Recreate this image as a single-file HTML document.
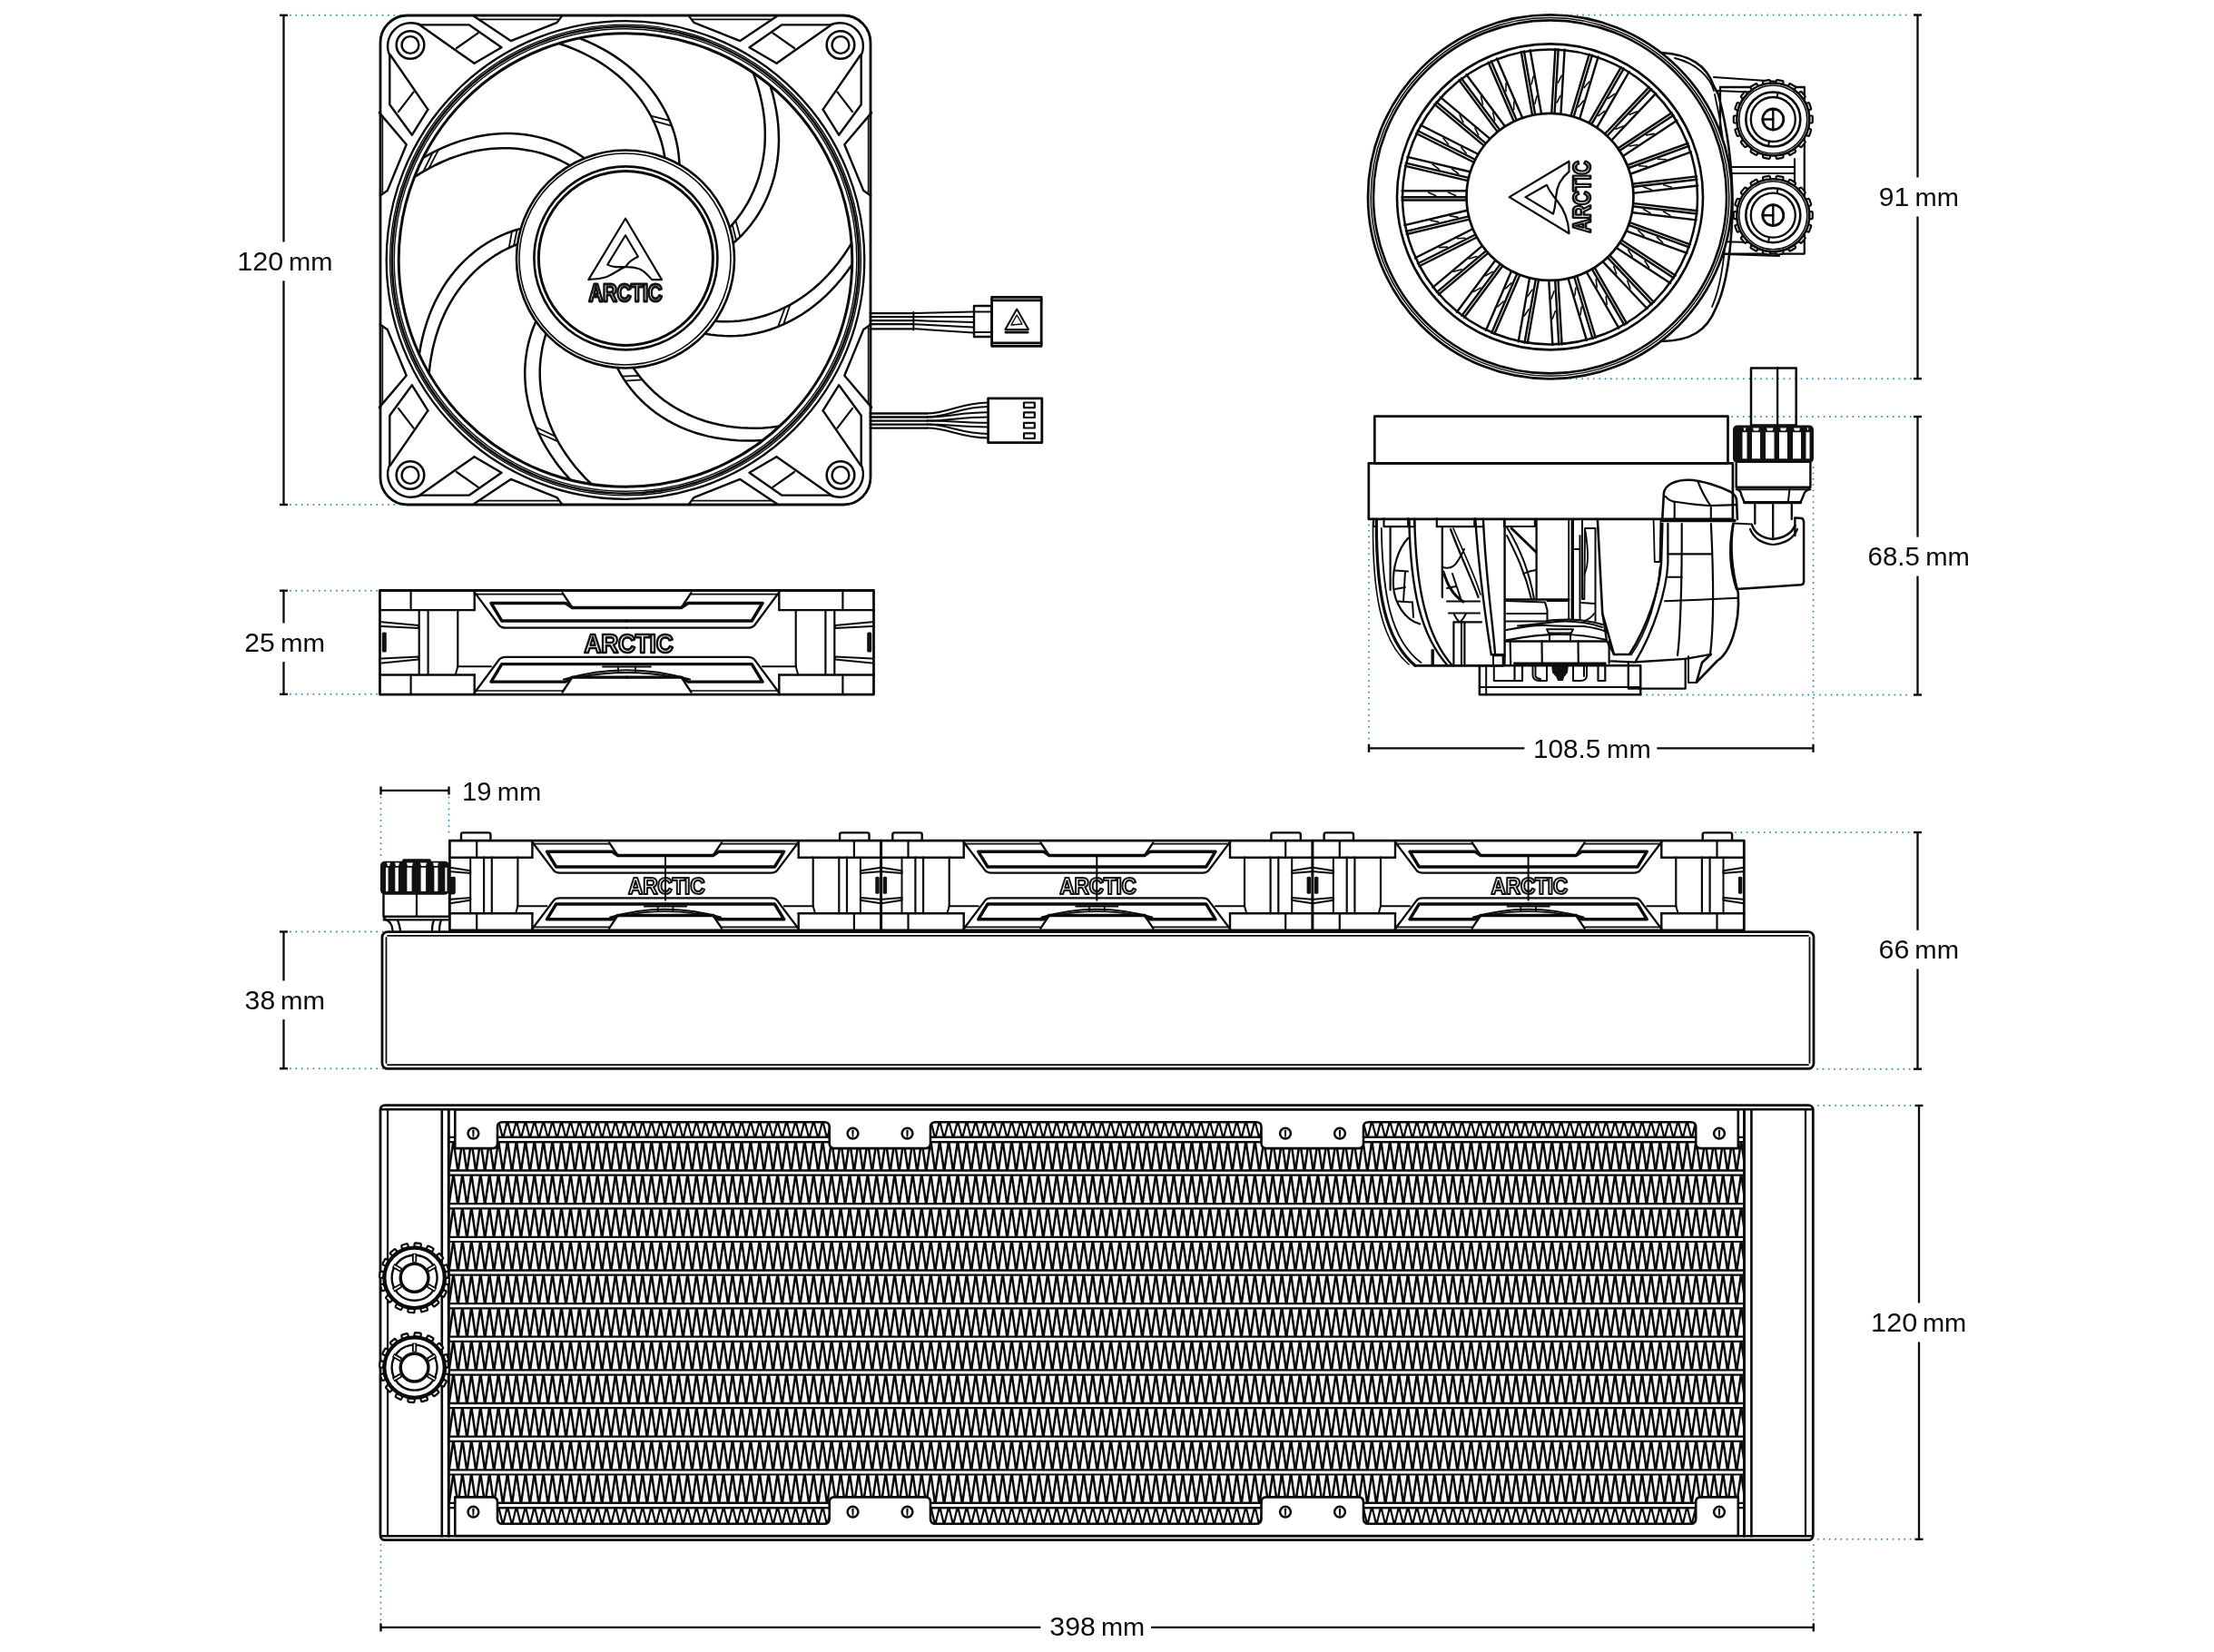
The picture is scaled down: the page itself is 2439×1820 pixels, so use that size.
<!DOCTYPE html>
<html><head><meta charset="utf-8"><style>
html,body{margin:0;padding:0;background:#fff;}
svg{display:block;will-change:transform;}
text{font-family:"Liberation Sans",sans-serif;fill:#0d0d0d;stroke:none;}
</style></head><body>
<svg width="2439" height="1820" viewBox="0 0 2439 1820">
<g fill="none" stroke="#0a0a0a" stroke-linecap="round" stroke-linejoin="round">
<g stroke-linecap="butt">
<line x1="308" y1="16.8" x2="317" y2="16.8" stroke-width="2.4"/>
<line x1="308" y1="556" x2="317" y2="556" stroke-width="2.4"/>
<line x1="312.5" y1="16.8" x2="312.5" y2="266.5" stroke-width="2.3"/>
<line x1="312.5" y1="309.3" x2="312.5" y2="556" stroke-width="2.3"/>
</g>
<line x1="320" y1="16.8" x2="441" y2="16.8" stroke="#2592a6" stroke-width="1.9" stroke-dasharray="0 6.35" stroke-linecap="round"/>
<line x1="320" y1="556" x2="441" y2="556" stroke="#2592a6" stroke-width="1.9" stroke-dasharray="0 6.35" stroke-linecap="round"/>
<g stroke-linecap="butt">
<line x1="308" y1="650.7" x2="317" y2="650.7" stroke-width="2.4"/>
<line x1="308" y1="764.8" x2="317" y2="764.8" stroke-width="2.4"/>
<line x1="312.5" y1="650.7" x2="312.5" y2="686.5" stroke-width="2.3"/>
<line x1="312.5" y1="729.1" x2="312.5" y2="764.8" stroke-width="2.3"/>
</g>
<line x1="320" y1="650.7" x2="416" y2="650.7" stroke="#2592a6" stroke-width="1.9" stroke-dasharray="0 6.35" stroke-linecap="round"/>
<line x1="320" y1="764.8" x2="416" y2="764.8" stroke="#2592a6" stroke-width="1.9" stroke-dasharray="0 6.35" stroke-linecap="round"/>
<g stroke-linecap="butt">
<line x1="308" y1="1026.5" x2="317" y2="1026.5" stroke-width="2.4"/>
<line x1="308" y1="1177.2" x2="317" y2="1177.2" stroke-width="2.4"/>
<line x1="312.5" y1="1026.5" x2="312.5" y2="1080.5" stroke-width="2.3"/>
<line x1="312.5" y1="1123.1" x2="312.5" y2="1177.2" stroke-width="2.3"/>
</g>
<line x1="320" y1="1026.5" x2="424" y2="1026.5" stroke="#2592a6" stroke-width="1.9" stroke-dasharray="0 6.35" stroke-linecap="round"/>
<line x1="320" y1="1177.2" x2="424" y2="1177.2" stroke="#2592a6" stroke-width="1.9" stroke-dasharray="0 6.35" stroke-linecap="round"/>
<g stroke-linecap="butt">
<line x1="419.5" y1="866.5" x2="419.5" y2="875.5" stroke-width="2.4"/>
<line x1="494.5" y1="866.5" x2="494.5" y2="875.5" stroke-width="2.4"/>
<line x1="419.5" y1="870.8" x2="494.5" y2="870.8" stroke-width="2.3"/>
</g>
<text x="509" y="881.6" font-size="30.0" textLength="32.5" lengthAdjust="spacingAndGlyphs">19</text>
<text x="547.7" y="881.6" font-size="27.8" textLength="48.6" lengthAdjust="spacingAndGlyphs">mm</text>
<line x1="419.5" y1="878.5" x2="419.5" y2="945" stroke="#2592a6" stroke-width="1.9" stroke-dasharray="0 6.35" stroke-linecap="round"/>
<line x1="494.5" y1="878.5" x2="494.5" y2="922" stroke="#2592a6" stroke-width="1.9" stroke-dasharray="0 6.35" stroke-linecap="round"/>
<g stroke-linecap="butt">
<line x1="2108" y1="16.5" x2="2117" y2="16.5" stroke-width="2.4"/>
<line x1="2108" y1="417.2" x2="2117" y2="417.2" stroke-width="2.4"/>
<line x1="2112.5" y1="16.5" x2="2112.5" y2="195.5" stroke-width="2.3"/>
<line x1="2112.5" y1="238.5" x2="2112.5" y2="417.2" stroke-width="2.3"/>
</g>
<line x1="1725" y1="16.5" x2="2106" y2="16.5" stroke="#2592a6" stroke-width="1.9" stroke-dasharray="0 6.35" stroke-linecap="round"/>
<line x1="1705" y1="417.2" x2="2106" y2="417.2" stroke="#2592a6" stroke-width="1.9" stroke-dasharray="0 6.35" stroke-linecap="round"/>
<g stroke-linecap="butt">
<line x1="2108" y1="459" x2="2117" y2="459" stroke-width="2.4"/>
<line x1="2108" y1="765.5" x2="2117" y2="765.5" stroke-width="2.4"/>
<line x1="2112.5" y1="459" x2="2112.5" y2="591.6" stroke-width="2.3"/>
<line x1="2112.5" y1="634.6" x2="2112.5" y2="765.5" stroke-width="2.3"/>
</g>
<line x1="1908" y1="459" x2="2106" y2="459" stroke="#2592a6" stroke-width="1.9" stroke-dasharray="0 6.35" stroke-linecap="round"/>
<line x1="1808" y1="765.5" x2="2106" y2="765.5" stroke="#2592a6" stroke-width="1.9" stroke-dasharray="0 6.35" stroke-linecap="round"/>
<g stroke-linecap="butt">
<line x1="1508" y1="819.8" x2="1508" y2="828.8" stroke-width="2.4"/>
<line x1="1997.5" y1="819.8" x2="1997.5" y2="828.8" stroke-width="2.4"/>
<line x1="1508" y1="824.3" x2="1679.4" y2="824.3" stroke-width="2.3"/>
<line x1="1825.3" y1="824.3" x2="1997.5" y2="824.3" stroke-width="2.3"/>
</g>
<line x1="1508" y1="515" x2="1508" y2="818" stroke="#2592a6" stroke-width="1.9" stroke-dasharray="0 6.35" stroke-linecap="round"/>
<line x1="1997.5" y1="515" x2="1997.5" y2="818" stroke="#2592a6" stroke-width="1.9" stroke-dasharray="0 6.35" stroke-linecap="round"/>
<g stroke-linecap="butt">
<line x1="2108" y1="917" x2="2117" y2="917" stroke-width="2.4"/>
<line x1="2108" y1="1177.7" x2="2117" y2="1177.7" stroke-width="2.4"/>
<line x1="2112.5" y1="917" x2="2112.5" y2="1024.8" stroke-width="2.3"/>
<line x1="2112.5" y1="1067.4" x2="2112.5" y2="1177.7" stroke-width="2.3"/>
</g>
<line x1="1912" y1="917" x2="2106" y2="917" stroke="#2592a6" stroke-width="1.9" stroke-dasharray="0 6.35" stroke-linecap="round"/>
<line x1="2002" y1="1177.7" x2="2106" y2="1177.7" stroke="#2592a6" stroke-width="1.9" stroke-dasharray="0 6.35" stroke-linecap="round"/>
<g stroke-linecap="butt">
<line x1="2109.5" y1="1218" x2="2118.5" y2="1218" stroke-width="2.4"/>
<line x1="2109.5" y1="1695.8" x2="2118.5" y2="1695.8" stroke-width="2.4"/>
<line x1="2114" y1="1218" x2="2114" y2="1435.5" stroke-width="2.3"/>
<line x1="2114" y1="1478.5" x2="2114" y2="1695.8" stroke-width="2.3"/>
</g>
<line x1="2003" y1="1218" x2="2108" y2="1218" stroke="#2592a6" stroke-width="1.9" stroke-dasharray="0 6.35" stroke-linecap="round"/>
<line x1="2003" y1="1695.8" x2="2108" y2="1695.8" stroke="#2592a6" stroke-width="1.9" stroke-dasharray="0 6.35" stroke-linecap="round"/>
<g stroke-linecap="butt">
<line x1="419.5" y1="1788.4" x2="419.5" y2="1797.4" stroke-width="2.4"/>
<line x1="1997.8" y1="1788.4" x2="1997.8" y2="1797.4" stroke-width="2.4"/>
<line x1="419.5" y1="1792.9" x2="1146.3" y2="1792.9" stroke-width="2.3"/>
<line x1="1268" y1="1792.9" x2="1997.8" y2="1792.9" stroke-width="2.3"/>
</g>
<line x1="419.5" y1="1702" x2="419.5" y2="1787" stroke="#2592a6" stroke-width="1.9" stroke-dasharray="0 6.35" stroke-linecap="round"/>
<line x1="1997.8" y1="1702" x2="1997.8" y2="1787" stroke="#2592a6" stroke-width="1.9" stroke-dasharray="0 6.35" stroke-linecap="round"/>
<text x="261.2" y="297.9" font-size="30.0" textLength="51.1" lengthAdjust="spacingAndGlyphs">120</text>
<text x="318" y="297.9" font-size="27.8" textLength="48.5" lengthAdjust="spacingAndGlyphs">mm</text>
<text x="2069.7" y="227.3" font-size="30.0" textLength="33.6" lengthAdjust="spacingAndGlyphs">91</text>
<text x="2109.6" y="227.3" font-size="27.8" textLength="48.4" lengthAdjust="spacingAndGlyphs">mm</text>
<text x="2057.6" y="623.4" font-size="30.0" textLength="57.3" lengthAdjust="spacingAndGlyphs">68.5</text>
<text x="2121.2" y="623.4" font-size="27.8" textLength="48.7" lengthAdjust="spacingAndGlyphs">mm</text>
<text x="1688.9" y="835.2" font-size="30.0" textLength="74.4" lengthAdjust="spacingAndGlyphs">108.5</text>
<text x="1770.1" y="835.2" font-size="27.8" textLength="48.6" lengthAdjust="spacingAndGlyphs">mm</text>
<text x="269.3" y="717.6" font-size="30.0" textLength="33.5" lengthAdjust="spacingAndGlyphs">25</text>
<text x="308.9" y="717.6" font-size="27.8" textLength="49.1" lengthAdjust="spacingAndGlyphs">mm</text>
<text x="269.6" y="1111.8" font-size="30.0" textLength="33.6" lengthAdjust="spacingAndGlyphs">38</text>
<text x="308.9" y="1111.8" font-size="27.8" textLength="49.1" lengthAdjust="spacingAndGlyphs">mm</text>
<text x="2069.6" y="1055.9" font-size="30.0" textLength="33.8" lengthAdjust="spacingAndGlyphs">66</text>
<text x="2109.3" y="1055.9" font-size="27.8" textLength="48.7" lengthAdjust="spacingAndGlyphs">mm</text>
<text x="2061.1" y="1467.3" font-size="30.0" textLength="51.2" lengthAdjust="spacingAndGlyphs">120</text>
<text x="2117.9" y="1467.3" font-size="27.8" textLength="48.4" lengthAdjust="spacingAndGlyphs">mm</text>
<text x="1156.3" y="1801.8" font-size="30.0" textLength="50.5" lengthAdjust="spacingAndGlyphs">398</text>
<text x="1213" y="1801.8" font-size="27.8" textLength="48.2" lengthAdjust="spacingAndGlyphs">mm</text>
<g id="fanfront">
<rect x="419" y="17" width="540" height="539" rx="30" stroke-width="2.8"/>
<circle cx="452" cy="49.5" r="15.3" stroke-width="2.6"/>
<circle cx="452" cy="49.5" r="9.4" stroke-width="2.4"/>
<polyline points="463,27.4 517,27.4 552.5,52.2 522.5,69.8" stroke-width="2.4"/>
<line x1="461" y1="26.6" x2="522.5" y2="69.8" stroke-width="2.4"/>
<polyline points="429.3,61 429.3,115.3 453.9,148.7 471.4,120.6" stroke-width="2.4"/>
<line x1="430" y1="60.5" x2="471.4" y2="120.6" stroke-width="2.4"/>
<path d="M429.3,61 A25.5,25.5 0 0 1 463,27.4" stroke-width="2.4"/>
<line x1="503" y1="53" x2="526.6" y2="36.3" stroke-width="2.2"/>
<line x1="438.9" y1="123.2" x2="455.6" y2="101.3" stroke-width="2.2"/>
<polyline points="522.3,17.9 562.7,45.1 613.6,24.9 618.9,17.9" stroke-width="2.4"/>
<line x1="527.6" y1="21.4" x2="615.5" y2="21.4" stroke-width="1.6"/>
<polyline points="417.9,124.1 447.7,159.2 426.7,210.1 418.8,215.4" stroke-width="2.4"/>
<line x1="421.4" y1="128" x2="421.4" y2="212" stroke-width="1.6"/>
<circle cx="926" cy="49.5" r="15.3" stroke-width="2.6"/>
<circle cx="926" cy="49.5" r="9.4" stroke-width="2.4"/>
<polyline points="915,27.4 861,27.4 825.5,52.2 855.5,69.8" stroke-width="2.4"/>
<line x1="917" y1="26.6" x2="855.5" y2="69.8" stroke-width="2.4"/>
<polyline points="948.7,61 948.7,115.3 924.1,148.7 906.6,120.6" stroke-width="2.4"/>
<line x1="948" y1="60.5" x2="906.6" y2="120.6" stroke-width="2.4"/>
<path d="M948.7,61 A25.5,25.5 0 0 0 915,27.4" stroke-width="2.4"/>
<line x1="875" y1="53" x2="851.4" y2="36.3" stroke-width="2.2"/>
<line x1="939.1" y1="123.2" x2="922.4" y2="101.3" stroke-width="2.2"/>
<polyline points="855.7,17.9 815.3,45.1 764.4,24.9 759.1,17.9" stroke-width="2.4"/>
<line x1="850.4" y1="21.4" x2="762.5" y2="21.4" stroke-width="1.6"/>
<polyline points="960.1,124.1 930.3,159.2 951.3,210.1 959.2,215.4" stroke-width="2.4"/>
<line x1="956.6" y1="128" x2="956.6" y2="212" stroke-width="1.6"/>
<circle cx="452" cy="523.5" r="15.3" stroke-width="2.6"/>
<circle cx="452" cy="523.5" r="9.4" stroke-width="2.4"/>
<polyline points="463,545.6 517,545.6 552.5,520.8 522.5,503.2" stroke-width="2.4"/>
<line x1="461" y1="546.4" x2="522.5" y2="503.2" stroke-width="2.4"/>
<polyline points="429.3,512 429.3,457.7 453.9,424.3 471.4,452.4" stroke-width="2.4"/>
<line x1="430" y1="512.5" x2="471.4" y2="452.4" stroke-width="2.4"/>
<path d="M429.3,512 A25.5,25.5 0 0 0 463,545.6" stroke-width="2.4"/>
<line x1="503" y1="520" x2="526.6" y2="536.7" stroke-width="2.2"/>
<line x1="438.9" y1="449.8" x2="455.6" y2="471.7" stroke-width="2.2"/>
<polyline points="522.3,555.1 562.7,527.9 613.6,548.1 618.9,555.1" stroke-width="2.4"/>
<line x1="527.6" y1="551.6" x2="615.5" y2="551.6" stroke-width="1.6"/>
<polyline points="417.9,448.9 447.7,413.8 426.7,362.9 418.8,357.6" stroke-width="2.4"/>
<line x1="421.4" y1="445" x2="421.4" y2="361" stroke-width="1.6"/>
<circle cx="926" cy="523.5" r="15.3" stroke-width="2.6"/>
<circle cx="926" cy="523.5" r="9.4" stroke-width="2.4"/>
<polyline points="915,545.6 861,545.6 825.5,520.8 855.5,503.2" stroke-width="2.4"/>
<line x1="917" y1="546.4" x2="855.5" y2="503.2" stroke-width="2.4"/>
<polyline points="948.7,512 948.7,457.7 924.1,424.3 906.6,452.4" stroke-width="2.4"/>
<line x1="948" y1="512.5" x2="906.6" y2="452.4" stroke-width="2.4"/>
<path d="M948.7,512 A25.5,25.5 0 0 1 915,545.6" stroke-width="2.4"/>
<line x1="875" y1="520" x2="851.4" y2="536.7" stroke-width="2.2"/>
<line x1="939.1" y1="449.8" x2="922.4" y2="471.7" stroke-width="2.2"/>
<polyline points="855.7,555.1 815.3,527.9 764.4,548.1 759.1,555.1" stroke-width="2.4"/>
<line x1="850.4" y1="551.6" x2="762.5" y2="551.6" stroke-width="1.6"/>
<polyline points="960.1,448.9 930.3,413.8 951.3,362.9 959.2,357.6" stroke-width="2.4"/>
<line x1="956.6" y1="445" x2="956.6" y2="361" stroke-width="1.6"/>
<circle cx="689" cy="286.5" r="263.3" stroke-width="2.3"/>
<circle cx="689" cy="286.5" r="259.4" stroke-width="1.4"/>
<circle cx="689" cy="286.5" r="257.2" stroke-width="2.6"/>
<circle cx="689" cy="286.5" r="254.8" stroke-width="1.4"/>
<circle cx="689" cy="286.5" r="249.8" stroke-width="3.0"/>
<polyline points="467.3,173.1 475.1,168.8 483,164.9 490.9,161.4 498.9,158.2 506.9,155.4 514.9,153.1 523,151.1 531,149.5 539,148.3 547,147.5 555,147.1 562.8,147.1 570.6,147.5 578.3,148.3 585.9,149.5 593.4,151.1 600.6,153 607.7,155.3 614.6,157.9 621.3,160.9 627.8,164.2 634,167.8 639.9,171.6 645.6,175.7" stroke-width="2.5"/>
<polyline points="457.6,194.4 464.8,189.9 472,185.8 479.3,182 486.7,178.5 494.1,175.3 501.6,172.6 509.1,170.1 516.6,168 524.2,166.3 531.8,165 539.4,164 546.9,163.4 554.4,163.2 561.9,163.3 569.3,163.8 576.6,164.7 583.8,165.9 590.8,167.4 597.8,169.3 604.5,171.5 611.1,174 617.5,176.9 623.7,180 629.7,183.3" stroke-width="2.5"/>
<line x1="466.2" y1="189.1" x2="476.7" y2="168" stroke-width="1.8"/>
<line x1="472.3" y1="185.6" x2="483.3" y2="164.7" stroke-width="1.8"/>
<polyline points="639.5,42.5 647.7,45.9 655.7,49.6 663.4,53.6 670.8,57.9 677.9,62.4 684.8,67.2 691.4,72.3 697.6,77.5 703.6,83.1 709.2,88.8 714.4,94.8 719.3,101 723.9,107.3 728,113.8 731.8,120.5 735.2,127.3 738.3,134.2 740.9,141.2 743.2,148.2 745,155.3 746.5,162.4 747.5,169.5 748.2,176.5 748.6,183.5" stroke-width="2.5"/>
<polyline points="616.7,48.2 624.7,51 632.5,54.1 640,57.4 647.3,61 654.4,64.8 661.2,68.9 667.8,73.3 674.2,77.9 680.2,82.7 686,87.8 691.5,93.1 696.6,98.7 701.5,104.4 706.1,110.3 710.3,116.4 714.2,122.6 717.7,129 720.9,135.5 723.7,142.1 726.2,148.8 728.4,155.5 730.2,162.3 731.6,169 732.7,175.8" stroke-width="2.5"/>
<line x1="717" y1="127.7" x2="737.7" y2="132.8" stroke-width="1.8"/>
<line x1="719.8" y1="133.2" x2="740" y2="138.6" stroke-width="1.8"/>
<polyline points="848.9,95.6 851.4,104.2 853.4,112.8 855.1,121.3 856.4,129.7 857.3,138.2 857.8,146.5 858,154.8 857.7,163 857.1,171 856.1,179 854.7,186.8 853,194.5 850.8,202 848.3,209.4 845.5,216.5 842.3,223.4 838.8,230.1 835,236.5 830.9,242.6 826.5,248.5 821.9,254 817,259.3 811.9,264.2 806.7,268.8" stroke-width="2.5"/>
<polyline points="830.2,81.4 833,89.4 835.5,97.4 837.6,105.4 839.3,113.3 840.7,121.2 841.8,129.2 842.5,137 842.8,144.8 842.8,152.6 842.5,160.3 841.7,167.9 840.6,175.4 839.2,182.7 837.4,190 835.3,197.1 832.8,204 830,210.8 826.9,217.3 823.6,223.6 819.9,229.7 816,235.6 811.8,241.2 807.4,246.6 802.8,251.6" stroke-width="2.5"/>
<line x1="810.4" y1="243" x2="815.4" y2="260.9" stroke-width="1.8"/>
<line x1="806.7" y1="247.4" x2="811.1" y2="265" stroke-width="1.8"/>
<polyline points="937.9,292.5 932.7,299.8 927.3,306.7 921.7,313.3 915.9,319.6 909.9,325.6 903.7,331.2 897.3,336.5 890.8,341.4 884.1,346 877.2,350.1 870.2,353.9 863.1,357.4 855.9,360.4 848.7,363 841.3,365.2 833.9,367 826.5,368.4 819.1,369.5 811.8,370.1 804.5,370.3 797.2,370.1 790.1,369.6 783.1,368.7 776.2,367.5" stroke-width="2.5"/>
<polyline points="937.4,269.1 932.9,276.2 928.2,283.1 923.3,289.7 918.1,296.1 912.8,302.1 907.3,307.9 901.6,313.3 895.7,318.5 889.6,323.3 883.4,327.8 877,331.9 870.4,335.8 863.8,339.2 857,342.4 850.1,345.1 843.2,347.5 836.2,349.5 829.1,351.2 822,352.5 815,353.5 807.9,354 801,354.3 794,354.2 787.2,353.7" stroke-width="2.5"/>
<line x1="870.4" y1="335.8" x2="863.1" y2="357.4" stroke-width="1.8"/>
<line x1="864.8" y1="338.7" x2="857.1" y2="359.9" stroke-width="1.8"/>
<polyline points="839.5,484.9 830.6,485.4 821.8,485.5 813.1,485.2 804.6,484.6 796.2,483.6 787.9,482.3 779.8,480.6 771.9,478.5 764.1,476.1 756.6,473.3 749.3,470.3 742.2,466.8 735.3,463.1 728.7,459 722.4,454.7 716.4,450 710.7,445.1 705.3,440 700.2,434.6 695.5,429 691.1,423.3 687,417.4 683.4,411.3 680,405.2" stroke-width="2.5"/>
<polyline points="857.5,469.8 849.1,470.8 840.8,471.4 832.5,471.7 824.4,471.6 816.3,471.2 808.4,470.5 800.6,469.4 792.9,468 785.3,466.3 777.9,464.2 770.7,461.8 763.6,459.1 756.7,456 750.1,452.7 743.6,449 737.4,445.1 731.5,440.9 725.8,436.4 720.3,431.7 715.2,426.7 710.4,421.6 705.8,416.3 701.6,410.8 697.7,405.2" stroke-width="2.5"/>
<line x1="707.6" y1="418.4" x2="688.6" y2="419.7" stroke-width="1.8"/>
<line x1="703.9" y1="413.9" x2="685.4" y2="414.7" stroke-width="1.8"/>
<polyline points="627.7,527.8 621.8,521.2 616.2,514.4 611,507.4 606.2,500.4 601.7,493.2 597.6,485.9 593.9,478.5 590.6,471 587.6,463.5 585.1,455.8 582.9,448.2 581.2,440.5 579.8,432.8 578.9,425.1 578.4,417.5 578.2,409.9 578.5,402.3 579.2,394.9 580.2,387.6 581.6,380.4 583.4,373.4 585.5,366.5 587.9,359.9 590.6,353.5" stroke-width="2.5"/>
<polyline points="650.7,532.5 644.7,526.6 639.1,520.4 633.7,514.2 628.7,507.8 624,501.2 619.6,494.6 615.5,487.8 611.8,480.9 608.5,473.9 605.5,466.8 602.9,459.6 600.6,452.4 598.7,445.1 597.2,437.8 596,430.5 595.2,423.2 594.8,415.9 594.7,408.7 595,401.5 595.7,394.4 596.7,387.4 598,380.6 599.7,373.8 601.6,367.3" stroke-width="2.5"/>
<line x1="614.8" y1="486.4" x2="593.2" y2="477" stroke-width="1.8"/>
<line x1="611.7" y1="480.6" x2="590.4" y2="470.7" stroke-width="1.8"/>
<polyline points="462.1,389 463.6,380.3 465.5,371.7 467.7,363.3 470.2,355.1 473,347.1 476.1,339.4 479.6,331.8 483.4,324.6 487.4,317.6 491.8,310.8 496.4,304.4 501.4,298.2 506.5,292.4 512,286.8 517.6,281.7 523.5,276.8 529.5,272.3 535.8,268.2 542.1,264.5 548.6,261.1 555.2,258.1 561.9,255.5 568.6,253.2 575.3,251.4" stroke-width="2.5"/>
<polyline points="472.8,409.9 473.7,401.6 475,393.3 476.5,385.2 478.4,377.3 480.6,369.5 483.1,361.9 485.8,354.6 488.9,347.4 492.3,340.4 496,333.6 499.9,327.1 504.2,320.8 508.7,314.8 513.4,309.1 518.4,303.6 523.6,298.4 529.1,293.5 534.7,289 540.5,284.7 546.4,280.8 552.5,277.2 558.7,274 565,271.1 571.4,268.5" stroke-width="2.5"/>
<line x1="560.7" y1="273" x2="564" y2="254.7" stroke-width="1.8"/>
<line x1="566" y1="270.7" x2="569.7" y2="252.9" stroke-width="1.8"/>
<circle cx="689.0" cy="285.5" r="120" stroke-width="2.6" fill="#fff"/>
<circle cx="688.5" cy="285.5" r="116.5" stroke-width="1.6"/>
<circle cx="689.4" cy="284.4" r="101" stroke-width="2.6"/>
<circle cx="689.4" cy="284.4" r="96" stroke-width="3.0"/>
<path d="M689,240.7 L729,308.1 L718.2,308.1 C712,301 708,297 703.6,296 C699,294.5 695,294.1 690.9,294.1 L678.1,294.1 C674,293.5 671,292.5 669.2,291.6 L689,259.2 L702.9,282.7 C697,285.5 692,289 689.6,293.5 C687,295 686,295.5 684.5,296 C678,300 673,303 668.6,304.9 C662,307 656,307.8 650.8,307.8 L648.3,308.1 Z" stroke-width="2.1"/>
<text x="0" y="0" transform="translate(648.5,332.3) scale(0.815,1)" font-size="27" font-weight="bold" style="fill:#fff;stroke:#111;stroke-width:2.9px;letter-spacing:-0.5px">ARCTIC</text>
<line x1="958.6" y1="345.1" x2="1006.4" y2="345.1" stroke-width="2.3"/>
<line x1="958.6" y1="349.1" x2="1006.4" y2="349.1" stroke-width="2.3"/>
<line x1="958.6" y1="353.1" x2="1006.4" y2="353.1" stroke-width="2.3"/>
<line x1="958.6" y1="357.2" x2="1006.4" y2="357.2" stroke-width="2.3"/>
<line x1="958.6" y1="362.3" x2="1006.4" y2="362.3" stroke-width="2.3"/>
<line x1="1008" y1="345.1" x2="1072" y2="343.4" stroke-width="2.0"/>
<line x1="1008" y1="349.1" x2="1072" y2="349" stroke-width="2.0"/>
<line x1="1008" y1="353.1" x2="1072" y2="355" stroke-width="2.0"/>
<line x1="1008" y1="357.2" x2="1072" y2="360.6" stroke-width="2.0"/>
<line x1="1008" y1="362.3" x2="1072" y2="366.4" stroke-width="2.0"/>
<line x1="1006.4" y1="344" x2="1006.4" y2="363.5" stroke-width="2.0"/>
<rect x="1073" y="337" width="19.5" height="34" stroke-width="2.4"/>
<line x1="1073" y1="343.5" x2="1092" y2="343.5" stroke-width="2.0"/>
<line x1="1073" y1="366" x2="1092" y2="366" stroke-width="2.0"/>
<rect x="1092.6" y="327.3" width="54.6" height="54" stroke-width="2.8"/>
<line x1="1092.6" y1="330.8" x2="1147.2" y2="330.8" stroke-width="2.8"/>
<line x1="1092.6" y1="377.9" x2="1147.2" y2="377.9" stroke-width="2.8"/>
<path d="M1120.2,340.5 L1133,363 L1107.4,363 Z" stroke-width="2.0"/>
<path d="M1120.2,347 L1126,357 L1114,358 Z" stroke-width="1.4"/>
<line x1="1108" y1="366" x2="1132" y2="366" stroke-width="3.0"/>
<line x1="958.6" y1="455.5" x2="1021.3" y2="455.5" stroke-width="2.3"/>
<line x1="958.6" y1="459.5" x2="1021.3" y2="459.5" stroke-width="2.3"/>
<line x1="958.6" y1="463.6" x2="1021.3" y2="463.6" stroke-width="2.3"/>
<line x1="958.6" y1="467.6" x2="1021.3" y2="467.6" stroke-width="2.3"/>
<line x1="958.6" y1="471.6" x2="1021.3" y2="471.6" stroke-width="2.3"/>
<path d="M1021.3,455.5 C1045,455.5 1058,443.4 1088.6,443.4" stroke-width="2.0"/>
<path d="M1021.3,459.5 C1045,459.5 1058,448.0 1088.6,448.0" stroke-width="2.0"/>
<path d="M1021.3,459.5 C1045,459.5 1058,454.3 1088.6,454.3" stroke-width="2.0"/>
<path d="M1021.3,463.6 C1045,463.6 1058,459.5 1088.6,459.5" stroke-width="2.0"/>
<path d="M1021.3,463.6 C1045,463.6 1058,465.8 1088.6,465.8" stroke-width="2.0"/>
<path d="M1021.3,467.6 C1045,467.6 1058,470.4 1088.6,470.4" stroke-width="2.0"/>
<path d="M1021.3,467.6 C1045,467.6 1058,477.9 1088.6,477.9" stroke-width="2.0"/>
<path d="M1021.3,471.6 C1045,471.6 1058,482.5 1088.6,482.5" stroke-width="2.0"/>
<rect x="1088.6" y="438.8" width="59.2" height="48.9" stroke-width="2.8"/>
<rect x="1128" y="443.5" width="11.8" height="5.6" stroke-width="2.2"/>
<rect x="1128" y="454.4" width="11.8" height="5.6" stroke-width="2.2"/>
<rect x="1128" y="465.9" width="11.8" height="5.6" stroke-width="2.2"/>
<rect x="1128" y="477.4" width="11.8" height="5.6" stroke-width="2.2"/>
</g>
<g>
<rect x="418.5" y="650.5" width="544" height="114.6" stroke-width="2.8" fill="#fff"/>
<line x1="418.5" y1="672.1" x2="522.7" y2="672.1" stroke-width="2.4"/>
<line x1="522.7" y1="650.5" x2="522.7" y2="672.1" stroke-width="2.4"/>
<line x1="452.6" y1="650.5" x2="452.6" y2="672.1" stroke-width="2.2"/>
<path d="M522.7,652.4 L549.5,688.5 Q552,691.7 557,691.7 L690.5,691.7" stroke-width="2.3"/>
<path d="M541,664.5 L623,664.5 L630.5,669.5 L690.5,669.5 M541,664.5 L552.8,684 L690.5,684" stroke-width="3.4"/>
<line x1="523.5" y1="654.6" x2="619.6" y2="654.6" stroke-width="1.6"/>
<line x1="418.5" y1="743.5" x2="522.7" y2="743.5" stroke-width="2.4"/>
<line x1="522.7" y1="765.1" x2="522.7" y2="743.5" stroke-width="2.4"/>
<line x1="452.6" y1="765.1" x2="452.6" y2="743.5" stroke-width="2.2"/>
<path d="M522.7,763.2 L549.5,727.1 Q552,723.9 557,723.9 L690.5,723.9" stroke-width="2.3"/>
<path d="M541,751.1 L623,751.1 L630.5,746.1 L690.5,746.1 M541,751.1 L552.8,731.6 L690.5,731.6" stroke-width="3.4"/>
<line x1="523.5" y1="761" x2="619.6" y2="761" stroke-width="1.6"/>
<path d="M619.6,653.1 L630.5,669.5 L690.5,669.5" stroke-width="2.3"/>
<path d="M619.6,762.5 L630.5,746.1 L690.5,746.1" stroke-width="2.3"/>
<line x1="461.7" y1="672.1" x2="461.7" y2="743.5" stroke-width="2.2"/>
<line x1="471.6" y1="672.1" x2="471.6" y2="743.5" stroke-width="2.2"/>
<line x1="504.3" y1="672.1" x2="504.3" y2="734.3" stroke-width="2.2"/>
<line x1="504.3" y1="734.3" x2="501.7" y2="743.5" stroke-width="2.0"/>
<line x1="504.3" y1="734.3" x2="541" y2="734.3" stroke-width="2.0"/>
<path d="M420.5,685.2 L461,689 L461,692 L420.5,690" stroke-width="2.0"/>
<path d="M420.5,730.4 L461,726.6 L461,723.6 L420.5,725.6" stroke-width="2.0"/>
<rect x="420.8" y="696.5" width="5" height="22" rx="1.5" fill="#111" stroke="none"/>
<line x1="962.5" y1="672.1" x2="858.3" y2="672.1" stroke-width="2.4"/>
<line x1="858.3" y1="650.5" x2="858.3" y2="672.1" stroke-width="2.4"/>
<line x1="928.4" y1="650.5" x2="928.4" y2="672.1" stroke-width="2.2"/>
<path d="M858.3,652.4 L831.5,688.5 Q829,691.7 824,691.7 L690.5,691.7" stroke-width="2.3"/>
<path d="M840,664.5 L758,664.5 L750.5,669.5 L690.5,669.5 M840,664.5 L828.2,684 L690.5,684" stroke-width="3.4"/>
<line x1="857.5" y1="654.6" x2="761.4" y2="654.6" stroke-width="1.6"/>
<line x1="962.5" y1="743.5" x2="858.3" y2="743.5" stroke-width="2.4"/>
<line x1="858.3" y1="765.1" x2="858.3" y2="743.5" stroke-width="2.4"/>
<line x1="928.4" y1="765.1" x2="928.4" y2="743.5" stroke-width="2.2"/>
<path d="M858.3,763.2 L831.5,727.1 Q829,723.9 824,723.9 L690.5,723.9" stroke-width="2.3"/>
<path d="M840,751.1 L758,751.1 L750.5,746.1 L690.5,746.1 M840,751.1 L828.2,731.6 L690.5,731.6" stroke-width="3.4"/>
<line x1="857.5" y1="761" x2="761.4" y2="761" stroke-width="1.6"/>
<path d="M761.4,653.1 L750.5,669.5 L690.5,669.5" stroke-width="2.3"/>
<path d="M761.4,762.5 L750.5,746.1 L690.5,746.1" stroke-width="2.3"/>
<line x1="919.3" y1="672.1" x2="919.3" y2="743.5" stroke-width="2.2"/>
<line x1="909.4" y1="672.1" x2="909.4" y2="743.5" stroke-width="2.2"/>
<line x1="876.7" y1="672.1" x2="876.7" y2="734.3" stroke-width="2.2"/>
<line x1="876.7" y1="734.3" x2="879.3" y2="743.5" stroke-width="2.0"/>
<line x1="876.7" y1="734.3" x2="840" y2="734.3" stroke-width="2.0"/>
<path d="M960.5,685.2 L920,689 L920,692 L960.5,690" stroke-width="2.0"/>
<path d="M960.5,730.4 L920,726.6 L920,723.6 L960.5,725.6" stroke-width="2.0"/>
<rect x="955.2" y="696.5" width="5" height="22" rx="1.5" fill="#111" stroke="none"/>
<path d="M621,748.5 Q690,728 760,748.5" stroke-width="2.2"/>
<path d="M638,746 Q690,736 743,746" stroke-width="1.8"/>
<line x1="681" y1="734.5" x2="681" y2="741" stroke-width="1.8"/>
<line x1="700" y1="734.5" x2="700" y2="741" stroke-width="1.8"/>
<line x1="664" y1="734.5" x2="717" y2="734.5" stroke-width="1.8"/>
<text x="0" y="0" transform="translate(643.5,719.3) scale(0.9,1)" font-size="29.3" font-weight="bold" style="fill:#fff;stroke:#111;stroke-width:2.6px;letter-spacing:-0.3px">ARCTIC</text>
</g>
<rect x="421" y="1026.6" width="1577" height="150.8" rx="6" stroke-width="2.8" fill="#fff"/>
<line x1="427" y1="1030.8" x2="1992" y2="1030.8" stroke-width="1.8"/>
<line x1="425.5" y1="1033" x2="425.5" y2="1171" stroke-width="1.8"/>
<line x1="1993.5" y1="1033" x2="1993.5" y2="1171" stroke-width="1.8"/>
<line x1="427" y1="1173.2" x2="1992" y2="1173.2" stroke-width="1.8"/>
<rect x="508" y="917.4" width="32.4" height="10" rx="2" stroke-width="2.4" fill="#fff"/>
<rect x="925.1" y="917.4" width="32.4" height="10" rx="2" stroke-width="2.4" fill="#fff"/>
<g>
<rect x="495.4" y="926.1" width="475.3" height="98.8" stroke-width="2.8" fill="#fff"/>
<line x1="495.4" y1="944.7" x2="586.4" y2="944.7" stroke-width="2.4"/>
<line x1="586.4" y1="926.1" x2="586.4" y2="944.7" stroke-width="2.4"/>
<line x1="525.2" y1="926.1" x2="525.2" y2="944.7" stroke-width="2.2"/>
<path d="M586.4,927.7 L609.9,958.9 Q612,961.6 616.4,961.6 L733,961.6" stroke-width="2.3"/>
<path d="M602.4,938.2 L674.1,938.2 L680.6,942.5 L733,942.5 M602.4,938.2 L612.7,955 L733,955" stroke-width="3.4"/>
<line x1="587.1" y1="929.6" x2="671.1" y2="929.6" stroke-width="1.6"/>
<line x1="495.4" y1="1006.3" x2="586.4" y2="1006.3" stroke-width="2.4"/>
<line x1="586.4" y1="1024.9" x2="586.4" y2="1006.3" stroke-width="2.4"/>
<line x1="525.2" y1="1024.9" x2="525.2" y2="1006.3" stroke-width="2.2"/>
<path d="M586.4,1023.3 L609.9,992.1 Q612,989.4 616.4,989.4 L733,989.4" stroke-width="2.3"/>
<path d="M602.4,1012.8 L674.1,1012.8 L680.6,1008.5 L733,1008.5 M602.4,1012.8 L612.7,996 L733,996" stroke-width="3.4"/>
<line x1="587.1" y1="1021.4" x2="671.1" y2="1021.4" stroke-width="1.6"/>
<path d="M671.1,928.3 L680.6,942.5 L733,942.5" stroke-width="2.3"/>
<path d="M671.1,1022.7 L680.6,1008.5 L733,1008.5" stroke-width="2.3"/>
<line x1="533.1" y1="944.7" x2="533.1" y2="1006.3" stroke-width="2.2"/>
<line x1="541.8" y1="944.7" x2="541.8" y2="1006.3" stroke-width="2.2"/>
<line x1="570.4" y1="944.7" x2="570.4" y2="998.3" stroke-width="2.2"/>
<line x1="570.4" y1="998.3" x2="568.1" y2="1006.3" stroke-width="2.0"/>
<line x1="570.4" y1="998.3" x2="602.4" y2="998.3" stroke-width="2.0"/>
<line x1="518.2" y1="944.7" x2="518.2" y2="1006.3" stroke-width="2.0"/>
<path d="M497.1,956 L518.2,959.3 L518.2,961.9 L497.1,960.2" stroke-width="2.0"/>
<path d="M497.1,995 L518.2,991.7 L518.2,989.1 L497.1,990.8" stroke-width="2.0"/>
<rect x="497.4" y="965.8" width="4.4" height="19" rx="1.5" fill="#111" stroke="none"/>
<line x1="970.7" y1="944.7" x2="879.7" y2="944.7" stroke-width="2.4"/>
<line x1="879.7" y1="926.1" x2="879.7" y2="944.7" stroke-width="2.4"/>
<line x1="940.9" y1="926.1" x2="940.9" y2="944.7" stroke-width="2.2"/>
<path d="M879.7,927.7 L856.2,958.9 Q854.1,961.6 849.7,961.6 L733.1,961.6" stroke-width="2.3"/>
<path d="M863.7,938.2 L792,938.2 L785.5,942.5 L733.1,942.5 M863.7,938.2 L853.4,955 L733.1,955" stroke-width="3.4"/>
<line x1="879" y1="929.6" x2="795" y2="929.6" stroke-width="1.6"/>
<line x1="970.7" y1="1006.3" x2="879.7" y2="1006.3" stroke-width="2.4"/>
<line x1="879.7" y1="1024.9" x2="879.7" y2="1006.3" stroke-width="2.4"/>
<line x1="940.9" y1="1024.9" x2="940.9" y2="1006.3" stroke-width="2.2"/>
<path d="M879.7,1023.3 L856.2,992.1 Q854.1,989.4 849.7,989.4 L733.1,989.4" stroke-width="2.3"/>
<path d="M863.7,1012.8 L792,1012.8 L785.5,1008.5 L733.1,1008.5 M863.7,1012.8 L853.4,996 L733.1,996" stroke-width="3.4"/>
<line x1="879" y1="1021.4" x2="795" y2="1021.4" stroke-width="1.6"/>
<path d="M795,928.3 L785.5,942.5 L733.1,942.5" stroke-width="2.3"/>
<path d="M795,1022.7 L785.5,1008.5 L733.1,1008.5" stroke-width="2.3"/>
<line x1="933" y1="944.7" x2="933" y2="1006.3" stroke-width="2.2"/>
<line x1="924.3" y1="944.7" x2="924.3" y2="1006.3" stroke-width="2.2"/>
<line x1="895.7" y1="944.7" x2="895.7" y2="998.3" stroke-width="2.2"/>
<line x1="895.7" y1="998.3" x2="898" y2="1006.3" stroke-width="2.0"/>
<line x1="895.7" y1="998.3" x2="863.7" y2="998.3" stroke-width="2.0"/>
<line x1="947.9" y1="944.7" x2="947.9" y2="1006.3" stroke-width="2.0"/>
<path d="M969,956 L947.9,959.3 L947.9,961.9 L969,960.2" stroke-width="2.0"/>
<path d="M969,995 L947.9,991.7 L947.9,989.1 L969,990.8" stroke-width="2.0"/>
<rect x="964.3" y="965.8" width="4.4" height="19" rx="1.5" fill="#111" stroke="none"/>
<path d="M672.3,1010.6 Q732.6,992.9 793.8,1010.6" stroke-width="2.2"/>
<path d="M687.2,1008.4 Q732.6,999.8 778.9,1008.4" stroke-width="1.8"/>
<line x1="724.7" y1="998.5" x2="724.7" y2="1004.1" stroke-width="1.8"/>
<line x1="741.4" y1="998.5" x2="741.4" y2="1004.1" stroke-width="1.8"/>
<line x1="709.9" y1="998.5" x2="756.2" y2="998.5" stroke-width="1.8"/>
<text x="0" y="0" transform="translate(692,985.4) scale(0.9,1)" font-size="25.3" font-weight="bold" style="fill:#fff;stroke:#111;stroke-width:2.2px;letter-spacing:-0.3px">ARCTIC</text>
<line x1="733" y1="944.3" x2="733" y2="991.7" stroke-width="2.0"/>
</g>
<rect x="983.3" y="917.4" width="32.4" height="10" rx="2" stroke-width="2.4" fill="#fff"/>
<rect x="1400.4" y="917.4" width="32.4" height="10" rx="2" stroke-width="2.4" fill="#fff"/>
<g>
<rect x="970.7" y="926.1" width="475.3" height="98.8" stroke-width="2.8" fill="#fff"/>
<line x1="970.7" y1="944.7" x2="1061.7" y2="944.7" stroke-width="2.4"/>
<line x1="1061.7" y1="926.1" x2="1061.7" y2="944.7" stroke-width="2.4"/>
<line x1="1000.5" y1="926.1" x2="1000.5" y2="944.7" stroke-width="2.2"/>
<path d="M1061.7,927.7 L1085.2,958.9 Q1087.3,961.6 1091.7,961.6 L1208.3,961.6" stroke-width="2.3"/>
<path d="M1077.7,938.2 L1149.4,938.2 L1155.9,942.5 L1208.3,942.5 M1077.7,938.2 L1088,955 L1208.3,955" stroke-width="3.4"/>
<line x1="1062.4" y1="929.6" x2="1146.4" y2="929.6" stroke-width="1.6"/>
<line x1="970.7" y1="1006.3" x2="1061.7" y2="1006.3" stroke-width="2.4"/>
<line x1="1061.7" y1="1024.9" x2="1061.7" y2="1006.3" stroke-width="2.4"/>
<line x1="1000.5" y1="1024.9" x2="1000.5" y2="1006.3" stroke-width="2.2"/>
<path d="M1061.7,1023.3 L1085.2,992.1 Q1087.3,989.4 1091.7,989.4 L1208.3,989.4" stroke-width="2.3"/>
<path d="M1077.7,1012.8 L1149.4,1012.8 L1155.9,1008.5 L1208.3,1008.5 M1077.7,1012.8 L1088,996 L1208.3,996" stroke-width="3.4"/>
<line x1="1062.4" y1="1021.4" x2="1146.4" y2="1021.4" stroke-width="1.6"/>
<path d="M1146.4,928.3 L1155.9,942.5 L1208.3,942.5" stroke-width="2.3"/>
<path d="M1146.4,1022.7 L1155.9,1008.5 L1208.3,1008.5" stroke-width="2.3"/>
<line x1="1008.4" y1="944.7" x2="1008.4" y2="1006.3" stroke-width="2.2"/>
<line x1="1017.1" y1="944.7" x2="1017.1" y2="1006.3" stroke-width="2.2"/>
<line x1="1045.7" y1="944.7" x2="1045.7" y2="998.3" stroke-width="2.2"/>
<line x1="1045.7" y1="998.3" x2="1043.4" y2="1006.3" stroke-width="2.0"/>
<line x1="1045.7" y1="998.3" x2="1077.7" y2="998.3" stroke-width="2.0"/>
<line x1="993.5" y1="944.7" x2="993.5" y2="1006.3" stroke-width="2.0"/>
<path d="M972.4,956 L993.5,959.3 L993.5,961.9 L972.4,960.2" stroke-width="2.0"/>
<path d="M972.4,995 L993.5,991.7 L993.5,989.1 L972.4,990.8" stroke-width="2.0"/>
<rect x="972.7" y="965.8" width="4.4" height="19" rx="1.5" fill="#111" stroke="none"/>
<line x1="1446" y1="944.7" x2="1355" y2="944.7" stroke-width="2.4"/>
<line x1="1355" y1="926.1" x2="1355" y2="944.7" stroke-width="2.4"/>
<line x1="1416.2" y1="926.1" x2="1416.2" y2="944.7" stroke-width="2.2"/>
<path d="M1355,927.7 L1331.5,958.9 Q1329.4,961.6 1325,961.6 L1208.4,961.6" stroke-width="2.3"/>
<path d="M1339,938.2 L1267.3,938.2 L1260.8,942.5 L1208.4,942.5 M1339,938.2 L1328.7,955 L1208.4,955" stroke-width="3.4"/>
<line x1="1354.3" y1="929.6" x2="1270.3" y2="929.6" stroke-width="1.6"/>
<line x1="1446" y1="1006.3" x2="1355" y2="1006.3" stroke-width="2.4"/>
<line x1="1355" y1="1024.9" x2="1355" y2="1006.3" stroke-width="2.4"/>
<line x1="1416.2" y1="1024.9" x2="1416.2" y2="1006.3" stroke-width="2.2"/>
<path d="M1355,1023.3 L1331.5,992.1 Q1329.4,989.4 1325,989.4 L1208.4,989.4" stroke-width="2.3"/>
<path d="M1339,1012.8 L1267.3,1012.8 L1260.8,1008.5 L1208.4,1008.5 M1339,1012.8 L1328.7,996 L1208.4,996" stroke-width="3.4"/>
<line x1="1354.3" y1="1021.4" x2="1270.3" y2="1021.4" stroke-width="1.6"/>
<path d="M1270.3,928.3 L1260.8,942.5 L1208.4,942.5" stroke-width="2.3"/>
<path d="M1270.3,1022.7 L1260.8,1008.5 L1208.4,1008.5" stroke-width="2.3"/>
<line x1="1408.3" y1="944.7" x2="1408.3" y2="1006.3" stroke-width="2.2"/>
<line x1="1399.6" y1="944.7" x2="1399.6" y2="1006.3" stroke-width="2.2"/>
<line x1="1371" y1="944.7" x2="1371" y2="998.3" stroke-width="2.2"/>
<line x1="1371" y1="998.3" x2="1373.3" y2="1006.3" stroke-width="2.0"/>
<line x1="1371" y1="998.3" x2="1339" y2="998.3" stroke-width="2.0"/>
<line x1="1423.2" y1="944.7" x2="1423.2" y2="1006.3" stroke-width="2.0"/>
<path d="M1444.3,956 L1423.2,959.3 L1423.2,961.9 L1444.3,960.2" stroke-width="2.0"/>
<path d="M1444.3,995 L1423.2,991.7 L1423.2,989.1 L1444.3,990.8" stroke-width="2.0"/>
<rect x="1439.6" y="965.8" width="4.4" height="19" rx="1.5" fill="#111" stroke="none"/>
<path d="M1147.6,1010.6 Q1207.9,992.9 1269.1,1010.6" stroke-width="2.2"/>
<path d="M1162.5,1008.4 Q1207.9,999.8 1254.2,1008.4" stroke-width="1.8"/>
<line x1="1200" y1="998.5" x2="1200" y2="1004.1" stroke-width="1.8"/>
<line x1="1216.7" y1="998.5" x2="1216.7" y2="1004.1" stroke-width="1.8"/>
<line x1="1185.2" y1="998.5" x2="1231.5" y2="998.5" stroke-width="1.8"/>
<text x="0" y="0" transform="translate(1167.3,985.4) scale(0.9,1)" font-size="25.3" font-weight="bold" style="fill:#fff;stroke:#111;stroke-width:2.2px;letter-spacing:-0.3px">ARCTIC</text>
<line x1="1208.3" y1="944.3" x2="1208.3" y2="991.7" stroke-width="2.0"/>
</g>
<rect x="1458.6" y="917.4" width="32.4" height="10" rx="2" stroke-width="2.4" fill="#fff"/>
<rect x="1875.7" y="917.4" width="32.4" height="10" rx="2" stroke-width="2.4" fill="#fff"/>
<g>
<rect x="1446" y="926.1" width="475.3" height="98.8" stroke-width="2.8" fill="#fff"/>
<line x1="1446" y1="944.7" x2="1537" y2="944.7" stroke-width="2.4"/>
<line x1="1537" y1="926.1" x2="1537" y2="944.7" stroke-width="2.4"/>
<line x1="1475.8" y1="926.1" x2="1475.8" y2="944.7" stroke-width="2.2"/>
<path d="M1537,927.7 L1560.5,958.9 Q1562.6,961.6 1567,961.6 L1683.6,961.6" stroke-width="2.3"/>
<path d="M1553,938.2 L1624.7,938.2 L1631.2,942.5 L1683.6,942.5 M1553,938.2 L1563.3,955 L1683.6,955" stroke-width="3.4"/>
<line x1="1537.7" y1="929.6" x2="1621.7" y2="929.6" stroke-width="1.6"/>
<line x1="1446" y1="1006.3" x2="1537" y2="1006.3" stroke-width="2.4"/>
<line x1="1537" y1="1024.9" x2="1537" y2="1006.3" stroke-width="2.4"/>
<line x1="1475.8" y1="1024.9" x2="1475.8" y2="1006.3" stroke-width="2.2"/>
<path d="M1537,1023.3 L1560.5,992.1 Q1562.6,989.4 1567,989.4 L1683.6,989.4" stroke-width="2.3"/>
<path d="M1553,1012.8 L1624.7,1012.8 L1631.2,1008.5 L1683.6,1008.5 M1553,1012.8 L1563.3,996 L1683.6,996" stroke-width="3.4"/>
<line x1="1537.7" y1="1021.4" x2="1621.7" y2="1021.4" stroke-width="1.6"/>
<path d="M1621.7,928.3 L1631.2,942.5 L1683.6,942.5" stroke-width="2.3"/>
<path d="M1621.7,1022.7 L1631.2,1008.5 L1683.6,1008.5" stroke-width="2.3"/>
<line x1="1483.7" y1="944.7" x2="1483.7" y2="1006.3" stroke-width="2.2"/>
<line x1="1492.4" y1="944.7" x2="1492.4" y2="1006.3" stroke-width="2.2"/>
<line x1="1521" y1="944.7" x2="1521" y2="998.3" stroke-width="2.2"/>
<line x1="1521" y1="998.3" x2="1518.7" y2="1006.3" stroke-width="2.0"/>
<line x1="1521" y1="998.3" x2="1553" y2="998.3" stroke-width="2.0"/>
<line x1="1468.8" y1="944.7" x2="1468.8" y2="1006.3" stroke-width="2.0"/>
<path d="M1447.7,956 L1468.8,959.3 L1468.8,961.9 L1447.7,960.2" stroke-width="2.0"/>
<path d="M1447.7,995 L1468.8,991.7 L1468.8,989.1 L1447.7,990.8" stroke-width="2.0"/>
<rect x="1448" y="965.8" width="4.4" height="19" rx="1.5" fill="#111" stroke="none"/>
<line x1="1921.3" y1="944.7" x2="1830.3" y2="944.7" stroke-width="2.4"/>
<line x1="1830.3" y1="926.1" x2="1830.3" y2="944.7" stroke-width="2.4"/>
<line x1="1891.5" y1="926.1" x2="1891.5" y2="944.7" stroke-width="2.2"/>
<path d="M1830.3,927.7 L1806.8,958.9 Q1804.7,961.6 1800.3,961.6 L1683.7,961.6" stroke-width="2.3"/>
<path d="M1814.3,938.2 L1742.6,938.2 L1736.1,942.5 L1683.7,942.5 M1814.3,938.2 L1804,955 L1683.7,955" stroke-width="3.4"/>
<line x1="1829.6" y1="929.6" x2="1745.6" y2="929.6" stroke-width="1.6"/>
<line x1="1921.3" y1="1006.3" x2="1830.3" y2="1006.3" stroke-width="2.4"/>
<line x1="1830.3" y1="1024.9" x2="1830.3" y2="1006.3" stroke-width="2.4"/>
<line x1="1891.5" y1="1024.9" x2="1891.5" y2="1006.3" stroke-width="2.2"/>
<path d="M1830.3,1023.3 L1806.8,992.1 Q1804.7,989.4 1800.3,989.4 L1683.7,989.4" stroke-width="2.3"/>
<path d="M1814.3,1012.8 L1742.6,1012.8 L1736.1,1008.5 L1683.7,1008.5 M1814.3,1012.8 L1804,996 L1683.7,996" stroke-width="3.4"/>
<line x1="1829.6" y1="1021.4" x2="1745.6" y2="1021.4" stroke-width="1.6"/>
<path d="M1745.6,928.3 L1736.1,942.5 L1683.7,942.5" stroke-width="2.3"/>
<path d="M1745.6,1022.7 L1736.1,1008.5 L1683.7,1008.5" stroke-width="2.3"/>
<line x1="1883.6" y1="944.7" x2="1883.6" y2="1006.3" stroke-width="2.2"/>
<line x1="1874.9" y1="944.7" x2="1874.9" y2="1006.3" stroke-width="2.2"/>
<line x1="1846.3" y1="944.7" x2="1846.3" y2="998.3" stroke-width="2.2"/>
<line x1="1846.3" y1="998.3" x2="1848.6" y2="1006.3" stroke-width="2.0"/>
<line x1="1846.3" y1="998.3" x2="1814.3" y2="998.3" stroke-width="2.0"/>
<line x1="1898.5" y1="944.7" x2="1898.5" y2="1006.3" stroke-width="2.0"/>
<path d="M1919.6,956 L1898.5,959.3 L1898.5,961.9 L1919.6,960.2" stroke-width="2.0"/>
<path d="M1919.6,995 L1898.5,991.7 L1898.5,989.1 L1919.6,990.8" stroke-width="2.0"/>
<rect x="1914.9" y="965.8" width="4.4" height="19" rx="1.5" fill="#111" stroke="none"/>
<path d="M1622.9,1010.6 Q1683.2,992.9 1744.4,1010.6" stroke-width="2.2"/>
<path d="M1637.8,1008.4 Q1683.2,999.8 1729.5,1008.4" stroke-width="1.8"/>
<line x1="1675.3" y1="998.5" x2="1675.3" y2="1004.1" stroke-width="1.8"/>
<line x1="1692" y1="998.5" x2="1692" y2="1004.1" stroke-width="1.8"/>
<line x1="1660.5" y1="998.5" x2="1706.8" y2="998.5" stroke-width="1.8"/>
<text x="0" y="0" transform="translate(1642.6,985.4) scale(0.9,1)" font-size="25.3" font-weight="bold" style="fill:#fff;stroke:#111;stroke-width:2.2px;letter-spacing:-0.3px">ARCTIC</text>
<line x1="1683.6" y1="944.3" x2="1683.6" y2="991.7" stroke-width="2.0"/>
</g>
<rect x="419" y="948.7" width="76" height="37" rx="5" fill="#111" stroke="none"/>
<rect x="443.2" y="946.3" width="31.6" height="6" rx="1.5" fill="#111" stroke="none"/>
<rect x="494" y="966" width="7" height="19.5" rx="1.5" fill="#111" stroke="none"/>
<rect x="425" y="955.8" width="2.6" height="26.1" fill="#fff" stroke="none"/>
<rect x="435.3" y="955.8" width="3.6" height="26.1" fill="#fff" stroke="none"/>
<rect x="448.4" y="955.8" width="5.2" height="26.1" fill="#fff" stroke="none"/>
<rect x="463.6" y="955.8" width="5.5" height="26.1" fill="#fff" stroke="none"/>
<rect x="478.4" y="955.8" width="4" height="26.1" fill="#fff" stroke="none"/>
<rect x="490.3" y="955.8" width="2.2" height="26.1" fill="#fff" stroke="none"/>
<path d="M426,950.5 L430,950.5 L429,954 L427,954 Z" fill="#fff" stroke="none"/>
<path d="M435,950.5 L440,950.5 L439,954 L436,954 Z" fill="#fff" stroke="none"/>
<path d="M448,950.5 L455,950.5 L454,954 L449,954 Z" fill="#fff" stroke="none"/>
<path d="M463,950.5 L470,950.5 L469,954 L464,954 Z" fill="#fff" stroke="none"/>
<path d="M477,950.5 L483,950.5 L482,954 L478,954 Z" fill="#fff" stroke="none"/>
<path d="M422.5,985.8 L422.5,1009.7 L495,1009.7 L495,985.8" stroke-width="2.4"/>
<line x1="459" y1="985.8" x2="459" y2="1009.7" stroke-width="2.2"/>
<line x1="422.5" y1="1013.3" x2="495" y2="1013.3" stroke-width="2.2"/>
<path d="M423,1011 Q424,1013 428,1015 Q432,1018 432.5,1025 M438,1014 Q440,1018 441,1025 M478,1014 Q476,1018 476,1025 M486,1014 Q484,1018 484,1025" stroke-width="2.3"/>
<g id="radfront">
<defs><clipPath id="finclip"><rect x="494.3" y="1258.1" width="1427.2" height="31.4"/><rect x="494.3" y="1294.7" width="1427.2" height="31.4"/><rect x="494.3" y="1331.4" width="1427.2" height="31.4"/><rect x="494.3" y="1368" width="1427.2" height="31.4"/><rect x="494.3" y="1404.7" width="1427.2" height="31.4"/><rect x="494.3" y="1441.3" width="1427.2" height="31.4"/><rect x="494.3" y="1477.9" width="1427.2" height="31.4"/><rect x="494.3" y="1514.6" width="1427.2" height="31.4"/><rect x="494.3" y="1551.2" width="1427.2" height="31.4"/><rect x="494.3" y="1587.9" width="1427.2" height="31.4"/><rect x="494.3" y="1624.5" width="1427.2" height="31.4"/></clipPath></defs>
<path d="M484.6,1291.1 L489.6,1256.5 L494.5,1291.1 L499.5,1256.5 L504.5,1291.1 L509.4,1256.5 L514.4,1291.1 L519.3,1256.5 L524.3,1291.1 L529.3,1256.5 L534.2,1291.1 L539.2,1256.5 L544.1,1291.1 L549.1,1256.5 L554.1,1291.1 L559,1256.5 L564,1291.1 L568.9,1256.5 L573.9,1291.1 L578.9,1256.5 L583.8,1291.1 L588.8,1256.5 L593.7,1291.1 L598.7,1256.5 L603.7,1291.1 L608.6,1256.5 L613.6,1291.1 L618.5,1256.5 L623.5,1291.1 L628.5,1256.5 L633.4,1291.1 L638.4,1256.5 L643.3,1291.1 L648.3,1256.5 L653.3,1291.1 L658.2,1256.5 L663.2,1291.1 L668.1,1256.5 L673.1,1291.1 L678.1,1256.5 L683,1291.1 L688,1256.5 L692.9,1291.1 L697.9,1256.5 L702.9,1291.1 L707.8,1256.5 L712.8,1291.1 L717.7,1256.5 L722.7,1291.1 L727.7,1256.5 L732.6,1291.1 L737.6,1256.5 L742.5,1291.1 L747.5,1256.5 L752.5,1291.1 L757.4,1256.5 L762.4,1291.1 L767.3,1256.5 L772.3,1291.1 L777.3,1256.5 L782.2,1291.1 L787.2,1256.5 L792.1,1291.1 L797.1,1256.5 L802.1,1291.1 L807,1256.5 L812,1291.1 L816.9,1256.5 L821.9,1291.1 L826.9,1256.5 L831.8,1291.1 L836.8,1256.5 L841.7,1291.1 L846.7,1256.5 L851.7,1291.1 L856.6,1256.5 L861.6,1291.1 L866.5,1256.5 L871.5,1291.1 L876.5,1256.5 L881.4,1291.1 L886.4,1256.5 L891.3,1291.1 L896.3,1256.5 L901.3,1291.1 L906.2,1256.5 L911.2,1291.1 L916.1,1256.5 L921.1,1291.1 L926.1,1256.5 L931,1291.1 L936,1256.5 L940.9,1291.1 L945.9,1256.5 L950.9,1291.1 L955.8,1256.5 L960.8,1291.1 L965.7,1256.5 L970.7,1291.1 L975.7,1256.5 L980.6,1291.1 L985.6,1256.5 L990.5,1291.1 L995.5,1256.5 L1000.5,1291.1 L1005.4,1256.5 L1010.4,1291.1 L1015.3,1256.5 L1020.3,1291.1 L1025.3,1256.5 L1030.2,1291.1 L1035.2,1256.5 L1040.1,1291.1 L1045.1,1256.5 L1050.1,1291.1 L1055,1256.5 L1060,1291.1 L1064.9,1256.5 L1069.9,1291.1 L1074.9,1256.5 L1079.8,1291.1 L1084.8,1256.5 L1089.7,1291.1 L1094.7,1256.5 L1099.7,1291.1 L1104.6,1256.5 L1109.6,1291.1 L1114.5,1256.5 L1119.5,1291.1 L1124.5,1256.5 L1129.4,1291.1 L1134.4,1256.5 L1139.3,1291.1 L1144.3,1256.5 L1149.3,1291.1 L1154.2,1256.5 L1159.2,1291.1 L1164.1,1256.5 L1169.1,1291.1 L1174.1,1256.5 L1179,1291.1 L1184,1256.5 L1188.9,1291.1 L1193.9,1256.5 L1198.9,1291.1 L1203.8,1256.5 L1208.8,1291.1 L1213.7,1256.5 L1218.7,1291.1 L1223.7,1256.5 L1228.6,1291.1 L1233.6,1256.5 L1238.5,1291.1 L1243.5,1256.5 L1248.5,1291.1 L1253.4,1256.5 L1258.4,1291.1 L1263.3,1256.5 L1268.3,1291.1 L1273.3,1256.5 L1278.2,1291.1 L1283.2,1256.5 L1288.1,1291.1 L1293.1,1256.5 L1298.1,1291.1 L1303,1256.5 L1308,1291.1 L1312.9,1256.5 L1317.9,1291.1 L1322.9,1256.5 L1327.8,1291.1 L1332.8,1256.5 L1337.7,1291.1 L1342.7,1256.5 L1347.7,1291.1 L1352.6,1256.5 L1357.6,1291.1 L1362.5,1256.5 L1367.5,1291.1 L1372.5,1256.5 L1377.4,1291.1 L1382.4,1256.5 L1387.3,1291.1 L1392.3,1256.5 L1397.3,1291.1 L1402.2,1256.5 L1407.2,1291.1 L1412.1,1256.5 L1417.1,1291.1 L1422.1,1256.5 L1427,1291.1 L1432,1256.5 L1436.9,1291.1 L1441.9,1256.5 L1446.9,1291.1 L1451.8,1256.5 L1456.8,1291.1 L1461.7,1256.5 L1466.7,1291.1 L1471.7,1256.5 L1476.6,1291.1 L1481.6,1256.5 L1486.5,1291.1 L1491.5,1256.5 L1496.5,1291.1 L1501.4,1256.5 L1506.4,1291.1 L1511.3,1256.5 L1516.3,1291.1 L1521.3,1256.5 L1526.2,1291.1 L1531.2,1256.5 L1536.1,1291.1 L1541.1,1256.5 L1546.1,1291.1 L1551,1256.5 L1556,1291.1 L1560.9,1256.5 L1565.9,1291.1 L1570.9,1256.5 L1575.8,1291.1 L1580.8,1256.5 L1585.7,1291.1 L1590.7,1256.5 L1595.7,1291.1 L1600.6,1256.5 L1605.6,1291.1 L1610.5,1256.5 L1615.5,1291.1 L1620.5,1256.5 L1625.4,1291.1 L1630.4,1256.5 L1635.3,1291.1 L1640.3,1256.5 L1645.3,1291.1 L1650.2,1256.5 L1655.2,1291.1 L1660.1,1256.5 L1665.1,1291.1 L1670.1,1256.5 L1675,1291.1 L1680,1256.5 L1684.9,1291.1 L1689.9,1256.5 L1694.9,1291.1 L1699.8,1256.5 L1704.8,1291.1 L1709.7,1256.5 L1714.7,1291.1 L1719.7,1256.5 L1724.6,1291.1 L1729.6,1256.5 L1734.5,1291.1 L1739.5,1256.5 L1744.5,1291.1 L1749.4,1256.5 L1754.4,1291.1 L1759.3,1256.5 L1764.3,1291.1 L1769.3,1256.5 L1774.2,1291.1 L1779.2,1256.5 L1784.1,1291.1 L1789.1,1256.5 L1794.1,1291.1 L1799,1256.5 L1804,1291.1 L1808.9,1256.5 L1813.9,1291.1 L1818.9,1256.5 L1823.8,1291.1 L1828.8,1256.5 L1833.7,1291.1 L1838.7,1256.5 L1843.7,1291.1 L1848.6,1256.5 L1853.6,1291.1 L1858.5,1256.5 L1863.5,1291.1 L1868.5,1256.5 L1873.4,1291.1 L1878.4,1256.5 L1883.3,1291.1 L1888.3,1256.5 L1893.3,1291.1 L1898.2,1256.5 L1903.2,1291.1 L1908.1,1256.5 L1913.1,1291.1 L1918.1,1256.5 L1923,1291.1 M484.6,1327.8 L489.6,1293.1 L494.5,1327.8 L499.5,1293.1 L504.5,1327.8 L509.4,1293.1 L514.4,1327.8 L519.3,1293.1 L524.3,1327.8 L529.3,1293.1 L534.2,1327.8 L539.2,1293.1 L544.1,1327.8 L549.1,1293.1 L554.1,1327.8 L559,1293.1 L564,1327.8 L568.9,1293.1 L573.9,1327.8 L578.9,1293.1 L583.8,1327.8 L588.8,1293.1 L593.7,1327.8 L598.7,1293.1 L603.7,1327.8 L608.6,1293.1 L613.6,1327.8 L618.5,1293.1 L623.5,1327.8 L628.5,1293.1 L633.4,1327.8 L638.4,1293.1 L643.3,1327.8 L648.3,1293.1 L653.3,1327.8 L658.2,1293.1 L663.2,1327.8 L668.1,1293.1 L673.1,1327.8 L678.1,1293.1 L683,1327.8 L688,1293.1 L692.9,1327.8 L697.9,1293.1 L702.9,1327.8 L707.8,1293.1 L712.8,1327.8 L717.7,1293.1 L722.7,1327.8 L727.7,1293.1 L732.6,1327.8 L737.6,1293.1 L742.5,1327.8 L747.5,1293.1 L752.5,1327.8 L757.4,1293.1 L762.4,1327.8 L767.3,1293.1 L772.3,1327.8 L777.3,1293.1 L782.2,1327.8 L787.2,1293.1 L792.1,1327.8 L797.1,1293.1 L802.1,1327.8 L807,1293.1 L812,1327.8 L816.9,1293.1 L821.9,1327.8 L826.9,1293.1 L831.8,1327.8 L836.8,1293.1 L841.7,1327.8 L846.7,1293.1 L851.7,1327.8 L856.6,1293.1 L861.6,1327.8 L866.5,1293.1 L871.5,1327.8 L876.5,1293.1 L881.4,1327.8 L886.4,1293.1 L891.3,1327.8 L896.3,1293.1 L901.3,1327.8 L906.2,1293.1 L911.2,1327.8 L916.1,1293.1 L921.1,1327.8 L926.1,1293.1 L931,1327.8 L936,1293.1 L940.9,1327.8 L945.9,1293.1 L950.9,1327.8 L955.8,1293.1 L960.8,1327.8 L965.7,1293.1 L970.7,1327.8 L975.7,1293.1 L980.6,1327.8 L985.6,1293.1 L990.5,1327.8 L995.5,1293.1 L1000.5,1327.8 L1005.4,1293.1 L1010.4,1327.8 L1015.3,1293.1 L1020.3,1327.8 L1025.3,1293.1 L1030.2,1327.8 L1035.2,1293.1 L1040.1,1327.8 L1045.1,1293.1 L1050.1,1327.8 L1055,1293.1 L1060,1327.8 L1064.9,1293.1 L1069.9,1327.8 L1074.9,1293.1 L1079.8,1327.8 L1084.8,1293.1 L1089.7,1327.8 L1094.7,1293.1 L1099.7,1327.8 L1104.6,1293.1 L1109.6,1327.8 L1114.5,1293.1 L1119.5,1327.8 L1124.5,1293.1 L1129.4,1327.8 L1134.4,1293.1 L1139.3,1327.8 L1144.3,1293.1 L1149.3,1327.8 L1154.2,1293.1 L1159.2,1327.8 L1164.1,1293.1 L1169.1,1327.8 L1174.1,1293.1 L1179,1327.8 L1184,1293.1 L1188.9,1327.8 L1193.9,1293.1 L1198.9,1327.8 L1203.8,1293.1 L1208.8,1327.8 L1213.7,1293.1 L1218.7,1327.8 L1223.7,1293.1 L1228.6,1327.8 L1233.6,1293.1 L1238.5,1327.8 L1243.5,1293.1 L1248.5,1327.8 L1253.4,1293.1 L1258.4,1327.8 L1263.3,1293.1 L1268.3,1327.8 L1273.3,1293.1 L1278.2,1327.8 L1283.2,1293.1 L1288.1,1327.8 L1293.1,1293.1 L1298.1,1327.8 L1303,1293.1 L1308,1327.8 L1312.9,1293.1 L1317.9,1327.8 L1322.9,1293.1 L1327.8,1327.8 L1332.8,1293.1 L1337.7,1327.8 L1342.7,1293.1 L1347.7,1327.8 L1352.6,1293.1 L1357.6,1327.8 L1362.5,1293.1 L1367.5,1327.8 L1372.5,1293.1 L1377.4,1327.8 L1382.4,1293.1 L1387.3,1327.8 L1392.3,1293.1 L1397.3,1327.8 L1402.2,1293.1 L1407.2,1327.8 L1412.1,1293.1 L1417.1,1327.8 L1422.1,1293.1 L1427,1327.8 L1432,1293.1 L1436.9,1327.8 L1441.9,1293.1 L1446.9,1327.8 L1451.8,1293.1 L1456.8,1327.8 L1461.7,1293.1 L1466.7,1327.8 L1471.7,1293.1 L1476.6,1327.8 L1481.6,1293.1 L1486.5,1327.8 L1491.5,1293.1 L1496.5,1327.8 L1501.4,1293.1 L1506.4,1327.8 L1511.3,1293.1 L1516.3,1327.8 L1521.3,1293.1 L1526.2,1327.8 L1531.2,1293.1 L1536.1,1327.8 L1541.1,1293.1 L1546.1,1327.8 L1551,1293.1 L1556,1327.8 L1560.9,1293.1 L1565.9,1327.8 L1570.9,1293.1 L1575.8,1327.8 L1580.8,1293.1 L1585.7,1327.8 L1590.7,1293.1 L1595.7,1327.8 L1600.6,1293.1 L1605.6,1327.8 L1610.5,1293.1 L1615.5,1327.8 L1620.5,1293.1 L1625.4,1327.8 L1630.4,1293.1 L1635.3,1327.8 L1640.3,1293.1 L1645.3,1327.8 L1650.2,1293.1 L1655.2,1327.8 L1660.1,1293.1 L1665.1,1327.8 L1670.1,1293.1 L1675,1327.8 L1680,1293.1 L1684.9,1327.8 L1689.9,1293.1 L1694.9,1327.8 L1699.8,1293.1 L1704.8,1327.8 L1709.7,1293.1 L1714.7,1327.8 L1719.7,1293.1 L1724.6,1327.8 L1729.6,1293.1 L1734.5,1327.8 L1739.5,1293.1 L1744.5,1327.8 L1749.4,1293.1 L1754.4,1327.8 L1759.3,1293.1 L1764.3,1327.8 L1769.3,1293.1 L1774.2,1327.8 L1779.2,1293.1 L1784.1,1327.8 L1789.1,1293.1 L1794.1,1327.8 L1799,1293.1 L1804,1327.8 L1808.9,1293.1 L1813.9,1327.8 L1818.9,1293.1 L1823.8,1327.8 L1828.8,1293.1 L1833.7,1327.8 L1838.7,1293.1 L1843.7,1327.8 L1848.6,1293.1 L1853.6,1327.8 L1858.5,1293.1 L1863.5,1327.8 L1868.5,1293.1 L1873.4,1327.8 L1878.4,1293.1 L1883.3,1327.8 L1888.3,1293.1 L1893.3,1327.8 L1898.2,1293.1 L1903.2,1327.8 L1908.1,1293.1 L1913.1,1327.8 L1918.1,1293.1 L1923,1327.8 M484.6,1364.4 L489.6,1329.8 L494.5,1364.4 L499.5,1329.8 L504.5,1364.4 L509.4,1329.8 L514.4,1364.4 L519.3,1329.8 L524.3,1364.4 L529.3,1329.8 L534.2,1364.4 L539.2,1329.8 L544.1,1364.4 L549.1,1329.8 L554.1,1364.4 L559,1329.8 L564,1364.4 L568.9,1329.8 L573.9,1364.4 L578.9,1329.8 L583.8,1364.4 L588.8,1329.8 L593.7,1364.4 L598.7,1329.8 L603.7,1364.4 L608.6,1329.8 L613.6,1364.4 L618.5,1329.8 L623.5,1364.4 L628.5,1329.8 L633.4,1364.4 L638.4,1329.8 L643.3,1364.4 L648.3,1329.8 L653.3,1364.4 L658.2,1329.8 L663.2,1364.4 L668.1,1329.8 L673.1,1364.4 L678.1,1329.8 L683,1364.4 L688,1329.8 L692.9,1364.4 L697.9,1329.8 L702.9,1364.4 L707.8,1329.8 L712.8,1364.4 L717.7,1329.8 L722.7,1364.4 L727.7,1329.8 L732.6,1364.4 L737.6,1329.8 L742.5,1364.4 L747.5,1329.8 L752.5,1364.4 L757.4,1329.8 L762.4,1364.4 L767.3,1329.8 L772.3,1364.4 L777.3,1329.8 L782.2,1364.4 L787.2,1329.8 L792.1,1364.4 L797.1,1329.8 L802.1,1364.4 L807,1329.8 L812,1364.4 L816.9,1329.8 L821.9,1364.4 L826.9,1329.8 L831.8,1364.4 L836.8,1329.8 L841.7,1364.4 L846.7,1329.8 L851.7,1364.4 L856.6,1329.8 L861.6,1364.4 L866.5,1329.8 L871.5,1364.4 L876.5,1329.8 L881.4,1364.4 L886.4,1329.8 L891.3,1364.4 L896.3,1329.8 L901.3,1364.4 L906.2,1329.8 L911.2,1364.4 L916.1,1329.8 L921.1,1364.4 L926.1,1329.8 L931,1364.4 L936,1329.8 L940.9,1364.4 L945.9,1329.8 L950.9,1364.4 L955.8,1329.8 L960.8,1364.4 L965.7,1329.8 L970.7,1364.4 L975.7,1329.8 L980.6,1364.4 L985.6,1329.8 L990.5,1364.4 L995.5,1329.8 L1000.5,1364.4 L1005.4,1329.8 L1010.4,1364.4 L1015.3,1329.8 L1020.3,1364.4 L1025.3,1329.8 L1030.2,1364.4 L1035.2,1329.8 L1040.1,1364.4 L1045.1,1329.8 L1050.1,1364.4 L1055,1329.8 L1060,1364.4 L1064.9,1329.8 L1069.9,1364.4 L1074.9,1329.8 L1079.8,1364.4 L1084.8,1329.8 L1089.7,1364.4 L1094.7,1329.8 L1099.7,1364.4 L1104.6,1329.8 L1109.6,1364.4 L1114.5,1329.8 L1119.5,1364.4 L1124.5,1329.8 L1129.4,1364.4 L1134.4,1329.8 L1139.3,1364.4 L1144.3,1329.8 L1149.3,1364.4 L1154.2,1329.8 L1159.2,1364.4 L1164.1,1329.8 L1169.1,1364.4 L1174.1,1329.8 L1179,1364.4 L1184,1329.8 L1188.9,1364.4 L1193.9,1329.8 L1198.9,1364.4 L1203.8,1329.8 L1208.8,1364.4 L1213.7,1329.8 L1218.7,1364.4 L1223.7,1329.8 L1228.6,1364.4 L1233.6,1329.8 L1238.5,1364.4 L1243.5,1329.8 L1248.5,1364.4 L1253.4,1329.8 L1258.4,1364.4 L1263.3,1329.8 L1268.3,1364.4 L1273.3,1329.8 L1278.2,1364.4 L1283.2,1329.8 L1288.1,1364.4 L1293.1,1329.8 L1298.1,1364.4 L1303,1329.8 L1308,1364.4 L1312.9,1329.8 L1317.9,1364.4 L1322.9,1329.8 L1327.8,1364.4 L1332.8,1329.8 L1337.7,1364.4 L1342.7,1329.8 L1347.7,1364.4 L1352.6,1329.8 L1357.6,1364.4 L1362.5,1329.8 L1367.5,1364.4 L1372.5,1329.8 L1377.4,1364.4 L1382.4,1329.8 L1387.3,1364.4 L1392.3,1329.8 L1397.3,1364.4 L1402.2,1329.8 L1407.2,1364.4 L1412.1,1329.8 L1417.1,1364.4 L1422.1,1329.8 L1427,1364.4 L1432,1329.8 L1436.9,1364.4 L1441.9,1329.8 L1446.9,1364.4 L1451.8,1329.8 L1456.8,1364.4 L1461.7,1329.8 L1466.7,1364.4 L1471.7,1329.8 L1476.6,1364.4 L1481.6,1329.8 L1486.5,1364.4 L1491.5,1329.8 L1496.5,1364.4 L1501.4,1329.8 L1506.4,1364.4 L1511.3,1329.8 L1516.3,1364.4 L1521.3,1329.8 L1526.2,1364.4 L1531.2,1329.8 L1536.1,1364.4 L1541.1,1329.8 L1546.1,1364.4 L1551,1329.8 L1556,1364.4 L1560.9,1329.8 L1565.9,1364.4 L1570.9,1329.8 L1575.8,1364.4 L1580.8,1329.8 L1585.7,1364.4 L1590.7,1329.8 L1595.7,1364.4 L1600.6,1329.8 L1605.6,1364.4 L1610.5,1329.8 L1615.5,1364.4 L1620.5,1329.8 L1625.4,1364.4 L1630.4,1329.8 L1635.3,1364.4 L1640.3,1329.8 L1645.3,1364.4 L1650.2,1329.8 L1655.2,1364.4 L1660.1,1329.8 L1665.1,1364.4 L1670.1,1329.8 L1675,1364.4 L1680,1329.8 L1684.9,1364.4 L1689.9,1329.8 L1694.9,1364.4 L1699.8,1329.8 L1704.8,1364.4 L1709.7,1329.8 L1714.7,1364.4 L1719.7,1329.8 L1724.6,1364.4 L1729.6,1329.8 L1734.5,1364.4 L1739.5,1329.8 L1744.5,1364.4 L1749.4,1329.8 L1754.4,1364.4 L1759.3,1329.8 L1764.3,1364.4 L1769.3,1329.8 L1774.2,1364.4 L1779.2,1329.8 L1784.1,1364.4 L1789.1,1329.8 L1794.1,1364.4 L1799,1329.8 L1804,1364.4 L1808.9,1329.8 L1813.9,1364.4 L1818.9,1329.8 L1823.8,1364.4 L1828.8,1329.8 L1833.7,1364.4 L1838.7,1329.8 L1843.7,1364.4 L1848.6,1329.8 L1853.6,1364.4 L1858.5,1329.8 L1863.5,1364.4 L1868.5,1329.8 L1873.4,1364.4 L1878.4,1329.8 L1883.3,1364.4 L1888.3,1329.8 L1893.3,1364.4 L1898.2,1329.8 L1903.2,1364.4 L1908.1,1329.8 L1913.1,1364.4 L1918.1,1329.8 L1923,1364.4 M484.6,1401.1 L489.6,1366.4 L494.5,1401.1 L499.5,1366.4 L504.5,1401.1 L509.4,1366.4 L514.4,1401.1 L519.3,1366.4 L524.3,1401.1 L529.3,1366.4 L534.2,1401.1 L539.2,1366.4 L544.1,1401.1 L549.1,1366.4 L554.1,1401.1 L559,1366.4 L564,1401.1 L568.9,1366.4 L573.9,1401.1 L578.9,1366.4 L583.8,1401.1 L588.8,1366.4 L593.7,1401.1 L598.7,1366.4 L603.7,1401.1 L608.6,1366.4 L613.6,1401.1 L618.5,1366.4 L623.5,1401.1 L628.5,1366.4 L633.4,1401.1 L638.4,1366.4 L643.3,1401.1 L648.3,1366.4 L653.3,1401.1 L658.2,1366.4 L663.2,1401.1 L668.1,1366.4 L673.1,1401.1 L678.1,1366.4 L683,1401.1 L688,1366.4 L692.9,1401.1 L697.9,1366.4 L702.9,1401.1 L707.8,1366.4 L712.8,1401.1 L717.7,1366.4 L722.7,1401.1 L727.7,1366.4 L732.6,1401.1 L737.6,1366.4 L742.5,1401.1 L747.5,1366.4 L752.5,1401.1 L757.4,1366.4 L762.4,1401.1 L767.3,1366.4 L772.3,1401.1 L777.3,1366.4 L782.2,1401.1 L787.2,1366.4 L792.1,1401.1 L797.1,1366.4 L802.1,1401.1 L807,1366.4 L812,1401.1 L816.9,1366.4 L821.9,1401.1 L826.9,1366.4 L831.8,1401.1 L836.8,1366.4 L841.7,1401.1 L846.7,1366.4 L851.7,1401.1 L856.6,1366.4 L861.6,1401.1 L866.5,1366.4 L871.5,1401.1 L876.5,1366.4 L881.4,1401.1 L886.4,1366.4 L891.3,1401.1 L896.3,1366.4 L901.3,1401.1 L906.2,1366.4 L911.2,1401.1 L916.1,1366.4 L921.1,1401.1 L926.1,1366.4 L931,1401.1 L936,1366.4 L940.9,1401.1 L945.9,1366.4 L950.9,1401.1 L955.8,1366.4 L960.8,1401.1 L965.7,1366.4 L970.7,1401.1 L975.7,1366.4 L980.6,1401.1 L985.6,1366.4 L990.5,1401.1 L995.5,1366.4 L1000.5,1401.1 L1005.4,1366.4 L1010.4,1401.1 L1015.3,1366.4 L1020.3,1401.1 L1025.3,1366.4 L1030.2,1401.1 L1035.2,1366.4 L1040.1,1401.1 L1045.1,1366.4 L1050.1,1401.1 L1055,1366.4 L1060,1401.1 L1064.9,1366.4 L1069.9,1401.1 L1074.9,1366.4 L1079.8,1401.1 L1084.8,1366.4 L1089.7,1401.1 L1094.7,1366.4 L1099.7,1401.1 L1104.6,1366.4 L1109.6,1401.1 L1114.5,1366.4 L1119.5,1401.1 L1124.5,1366.4 L1129.4,1401.1 L1134.4,1366.4 L1139.3,1401.1 L1144.3,1366.4 L1149.3,1401.1 L1154.2,1366.4 L1159.2,1401.1 L1164.1,1366.4 L1169.1,1401.1 L1174.1,1366.4 L1179,1401.1 L1184,1366.4 L1188.9,1401.1 L1193.9,1366.4 L1198.9,1401.1 L1203.8,1366.4 L1208.8,1401.1 L1213.7,1366.4 L1218.7,1401.1 L1223.7,1366.4 L1228.6,1401.1 L1233.6,1366.4 L1238.5,1401.1 L1243.5,1366.4 L1248.5,1401.1 L1253.4,1366.4 L1258.4,1401.1 L1263.3,1366.4 L1268.3,1401.1 L1273.3,1366.4 L1278.2,1401.1 L1283.2,1366.4 L1288.1,1401.1 L1293.1,1366.4 L1298.1,1401.1 L1303,1366.4 L1308,1401.1 L1312.9,1366.4 L1317.9,1401.1 L1322.9,1366.4 L1327.8,1401.1 L1332.8,1366.4 L1337.7,1401.1 L1342.7,1366.4 L1347.7,1401.1 L1352.6,1366.4 L1357.6,1401.1 L1362.5,1366.4 L1367.5,1401.1 L1372.5,1366.4 L1377.4,1401.1 L1382.4,1366.4 L1387.3,1401.1 L1392.3,1366.4 L1397.3,1401.1 L1402.2,1366.4 L1407.2,1401.1 L1412.1,1366.4 L1417.1,1401.1 L1422.1,1366.4 L1427,1401.1 L1432,1366.4 L1436.9,1401.1 L1441.9,1366.4 L1446.9,1401.1 L1451.8,1366.4 L1456.8,1401.1 L1461.7,1366.4 L1466.7,1401.1 L1471.7,1366.4 L1476.6,1401.1 L1481.6,1366.4 L1486.5,1401.1 L1491.5,1366.4 L1496.5,1401.1 L1501.4,1366.4 L1506.4,1401.1 L1511.3,1366.4 L1516.3,1401.1 L1521.3,1366.4 L1526.2,1401.1 L1531.2,1366.4 L1536.1,1401.1 L1541.1,1366.4 L1546.1,1401.1 L1551,1366.4 L1556,1401.1 L1560.9,1366.4 L1565.9,1401.1 L1570.9,1366.4 L1575.8,1401.1 L1580.8,1366.4 L1585.7,1401.1 L1590.7,1366.4 L1595.7,1401.1 L1600.6,1366.4 L1605.6,1401.1 L1610.5,1366.4 L1615.5,1401.1 L1620.5,1366.4 L1625.4,1401.1 L1630.4,1366.4 L1635.3,1401.1 L1640.3,1366.4 L1645.3,1401.1 L1650.2,1366.4 L1655.2,1401.1 L1660.1,1366.4 L1665.1,1401.1 L1670.1,1366.4 L1675,1401.1 L1680,1366.4 L1684.9,1401.1 L1689.9,1366.4 L1694.9,1401.1 L1699.8,1366.4 L1704.8,1401.1 L1709.7,1366.4 L1714.7,1401.1 L1719.7,1366.4 L1724.6,1401.1 L1729.6,1366.4 L1734.5,1401.1 L1739.5,1366.4 L1744.5,1401.1 L1749.4,1366.4 L1754.4,1401.1 L1759.3,1366.4 L1764.3,1401.1 L1769.3,1366.4 L1774.2,1401.1 L1779.2,1366.4 L1784.1,1401.1 L1789.1,1366.4 L1794.1,1401.1 L1799,1366.4 L1804,1401.1 L1808.9,1366.4 L1813.9,1401.1 L1818.9,1366.4 L1823.8,1401.1 L1828.8,1366.4 L1833.7,1401.1 L1838.7,1366.4 L1843.7,1401.1 L1848.6,1366.4 L1853.6,1401.1 L1858.5,1366.4 L1863.5,1401.1 L1868.5,1366.4 L1873.4,1401.1 L1878.4,1366.4 L1883.3,1401.1 L1888.3,1366.4 L1893.3,1401.1 L1898.2,1366.4 L1903.2,1401.1 L1908.1,1366.4 L1913.1,1401.1 L1918.1,1366.4 L1923,1401.1 M484.6,1437.7 L489.6,1403.1 L494.5,1437.7 L499.5,1403.1 L504.5,1437.7 L509.4,1403.1 L514.4,1437.7 L519.3,1403.1 L524.3,1437.7 L529.3,1403.1 L534.2,1437.7 L539.2,1403.1 L544.1,1437.7 L549.1,1403.1 L554.1,1437.7 L559,1403.1 L564,1437.7 L568.9,1403.1 L573.9,1437.7 L578.9,1403.1 L583.8,1437.7 L588.8,1403.1 L593.7,1437.7 L598.7,1403.1 L603.7,1437.7 L608.6,1403.1 L613.6,1437.7 L618.5,1403.1 L623.5,1437.7 L628.5,1403.1 L633.4,1437.7 L638.4,1403.1 L643.3,1437.7 L648.3,1403.1 L653.3,1437.7 L658.2,1403.1 L663.2,1437.7 L668.1,1403.1 L673.1,1437.7 L678.1,1403.1 L683,1437.7 L688,1403.1 L692.9,1437.7 L697.9,1403.1 L702.9,1437.7 L707.8,1403.1 L712.8,1437.7 L717.7,1403.1 L722.7,1437.7 L727.7,1403.1 L732.6,1437.7 L737.6,1403.1 L742.5,1437.7 L747.5,1403.1 L752.5,1437.7 L757.4,1403.1 L762.4,1437.7 L767.3,1403.1 L772.3,1437.7 L777.3,1403.1 L782.2,1437.7 L787.2,1403.1 L792.1,1437.7 L797.1,1403.1 L802.1,1437.7 L807,1403.1 L812,1437.7 L816.9,1403.1 L821.9,1437.7 L826.9,1403.1 L831.8,1437.7 L836.8,1403.1 L841.7,1437.7 L846.7,1403.1 L851.7,1437.7 L856.6,1403.1 L861.6,1437.7 L866.5,1403.1 L871.5,1437.7 L876.5,1403.1 L881.4,1437.7 L886.4,1403.1 L891.3,1437.7 L896.3,1403.1 L901.3,1437.7 L906.2,1403.1 L911.2,1437.7 L916.1,1403.1 L921.1,1437.7 L926.1,1403.1 L931,1437.7 L936,1403.1 L940.9,1437.7 L945.9,1403.1 L950.9,1437.7 L955.8,1403.1 L960.8,1437.7 L965.7,1403.1 L970.7,1437.7 L975.7,1403.1 L980.6,1437.7 L985.6,1403.1 L990.5,1437.7 L995.5,1403.1 L1000.5,1437.7 L1005.4,1403.1 L1010.4,1437.7 L1015.3,1403.1 L1020.3,1437.7 L1025.3,1403.1 L1030.2,1437.7 L1035.2,1403.1 L1040.1,1437.7 L1045.1,1403.1 L1050.1,1437.7 L1055,1403.1 L1060,1437.7 L1064.9,1403.1 L1069.9,1437.7 L1074.9,1403.1 L1079.8,1437.7 L1084.8,1403.1 L1089.7,1437.7 L1094.7,1403.1 L1099.7,1437.7 L1104.6,1403.1 L1109.6,1437.7 L1114.5,1403.1 L1119.5,1437.7 L1124.5,1403.1 L1129.4,1437.7 L1134.4,1403.1 L1139.3,1437.7 L1144.3,1403.1 L1149.3,1437.7 L1154.2,1403.1 L1159.2,1437.7 L1164.1,1403.1 L1169.1,1437.7 L1174.1,1403.1 L1179,1437.7 L1184,1403.1 L1188.9,1437.7 L1193.9,1403.1 L1198.9,1437.7 L1203.8,1403.1 L1208.8,1437.7 L1213.7,1403.1 L1218.7,1437.7 L1223.7,1403.1 L1228.6,1437.7 L1233.6,1403.1 L1238.5,1437.7 L1243.5,1403.1 L1248.5,1437.7 L1253.4,1403.1 L1258.4,1437.7 L1263.3,1403.1 L1268.3,1437.7 L1273.3,1403.1 L1278.2,1437.7 L1283.2,1403.1 L1288.1,1437.7 L1293.1,1403.1 L1298.1,1437.7 L1303,1403.1 L1308,1437.7 L1312.9,1403.1 L1317.9,1437.7 L1322.9,1403.1 L1327.8,1437.7 L1332.8,1403.1 L1337.7,1437.7 L1342.7,1403.1 L1347.7,1437.7 L1352.6,1403.1 L1357.6,1437.7 L1362.5,1403.1 L1367.5,1437.7 L1372.5,1403.1 L1377.4,1437.7 L1382.4,1403.1 L1387.3,1437.7 L1392.3,1403.1 L1397.3,1437.7 L1402.2,1403.1 L1407.2,1437.7 L1412.1,1403.1 L1417.1,1437.7 L1422.1,1403.1 L1427,1437.7 L1432,1403.1 L1436.9,1437.7 L1441.9,1403.1 L1446.9,1437.7 L1451.8,1403.1 L1456.8,1437.7 L1461.7,1403.1 L1466.7,1437.7 L1471.7,1403.1 L1476.6,1437.7 L1481.6,1403.1 L1486.5,1437.7 L1491.5,1403.1 L1496.5,1437.7 L1501.4,1403.1 L1506.4,1437.7 L1511.3,1403.1 L1516.3,1437.7 L1521.3,1403.1 L1526.2,1437.7 L1531.2,1403.1 L1536.1,1437.7 L1541.1,1403.1 L1546.1,1437.7 L1551,1403.1 L1556,1437.7 L1560.9,1403.1 L1565.9,1437.7 L1570.9,1403.1 L1575.8,1437.7 L1580.8,1403.1 L1585.7,1437.7 L1590.7,1403.1 L1595.7,1437.7 L1600.6,1403.1 L1605.6,1437.7 L1610.5,1403.1 L1615.5,1437.7 L1620.5,1403.1 L1625.4,1437.7 L1630.4,1403.1 L1635.3,1437.7 L1640.3,1403.1 L1645.3,1437.7 L1650.2,1403.1 L1655.2,1437.7 L1660.1,1403.1 L1665.1,1437.7 L1670.1,1403.1 L1675,1437.7 L1680,1403.1 L1684.9,1437.7 L1689.9,1403.1 L1694.9,1437.7 L1699.8,1403.1 L1704.8,1437.7 L1709.7,1403.1 L1714.7,1437.7 L1719.7,1403.1 L1724.6,1437.7 L1729.6,1403.1 L1734.5,1437.7 L1739.5,1403.1 L1744.5,1437.7 L1749.4,1403.1 L1754.4,1437.7 L1759.3,1403.1 L1764.3,1437.7 L1769.3,1403.1 L1774.2,1437.7 L1779.2,1403.1 L1784.1,1437.7 L1789.1,1403.1 L1794.1,1437.7 L1799,1403.1 L1804,1437.7 L1808.9,1403.1 L1813.9,1437.7 L1818.9,1403.1 L1823.8,1437.7 L1828.8,1403.1 L1833.7,1437.7 L1838.7,1403.1 L1843.7,1437.7 L1848.6,1403.1 L1853.6,1437.7 L1858.5,1403.1 L1863.5,1437.7 L1868.5,1403.1 L1873.4,1437.7 L1878.4,1403.1 L1883.3,1437.7 L1888.3,1403.1 L1893.3,1437.7 L1898.2,1403.1 L1903.2,1437.7 L1908.1,1403.1 L1913.1,1437.7 L1918.1,1403.1 L1923,1437.7 M484.6,1474.3 L489.6,1439.7 L494.5,1474.3 L499.5,1439.7 L504.5,1474.3 L509.4,1439.7 L514.4,1474.3 L519.3,1439.7 L524.3,1474.3 L529.3,1439.7 L534.2,1474.3 L539.2,1439.7 L544.1,1474.3 L549.1,1439.7 L554.1,1474.3 L559,1439.7 L564,1474.3 L568.9,1439.7 L573.9,1474.3 L578.9,1439.7 L583.8,1474.3 L588.8,1439.7 L593.7,1474.3 L598.7,1439.7 L603.7,1474.3 L608.6,1439.7 L613.6,1474.3 L618.5,1439.7 L623.5,1474.3 L628.5,1439.7 L633.4,1474.3 L638.4,1439.7 L643.3,1474.3 L648.3,1439.7 L653.3,1474.3 L658.2,1439.7 L663.2,1474.3 L668.1,1439.7 L673.1,1474.3 L678.1,1439.7 L683,1474.3 L688,1439.7 L692.9,1474.3 L697.9,1439.7 L702.9,1474.3 L707.8,1439.7 L712.8,1474.3 L717.7,1439.7 L722.7,1474.3 L727.7,1439.7 L732.6,1474.3 L737.6,1439.7 L742.5,1474.3 L747.5,1439.7 L752.5,1474.3 L757.4,1439.7 L762.4,1474.3 L767.3,1439.7 L772.3,1474.3 L777.3,1439.7 L782.2,1474.3 L787.2,1439.7 L792.1,1474.3 L797.1,1439.7 L802.1,1474.3 L807,1439.7 L812,1474.3 L816.9,1439.7 L821.9,1474.3 L826.9,1439.7 L831.8,1474.3 L836.8,1439.7 L841.7,1474.3 L846.7,1439.7 L851.7,1474.3 L856.6,1439.7 L861.6,1474.3 L866.5,1439.7 L871.5,1474.3 L876.5,1439.7 L881.4,1474.3 L886.4,1439.7 L891.3,1474.3 L896.3,1439.7 L901.3,1474.3 L906.2,1439.7 L911.2,1474.3 L916.1,1439.7 L921.1,1474.3 L926.1,1439.7 L931,1474.3 L936,1439.7 L940.9,1474.3 L945.9,1439.7 L950.9,1474.3 L955.8,1439.7 L960.8,1474.3 L965.7,1439.7 L970.7,1474.3 L975.7,1439.7 L980.6,1474.3 L985.6,1439.7 L990.5,1474.3 L995.5,1439.7 L1000.5,1474.3 L1005.4,1439.7 L1010.4,1474.3 L1015.3,1439.7 L1020.3,1474.3 L1025.3,1439.7 L1030.2,1474.3 L1035.2,1439.7 L1040.1,1474.3 L1045.1,1439.7 L1050.1,1474.3 L1055,1439.7 L1060,1474.3 L1064.9,1439.7 L1069.9,1474.3 L1074.9,1439.7 L1079.8,1474.3 L1084.8,1439.7 L1089.7,1474.3 L1094.7,1439.7 L1099.7,1474.3 L1104.6,1439.7 L1109.6,1474.3 L1114.5,1439.7 L1119.5,1474.3 L1124.5,1439.7 L1129.4,1474.3 L1134.4,1439.7 L1139.3,1474.3 L1144.3,1439.7 L1149.3,1474.3 L1154.2,1439.7 L1159.2,1474.3 L1164.1,1439.7 L1169.1,1474.3 L1174.1,1439.7 L1179,1474.3 L1184,1439.7 L1188.9,1474.3 L1193.9,1439.7 L1198.9,1474.3 L1203.8,1439.7 L1208.8,1474.3 L1213.7,1439.7 L1218.7,1474.3 L1223.7,1439.7 L1228.6,1474.3 L1233.6,1439.7 L1238.5,1474.3 L1243.5,1439.7 L1248.5,1474.3 L1253.4,1439.7 L1258.4,1474.3 L1263.3,1439.7 L1268.3,1474.3 L1273.3,1439.7 L1278.2,1474.3 L1283.2,1439.7 L1288.1,1474.3 L1293.1,1439.7 L1298.1,1474.3 L1303,1439.7 L1308,1474.3 L1312.9,1439.7 L1317.9,1474.3 L1322.9,1439.7 L1327.8,1474.3 L1332.8,1439.7 L1337.7,1474.3 L1342.7,1439.7 L1347.7,1474.3 L1352.6,1439.7 L1357.6,1474.3 L1362.5,1439.7 L1367.5,1474.3 L1372.5,1439.7 L1377.4,1474.3 L1382.4,1439.7 L1387.3,1474.3 L1392.3,1439.7 L1397.3,1474.3 L1402.2,1439.7 L1407.2,1474.3 L1412.1,1439.7 L1417.1,1474.3 L1422.1,1439.7 L1427,1474.3 L1432,1439.7 L1436.9,1474.3 L1441.9,1439.7 L1446.9,1474.3 L1451.8,1439.7 L1456.8,1474.3 L1461.7,1439.7 L1466.7,1474.3 L1471.7,1439.7 L1476.6,1474.3 L1481.6,1439.7 L1486.5,1474.3 L1491.5,1439.7 L1496.5,1474.3 L1501.4,1439.7 L1506.4,1474.3 L1511.3,1439.7 L1516.3,1474.3 L1521.3,1439.7 L1526.2,1474.3 L1531.2,1439.7 L1536.1,1474.3 L1541.1,1439.7 L1546.1,1474.3 L1551,1439.7 L1556,1474.3 L1560.9,1439.7 L1565.9,1474.3 L1570.9,1439.7 L1575.8,1474.3 L1580.8,1439.7 L1585.7,1474.3 L1590.7,1439.7 L1595.7,1474.3 L1600.6,1439.7 L1605.6,1474.3 L1610.5,1439.7 L1615.5,1474.3 L1620.5,1439.7 L1625.4,1474.3 L1630.4,1439.7 L1635.3,1474.3 L1640.3,1439.7 L1645.3,1474.3 L1650.2,1439.7 L1655.2,1474.3 L1660.1,1439.7 L1665.1,1474.3 L1670.1,1439.7 L1675,1474.3 L1680,1439.7 L1684.9,1474.3 L1689.9,1439.7 L1694.9,1474.3 L1699.8,1439.7 L1704.8,1474.3 L1709.7,1439.7 L1714.7,1474.3 L1719.7,1439.7 L1724.6,1474.3 L1729.6,1439.7 L1734.5,1474.3 L1739.5,1439.7 L1744.5,1474.3 L1749.4,1439.7 L1754.4,1474.3 L1759.3,1439.7 L1764.3,1474.3 L1769.3,1439.7 L1774.2,1474.3 L1779.2,1439.7 L1784.1,1474.3 L1789.1,1439.7 L1794.1,1474.3 L1799,1439.7 L1804,1474.3 L1808.9,1439.7 L1813.9,1474.3 L1818.9,1439.7 L1823.8,1474.3 L1828.8,1439.7 L1833.7,1474.3 L1838.7,1439.7 L1843.7,1474.3 L1848.6,1439.7 L1853.6,1474.3 L1858.5,1439.7 L1863.5,1474.3 L1868.5,1439.7 L1873.4,1474.3 L1878.4,1439.7 L1883.3,1474.3 L1888.3,1439.7 L1893.3,1474.3 L1898.2,1439.7 L1903.2,1474.3 L1908.1,1439.7 L1913.1,1474.3 L1918.1,1439.7 L1923,1474.3 M484.6,1511 L489.6,1476.3 L494.5,1511 L499.5,1476.3 L504.5,1511 L509.4,1476.3 L514.4,1511 L519.3,1476.3 L524.3,1511 L529.3,1476.3 L534.2,1511 L539.2,1476.3 L544.1,1511 L549.1,1476.3 L554.1,1511 L559,1476.3 L564,1511 L568.9,1476.3 L573.9,1511 L578.9,1476.3 L583.8,1511 L588.8,1476.3 L593.7,1511 L598.7,1476.3 L603.7,1511 L608.6,1476.3 L613.6,1511 L618.5,1476.3 L623.5,1511 L628.5,1476.3 L633.4,1511 L638.4,1476.3 L643.3,1511 L648.3,1476.3 L653.3,1511 L658.2,1476.3 L663.2,1511 L668.1,1476.3 L673.1,1511 L678.1,1476.3 L683,1511 L688,1476.3 L692.9,1511 L697.9,1476.3 L702.9,1511 L707.8,1476.3 L712.8,1511 L717.7,1476.3 L722.7,1511 L727.7,1476.3 L732.6,1511 L737.6,1476.3 L742.5,1511 L747.5,1476.3 L752.5,1511 L757.4,1476.3 L762.4,1511 L767.3,1476.3 L772.3,1511 L777.3,1476.3 L782.2,1511 L787.2,1476.3 L792.1,1511 L797.1,1476.3 L802.1,1511 L807,1476.3 L812,1511 L816.9,1476.3 L821.9,1511 L826.9,1476.3 L831.8,1511 L836.8,1476.3 L841.7,1511 L846.7,1476.3 L851.7,1511 L856.6,1476.3 L861.6,1511 L866.5,1476.3 L871.5,1511 L876.5,1476.3 L881.4,1511 L886.4,1476.3 L891.3,1511 L896.3,1476.3 L901.3,1511 L906.2,1476.3 L911.2,1511 L916.1,1476.3 L921.1,1511 L926.1,1476.3 L931,1511 L936,1476.3 L940.9,1511 L945.9,1476.3 L950.9,1511 L955.8,1476.3 L960.8,1511 L965.7,1476.3 L970.7,1511 L975.7,1476.3 L980.6,1511 L985.6,1476.3 L990.5,1511 L995.5,1476.3 L1000.5,1511 L1005.4,1476.3 L1010.4,1511 L1015.3,1476.3 L1020.3,1511 L1025.3,1476.3 L1030.2,1511 L1035.2,1476.3 L1040.1,1511 L1045.1,1476.3 L1050.1,1511 L1055,1476.3 L1060,1511 L1064.9,1476.3 L1069.9,1511 L1074.9,1476.3 L1079.8,1511 L1084.8,1476.3 L1089.7,1511 L1094.7,1476.3 L1099.7,1511 L1104.6,1476.3 L1109.6,1511 L1114.5,1476.3 L1119.5,1511 L1124.5,1476.3 L1129.4,1511 L1134.4,1476.3 L1139.3,1511 L1144.3,1476.3 L1149.3,1511 L1154.2,1476.3 L1159.2,1511 L1164.1,1476.3 L1169.1,1511 L1174.1,1476.3 L1179,1511 L1184,1476.3 L1188.9,1511 L1193.9,1476.3 L1198.9,1511 L1203.8,1476.3 L1208.8,1511 L1213.7,1476.3 L1218.7,1511 L1223.7,1476.3 L1228.6,1511 L1233.6,1476.3 L1238.5,1511 L1243.5,1476.3 L1248.5,1511 L1253.4,1476.3 L1258.4,1511 L1263.3,1476.3 L1268.3,1511 L1273.3,1476.3 L1278.2,1511 L1283.2,1476.3 L1288.1,1511 L1293.1,1476.3 L1298.1,1511 L1303,1476.3 L1308,1511 L1312.9,1476.3 L1317.9,1511 L1322.9,1476.3 L1327.8,1511 L1332.8,1476.3 L1337.7,1511 L1342.7,1476.3 L1347.7,1511 L1352.6,1476.3 L1357.6,1511 L1362.5,1476.3 L1367.5,1511 L1372.5,1476.3 L1377.4,1511 L1382.4,1476.3 L1387.3,1511 L1392.3,1476.3 L1397.3,1511 L1402.2,1476.3 L1407.2,1511 L1412.1,1476.3 L1417.1,1511 L1422.1,1476.3 L1427,1511 L1432,1476.3 L1436.9,1511 L1441.9,1476.3 L1446.9,1511 L1451.8,1476.3 L1456.8,1511 L1461.7,1476.3 L1466.7,1511 L1471.7,1476.3 L1476.6,1511 L1481.6,1476.3 L1486.5,1511 L1491.5,1476.3 L1496.5,1511 L1501.4,1476.3 L1506.4,1511 L1511.3,1476.3 L1516.3,1511 L1521.3,1476.3 L1526.2,1511 L1531.2,1476.3 L1536.1,1511 L1541.1,1476.3 L1546.1,1511 L1551,1476.3 L1556,1511 L1560.9,1476.3 L1565.9,1511 L1570.9,1476.3 L1575.8,1511 L1580.8,1476.3 L1585.7,1511 L1590.7,1476.3 L1595.7,1511 L1600.6,1476.3 L1605.6,1511 L1610.5,1476.3 L1615.5,1511 L1620.5,1476.3 L1625.4,1511 L1630.4,1476.3 L1635.3,1511 L1640.3,1476.3 L1645.3,1511 L1650.2,1476.3 L1655.2,1511 L1660.1,1476.3 L1665.1,1511 L1670.1,1476.3 L1675,1511 L1680,1476.3 L1684.9,1511 L1689.9,1476.3 L1694.9,1511 L1699.8,1476.3 L1704.8,1511 L1709.7,1476.3 L1714.7,1511 L1719.7,1476.3 L1724.6,1511 L1729.6,1476.3 L1734.5,1511 L1739.5,1476.3 L1744.5,1511 L1749.4,1476.3 L1754.4,1511 L1759.3,1476.3 L1764.3,1511 L1769.3,1476.3 L1774.2,1511 L1779.2,1476.3 L1784.1,1511 L1789.1,1476.3 L1794.1,1511 L1799,1476.3 L1804,1511 L1808.9,1476.3 L1813.9,1511 L1818.9,1476.3 L1823.8,1511 L1828.8,1476.3 L1833.7,1511 L1838.7,1476.3 L1843.7,1511 L1848.6,1476.3 L1853.6,1511 L1858.5,1476.3 L1863.5,1511 L1868.5,1476.3 L1873.4,1511 L1878.4,1476.3 L1883.3,1511 L1888.3,1476.3 L1893.3,1511 L1898.2,1476.3 L1903.2,1511 L1908.1,1476.3 L1913.1,1511 L1918.1,1476.3 L1923,1511 M484.6,1547.6 L489.6,1513 L494.5,1547.6 L499.5,1513 L504.5,1547.6 L509.4,1513 L514.4,1547.6 L519.3,1513 L524.3,1547.6 L529.3,1513 L534.2,1547.6 L539.2,1513 L544.1,1547.6 L549.1,1513 L554.1,1547.6 L559,1513 L564,1547.6 L568.9,1513 L573.9,1547.6 L578.9,1513 L583.8,1547.6 L588.8,1513 L593.7,1547.6 L598.7,1513 L603.7,1547.6 L608.6,1513 L613.6,1547.6 L618.5,1513 L623.5,1547.6 L628.5,1513 L633.4,1547.6 L638.4,1513 L643.3,1547.6 L648.3,1513 L653.3,1547.6 L658.2,1513 L663.2,1547.6 L668.1,1513 L673.1,1547.6 L678.1,1513 L683,1547.6 L688,1513 L692.9,1547.6 L697.9,1513 L702.9,1547.6 L707.8,1513 L712.8,1547.6 L717.7,1513 L722.7,1547.6 L727.7,1513 L732.6,1547.6 L737.6,1513 L742.5,1547.6 L747.5,1513 L752.5,1547.6 L757.4,1513 L762.4,1547.6 L767.3,1513 L772.3,1547.6 L777.3,1513 L782.2,1547.6 L787.2,1513 L792.1,1547.6 L797.1,1513 L802.1,1547.6 L807,1513 L812,1547.6 L816.9,1513 L821.9,1547.6 L826.9,1513 L831.8,1547.6 L836.8,1513 L841.7,1547.6 L846.7,1513 L851.7,1547.6 L856.6,1513 L861.6,1547.6 L866.5,1513 L871.5,1547.6 L876.5,1513 L881.4,1547.6 L886.4,1513 L891.3,1547.6 L896.3,1513 L901.3,1547.6 L906.2,1513 L911.2,1547.6 L916.1,1513 L921.1,1547.6 L926.1,1513 L931,1547.6 L936,1513 L940.9,1547.6 L945.9,1513 L950.9,1547.6 L955.8,1513 L960.8,1547.6 L965.7,1513 L970.7,1547.6 L975.7,1513 L980.6,1547.6 L985.6,1513 L990.5,1547.6 L995.5,1513 L1000.5,1547.6 L1005.4,1513 L1010.4,1547.6 L1015.3,1513 L1020.3,1547.6 L1025.3,1513 L1030.2,1547.6 L1035.2,1513 L1040.1,1547.6 L1045.1,1513 L1050.1,1547.6 L1055,1513 L1060,1547.6 L1064.9,1513 L1069.9,1547.6 L1074.9,1513 L1079.8,1547.6 L1084.8,1513 L1089.7,1547.6 L1094.7,1513 L1099.7,1547.6 L1104.6,1513 L1109.6,1547.6 L1114.5,1513 L1119.5,1547.6 L1124.5,1513 L1129.4,1547.6 L1134.4,1513 L1139.3,1547.6 L1144.3,1513 L1149.3,1547.6 L1154.2,1513 L1159.2,1547.6 L1164.1,1513 L1169.1,1547.6 L1174.1,1513 L1179,1547.6 L1184,1513 L1188.9,1547.6 L1193.9,1513 L1198.9,1547.6 L1203.8,1513 L1208.8,1547.6 L1213.7,1513 L1218.7,1547.6 L1223.7,1513 L1228.6,1547.6 L1233.6,1513 L1238.5,1547.6 L1243.5,1513 L1248.5,1547.6 L1253.4,1513 L1258.4,1547.6 L1263.3,1513 L1268.3,1547.6 L1273.3,1513 L1278.2,1547.6 L1283.2,1513 L1288.1,1547.6 L1293.1,1513 L1298.1,1547.6 L1303,1513 L1308,1547.6 L1312.9,1513 L1317.9,1547.6 L1322.9,1513 L1327.8,1547.6 L1332.8,1513 L1337.7,1547.6 L1342.7,1513 L1347.7,1547.6 L1352.6,1513 L1357.6,1547.6 L1362.5,1513 L1367.5,1547.6 L1372.5,1513 L1377.4,1547.6 L1382.4,1513 L1387.3,1547.6 L1392.3,1513 L1397.3,1547.6 L1402.2,1513 L1407.2,1547.6 L1412.1,1513 L1417.1,1547.6 L1422.1,1513 L1427,1547.6 L1432,1513 L1436.9,1547.6 L1441.9,1513 L1446.9,1547.6 L1451.8,1513 L1456.8,1547.6 L1461.7,1513 L1466.7,1547.6 L1471.7,1513 L1476.6,1547.6 L1481.6,1513 L1486.5,1547.6 L1491.5,1513 L1496.5,1547.6 L1501.4,1513 L1506.4,1547.6 L1511.3,1513 L1516.3,1547.6 L1521.3,1513 L1526.2,1547.6 L1531.2,1513 L1536.1,1547.6 L1541.1,1513 L1546.1,1547.6 L1551,1513 L1556,1547.6 L1560.9,1513 L1565.9,1547.6 L1570.9,1513 L1575.8,1547.6 L1580.8,1513 L1585.7,1547.6 L1590.7,1513 L1595.7,1547.6 L1600.6,1513 L1605.6,1547.6 L1610.5,1513 L1615.5,1547.6 L1620.5,1513 L1625.4,1547.6 L1630.4,1513 L1635.3,1547.6 L1640.3,1513 L1645.3,1547.6 L1650.2,1513 L1655.2,1547.6 L1660.1,1513 L1665.1,1547.6 L1670.1,1513 L1675,1547.6 L1680,1513 L1684.9,1547.6 L1689.9,1513 L1694.9,1547.6 L1699.8,1513 L1704.8,1547.6 L1709.7,1513 L1714.7,1547.6 L1719.7,1513 L1724.6,1547.6 L1729.6,1513 L1734.5,1547.6 L1739.5,1513 L1744.5,1547.6 L1749.4,1513 L1754.4,1547.6 L1759.3,1513 L1764.3,1547.6 L1769.3,1513 L1774.2,1547.6 L1779.2,1513 L1784.1,1547.6 L1789.1,1513 L1794.1,1547.6 L1799,1513 L1804,1547.6 L1808.9,1513 L1813.9,1547.6 L1818.9,1513 L1823.8,1547.6 L1828.8,1513 L1833.7,1547.6 L1838.7,1513 L1843.7,1547.6 L1848.6,1513 L1853.6,1547.6 L1858.5,1513 L1863.5,1547.6 L1868.5,1513 L1873.4,1547.6 L1878.4,1513 L1883.3,1547.6 L1888.3,1513 L1893.3,1547.6 L1898.2,1513 L1903.2,1547.6 L1908.1,1513 L1913.1,1547.6 L1918.1,1513 L1923,1547.6 M484.6,1584.3 L489.6,1549.6 L494.5,1584.3 L499.5,1549.6 L504.5,1584.3 L509.4,1549.6 L514.4,1584.3 L519.3,1549.6 L524.3,1584.3 L529.3,1549.6 L534.2,1584.3 L539.2,1549.6 L544.1,1584.3 L549.1,1549.6 L554.1,1584.3 L559,1549.6 L564,1584.3 L568.9,1549.6 L573.9,1584.3 L578.9,1549.6 L583.8,1584.3 L588.8,1549.6 L593.7,1584.3 L598.7,1549.6 L603.7,1584.3 L608.6,1549.6 L613.6,1584.3 L618.5,1549.6 L623.5,1584.3 L628.5,1549.6 L633.4,1584.3 L638.4,1549.6 L643.3,1584.3 L648.3,1549.6 L653.3,1584.3 L658.2,1549.6 L663.2,1584.3 L668.1,1549.6 L673.1,1584.3 L678.1,1549.6 L683,1584.3 L688,1549.6 L692.9,1584.3 L697.9,1549.6 L702.9,1584.3 L707.8,1549.6 L712.8,1584.3 L717.7,1549.6 L722.7,1584.3 L727.7,1549.6 L732.6,1584.3 L737.6,1549.6 L742.5,1584.3 L747.5,1549.6 L752.5,1584.3 L757.4,1549.6 L762.4,1584.3 L767.3,1549.6 L772.3,1584.3 L777.3,1549.6 L782.2,1584.3 L787.2,1549.6 L792.1,1584.3 L797.1,1549.6 L802.1,1584.3 L807,1549.6 L812,1584.3 L816.9,1549.6 L821.9,1584.3 L826.9,1549.6 L831.8,1584.3 L836.8,1549.6 L841.7,1584.3 L846.7,1549.6 L851.7,1584.3 L856.6,1549.6 L861.6,1584.3 L866.5,1549.6 L871.5,1584.3 L876.5,1549.6 L881.4,1584.3 L886.4,1549.6 L891.3,1584.3 L896.3,1549.6 L901.3,1584.3 L906.2,1549.6 L911.2,1584.3 L916.1,1549.6 L921.1,1584.3 L926.1,1549.6 L931,1584.3 L936,1549.6 L940.9,1584.3 L945.9,1549.6 L950.9,1584.3 L955.8,1549.6 L960.8,1584.3 L965.7,1549.6 L970.7,1584.3 L975.7,1549.6 L980.6,1584.3 L985.6,1549.6 L990.5,1584.3 L995.5,1549.6 L1000.5,1584.3 L1005.4,1549.6 L1010.4,1584.3 L1015.3,1549.6 L1020.3,1584.3 L1025.3,1549.6 L1030.2,1584.3 L1035.2,1549.6 L1040.1,1584.3 L1045.1,1549.6 L1050.1,1584.3 L1055,1549.6 L1060,1584.3 L1064.9,1549.6 L1069.9,1584.3 L1074.9,1549.6 L1079.8,1584.3 L1084.8,1549.6 L1089.7,1584.3 L1094.7,1549.6 L1099.7,1584.3 L1104.6,1549.6 L1109.6,1584.3 L1114.5,1549.6 L1119.5,1584.3 L1124.5,1549.6 L1129.4,1584.3 L1134.4,1549.6 L1139.3,1584.3 L1144.3,1549.6 L1149.3,1584.3 L1154.2,1549.6 L1159.2,1584.3 L1164.1,1549.6 L1169.1,1584.3 L1174.1,1549.6 L1179,1584.3 L1184,1549.6 L1188.9,1584.3 L1193.9,1549.6 L1198.9,1584.3 L1203.8,1549.6 L1208.8,1584.3 L1213.7,1549.6 L1218.7,1584.3 L1223.7,1549.6 L1228.6,1584.3 L1233.6,1549.6 L1238.5,1584.3 L1243.5,1549.6 L1248.5,1584.3 L1253.4,1549.6 L1258.4,1584.3 L1263.3,1549.6 L1268.3,1584.3 L1273.3,1549.6 L1278.2,1584.3 L1283.2,1549.6 L1288.1,1584.3 L1293.1,1549.6 L1298.1,1584.3 L1303,1549.6 L1308,1584.3 L1312.9,1549.6 L1317.9,1584.3 L1322.9,1549.6 L1327.8,1584.3 L1332.8,1549.6 L1337.7,1584.3 L1342.7,1549.6 L1347.7,1584.3 L1352.6,1549.6 L1357.6,1584.3 L1362.5,1549.6 L1367.5,1584.3 L1372.5,1549.6 L1377.4,1584.3 L1382.4,1549.6 L1387.3,1584.3 L1392.3,1549.6 L1397.3,1584.3 L1402.2,1549.6 L1407.2,1584.3 L1412.1,1549.6 L1417.1,1584.3 L1422.1,1549.6 L1427,1584.3 L1432,1549.6 L1436.9,1584.3 L1441.9,1549.6 L1446.9,1584.3 L1451.8,1549.6 L1456.8,1584.3 L1461.7,1549.6 L1466.7,1584.3 L1471.7,1549.6 L1476.6,1584.3 L1481.6,1549.6 L1486.5,1584.3 L1491.5,1549.6 L1496.5,1584.3 L1501.4,1549.6 L1506.4,1584.3 L1511.3,1549.6 L1516.3,1584.3 L1521.3,1549.6 L1526.2,1584.3 L1531.2,1549.6 L1536.1,1584.3 L1541.1,1549.6 L1546.1,1584.3 L1551,1549.6 L1556,1584.3 L1560.9,1549.6 L1565.9,1584.3 L1570.9,1549.6 L1575.8,1584.3 L1580.8,1549.6 L1585.7,1584.3 L1590.7,1549.6 L1595.7,1584.3 L1600.6,1549.6 L1605.6,1584.3 L1610.5,1549.6 L1615.5,1584.3 L1620.5,1549.6 L1625.4,1584.3 L1630.4,1549.6 L1635.3,1584.3 L1640.3,1549.6 L1645.3,1584.3 L1650.2,1549.6 L1655.2,1584.3 L1660.1,1549.6 L1665.1,1584.3 L1670.1,1549.6 L1675,1584.3 L1680,1549.6 L1684.9,1584.3 L1689.9,1549.6 L1694.9,1584.3 L1699.8,1549.6 L1704.8,1584.3 L1709.7,1549.6 L1714.7,1584.3 L1719.7,1549.6 L1724.6,1584.3 L1729.6,1549.6 L1734.5,1584.3 L1739.5,1549.6 L1744.5,1584.3 L1749.4,1549.6 L1754.4,1584.3 L1759.3,1549.6 L1764.3,1584.3 L1769.3,1549.6 L1774.2,1584.3 L1779.2,1549.6 L1784.1,1584.3 L1789.1,1549.6 L1794.1,1584.3 L1799,1549.6 L1804,1584.3 L1808.9,1549.6 L1813.9,1584.3 L1818.9,1549.6 L1823.8,1584.3 L1828.8,1549.6 L1833.7,1584.3 L1838.7,1549.6 L1843.7,1584.3 L1848.6,1549.6 L1853.6,1584.3 L1858.5,1549.6 L1863.5,1584.3 L1868.5,1549.6 L1873.4,1584.3 L1878.4,1549.6 L1883.3,1584.3 L1888.3,1549.6 L1893.3,1584.3 L1898.2,1549.6 L1903.2,1584.3 L1908.1,1549.6 L1913.1,1584.3 L1918.1,1549.6 L1923,1584.3 M484.6,1620.9 L489.6,1586.3 L494.5,1620.9 L499.5,1586.3 L504.5,1620.9 L509.4,1586.3 L514.4,1620.9 L519.3,1586.3 L524.3,1620.9 L529.3,1586.3 L534.2,1620.9 L539.2,1586.3 L544.1,1620.9 L549.1,1586.3 L554.1,1620.9 L559,1586.3 L564,1620.9 L568.9,1586.3 L573.9,1620.9 L578.9,1586.3 L583.8,1620.9 L588.8,1586.3 L593.7,1620.9 L598.7,1586.3 L603.7,1620.9 L608.6,1586.3 L613.6,1620.9 L618.5,1586.3 L623.5,1620.9 L628.5,1586.3 L633.4,1620.9 L638.4,1586.3 L643.3,1620.9 L648.3,1586.3 L653.3,1620.9 L658.2,1586.3 L663.2,1620.9 L668.1,1586.3 L673.1,1620.9 L678.1,1586.3 L683,1620.9 L688,1586.3 L692.9,1620.9 L697.9,1586.3 L702.9,1620.9 L707.8,1586.3 L712.8,1620.9 L717.7,1586.3 L722.7,1620.9 L727.7,1586.3 L732.6,1620.9 L737.6,1586.3 L742.5,1620.9 L747.5,1586.3 L752.5,1620.9 L757.4,1586.3 L762.4,1620.9 L767.3,1586.3 L772.3,1620.9 L777.3,1586.3 L782.2,1620.9 L787.2,1586.3 L792.1,1620.9 L797.1,1586.3 L802.1,1620.9 L807,1586.3 L812,1620.9 L816.9,1586.3 L821.9,1620.9 L826.9,1586.3 L831.8,1620.9 L836.8,1586.3 L841.7,1620.9 L846.7,1586.3 L851.7,1620.9 L856.6,1586.3 L861.6,1620.9 L866.5,1586.3 L871.5,1620.9 L876.5,1586.3 L881.4,1620.9 L886.4,1586.3 L891.3,1620.9 L896.3,1586.3 L901.3,1620.9 L906.2,1586.3 L911.2,1620.9 L916.1,1586.3 L921.1,1620.9 L926.1,1586.3 L931,1620.9 L936,1586.3 L940.9,1620.9 L945.9,1586.3 L950.9,1620.9 L955.8,1586.3 L960.8,1620.9 L965.7,1586.3 L970.7,1620.9 L975.7,1586.3 L980.6,1620.9 L985.6,1586.3 L990.5,1620.9 L995.5,1586.3 L1000.5,1620.9 L1005.4,1586.3 L1010.4,1620.9 L1015.3,1586.3 L1020.3,1620.9 L1025.3,1586.3 L1030.2,1620.9 L1035.2,1586.3 L1040.1,1620.9 L1045.1,1586.3 L1050.1,1620.9 L1055,1586.3 L1060,1620.9 L1064.9,1586.3 L1069.9,1620.9 L1074.9,1586.3 L1079.8,1620.9 L1084.8,1586.3 L1089.7,1620.9 L1094.7,1586.3 L1099.7,1620.9 L1104.6,1586.3 L1109.6,1620.9 L1114.5,1586.3 L1119.5,1620.9 L1124.5,1586.3 L1129.4,1620.9 L1134.4,1586.3 L1139.3,1620.9 L1144.3,1586.3 L1149.3,1620.9 L1154.2,1586.3 L1159.2,1620.9 L1164.1,1586.3 L1169.1,1620.9 L1174.1,1586.3 L1179,1620.9 L1184,1586.3 L1188.9,1620.9 L1193.9,1586.3 L1198.9,1620.9 L1203.8,1586.3 L1208.8,1620.9 L1213.7,1586.3 L1218.7,1620.9 L1223.7,1586.3 L1228.6,1620.9 L1233.6,1586.3 L1238.5,1620.9 L1243.5,1586.3 L1248.5,1620.9 L1253.4,1586.3 L1258.4,1620.9 L1263.3,1586.3 L1268.3,1620.9 L1273.3,1586.3 L1278.2,1620.9 L1283.2,1586.3 L1288.1,1620.9 L1293.1,1586.3 L1298.1,1620.9 L1303,1586.3 L1308,1620.9 L1312.9,1586.3 L1317.9,1620.9 L1322.9,1586.3 L1327.8,1620.9 L1332.8,1586.3 L1337.7,1620.9 L1342.7,1586.3 L1347.7,1620.9 L1352.6,1586.3 L1357.6,1620.9 L1362.5,1586.3 L1367.5,1620.9 L1372.5,1586.3 L1377.4,1620.9 L1382.4,1586.3 L1387.3,1620.9 L1392.3,1586.3 L1397.3,1620.9 L1402.2,1586.3 L1407.2,1620.9 L1412.1,1586.3 L1417.1,1620.9 L1422.1,1586.3 L1427,1620.9 L1432,1586.3 L1436.9,1620.9 L1441.9,1586.3 L1446.9,1620.9 L1451.8,1586.3 L1456.8,1620.9 L1461.7,1586.3 L1466.7,1620.9 L1471.7,1586.3 L1476.6,1620.9 L1481.6,1586.3 L1486.5,1620.9 L1491.5,1586.3 L1496.5,1620.9 L1501.4,1586.3 L1506.4,1620.9 L1511.3,1586.3 L1516.3,1620.9 L1521.3,1586.3 L1526.2,1620.9 L1531.2,1586.3 L1536.1,1620.9 L1541.1,1586.3 L1546.1,1620.9 L1551,1586.3 L1556,1620.9 L1560.9,1586.3 L1565.9,1620.9 L1570.9,1586.3 L1575.8,1620.9 L1580.8,1586.3 L1585.7,1620.9 L1590.7,1586.3 L1595.7,1620.9 L1600.6,1586.3 L1605.6,1620.9 L1610.5,1586.3 L1615.5,1620.9 L1620.5,1586.3 L1625.4,1620.9 L1630.4,1586.3 L1635.3,1620.9 L1640.3,1586.3 L1645.3,1620.9 L1650.2,1586.3 L1655.2,1620.9 L1660.1,1586.3 L1665.1,1620.9 L1670.1,1586.3 L1675,1620.9 L1680,1586.3 L1684.9,1620.9 L1689.9,1586.3 L1694.9,1620.9 L1699.8,1586.3 L1704.8,1620.9 L1709.7,1586.3 L1714.7,1620.9 L1719.7,1586.3 L1724.6,1620.9 L1729.6,1586.3 L1734.5,1620.9 L1739.5,1586.3 L1744.5,1620.9 L1749.4,1586.3 L1754.4,1620.9 L1759.3,1586.3 L1764.3,1620.9 L1769.3,1586.3 L1774.2,1620.9 L1779.2,1586.3 L1784.1,1620.9 L1789.1,1586.3 L1794.1,1620.9 L1799,1586.3 L1804,1620.9 L1808.9,1586.3 L1813.9,1620.9 L1818.9,1586.3 L1823.8,1620.9 L1828.8,1586.3 L1833.7,1620.9 L1838.7,1586.3 L1843.7,1620.9 L1848.6,1586.3 L1853.6,1620.9 L1858.5,1586.3 L1863.5,1620.9 L1868.5,1586.3 L1873.4,1620.9 L1878.4,1586.3 L1883.3,1620.9 L1888.3,1586.3 L1893.3,1620.9 L1898.2,1586.3 L1903.2,1620.9 L1908.1,1586.3 L1913.1,1620.9 L1918.1,1586.3 L1923,1620.9 M484.6,1657.5 L489.6,1622.9 L494.5,1657.5 L499.5,1622.9 L504.5,1657.5 L509.4,1622.9 L514.4,1657.5 L519.3,1622.9 L524.3,1657.5 L529.3,1622.9 L534.2,1657.5 L539.2,1622.9 L544.1,1657.5 L549.1,1622.9 L554.1,1657.5 L559,1622.9 L564,1657.5 L568.9,1622.9 L573.9,1657.5 L578.9,1622.9 L583.8,1657.5 L588.8,1622.9 L593.7,1657.5 L598.7,1622.9 L603.7,1657.5 L608.6,1622.9 L613.6,1657.5 L618.5,1622.9 L623.5,1657.5 L628.5,1622.9 L633.4,1657.5 L638.4,1622.9 L643.3,1657.5 L648.3,1622.9 L653.3,1657.5 L658.2,1622.9 L663.2,1657.5 L668.1,1622.9 L673.1,1657.5 L678.1,1622.9 L683,1657.5 L688,1622.9 L692.9,1657.5 L697.9,1622.9 L702.9,1657.5 L707.8,1622.9 L712.8,1657.5 L717.7,1622.9 L722.7,1657.5 L727.7,1622.9 L732.6,1657.5 L737.6,1622.9 L742.5,1657.5 L747.5,1622.9 L752.5,1657.5 L757.4,1622.9 L762.4,1657.5 L767.3,1622.9 L772.3,1657.5 L777.3,1622.9 L782.2,1657.5 L787.2,1622.9 L792.1,1657.5 L797.1,1622.9 L802.1,1657.5 L807,1622.9 L812,1657.5 L816.9,1622.9 L821.9,1657.5 L826.9,1622.9 L831.8,1657.5 L836.8,1622.9 L841.7,1657.5 L846.7,1622.9 L851.7,1657.5 L856.6,1622.9 L861.6,1657.5 L866.5,1622.9 L871.5,1657.5 L876.5,1622.9 L881.4,1657.5 L886.4,1622.9 L891.3,1657.5 L896.3,1622.9 L901.3,1657.5 L906.2,1622.9 L911.2,1657.5 L916.1,1622.9 L921.1,1657.5 L926.1,1622.9 L931,1657.5 L936,1622.9 L940.9,1657.5 L945.9,1622.9 L950.9,1657.5 L955.8,1622.9 L960.8,1657.5 L965.7,1622.9 L970.7,1657.5 L975.7,1622.9 L980.6,1657.5 L985.6,1622.9 L990.5,1657.5 L995.5,1622.9 L1000.5,1657.5 L1005.4,1622.9 L1010.4,1657.5 L1015.3,1622.9 L1020.3,1657.5 L1025.3,1622.9 L1030.2,1657.5 L1035.2,1622.9 L1040.1,1657.5 L1045.1,1622.9 L1050.1,1657.5 L1055,1622.9 L1060,1657.5 L1064.9,1622.9 L1069.9,1657.5 L1074.9,1622.9 L1079.8,1657.5 L1084.8,1622.9 L1089.7,1657.5 L1094.7,1622.9 L1099.7,1657.5 L1104.6,1622.9 L1109.6,1657.5 L1114.5,1622.9 L1119.5,1657.5 L1124.5,1622.9 L1129.4,1657.5 L1134.4,1622.9 L1139.3,1657.5 L1144.3,1622.9 L1149.3,1657.5 L1154.2,1622.9 L1159.2,1657.5 L1164.1,1622.9 L1169.1,1657.5 L1174.1,1622.9 L1179,1657.5 L1184,1622.9 L1188.9,1657.5 L1193.9,1622.9 L1198.9,1657.5 L1203.8,1622.9 L1208.8,1657.5 L1213.7,1622.9 L1218.7,1657.5 L1223.7,1622.9 L1228.6,1657.5 L1233.6,1622.9 L1238.5,1657.5 L1243.5,1622.9 L1248.5,1657.5 L1253.4,1622.9 L1258.4,1657.5 L1263.3,1622.9 L1268.3,1657.5 L1273.3,1622.9 L1278.2,1657.5 L1283.2,1622.9 L1288.1,1657.5 L1293.1,1622.9 L1298.1,1657.5 L1303,1622.9 L1308,1657.5 L1312.9,1622.9 L1317.9,1657.5 L1322.9,1622.9 L1327.8,1657.5 L1332.8,1622.9 L1337.7,1657.5 L1342.7,1622.9 L1347.7,1657.5 L1352.6,1622.9 L1357.6,1657.5 L1362.5,1622.9 L1367.5,1657.5 L1372.5,1622.9 L1377.4,1657.5 L1382.4,1622.9 L1387.3,1657.5 L1392.3,1622.9 L1397.3,1657.5 L1402.2,1622.9 L1407.2,1657.5 L1412.1,1622.9 L1417.1,1657.5 L1422.1,1622.9 L1427,1657.5 L1432,1622.9 L1436.9,1657.5 L1441.9,1622.9 L1446.9,1657.5 L1451.8,1622.9 L1456.8,1657.5 L1461.7,1622.9 L1466.7,1657.5 L1471.7,1622.9 L1476.6,1657.5 L1481.6,1622.9 L1486.5,1657.5 L1491.5,1622.9 L1496.5,1657.5 L1501.4,1622.9 L1506.4,1657.5 L1511.3,1622.9 L1516.3,1657.5 L1521.3,1622.9 L1526.2,1657.5 L1531.2,1622.9 L1536.1,1657.5 L1541.1,1622.9 L1546.1,1657.5 L1551,1622.9 L1556,1657.5 L1560.9,1622.9 L1565.9,1657.5 L1570.9,1622.9 L1575.8,1657.5 L1580.8,1622.9 L1585.7,1657.5 L1590.7,1622.9 L1595.7,1657.5 L1600.6,1622.9 L1605.6,1657.5 L1610.5,1622.9 L1615.5,1657.5 L1620.5,1622.9 L1625.4,1657.5 L1630.4,1622.9 L1635.3,1657.5 L1640.3,1622.9 L1645.3,1657.5 L1650.2,1622.9 L1655.2,1657.5 L1660.1,1622.9 L1665.1,1657.5 L1670.1,1622.9 L1675,1657.5 L1680,1622.9 L1684.9,1657.5 L1689.9,1622.9 L1694.9,1657.5 L1699.8,1622.9 L1704.8,1657.5 L1709.7,1622.9 L1714.7,1657.5 L1719.7,1622.9 L1724.6,1657.5 L1729.6,1622.9 L1734.5,1657.5 L1739.5,1622.9 L1744.5,1657.5 L1749.4,1622.9 L1754.4,1657.5 L1759.3,1622.9 L1764.3,1657.5 L1769.3,1622.9 L1774.2,1657.5 L1779.2,1622.9 L1784.1,1657.5 L1789.1,1622.9 L1794.1,1657.5 L1799,1622.9 L1804,1657.5 L1808.9,1622.9 L1813.9,1657.5 L1818.9,1622.9 L1823.8,1657.5 L1828.8,1622.9 L1833.7,1657.5 L1838.7,1622.9 L1843.7,1657.5 L1848.6,1622.9 L1853.6,1657.5 L1858.5,1622.9 L1863.5,1657.5 L1868.5,1622.9 L1873.4,1657.5 L1878.4,1622.9 L1883.3,1657.5 L1888.3,1622.9 L1893.3,1657.5 L1898.2,1622.9 L1903.2,1657.5 L1908.1,1622.9 L1913.1,1657.5 L1918.1,1622.9 L1923,1657.5" stroke-width="2.5" stroke-linejoin="bevel" clip-path="url(#finclip)"/>
<rect x="419" y="1217.6" width="1578.3" height="479" rx="5" stroke-width="2.8"/>
<line x1="427.1" y1="1222.2" x2="427.1" y2="1692.3" stroke-width="2.2"/>
<line x1="1989" y1="1222.2" x2="1989" y2="1692.3" stroke-width="2.2"/>
<line x1="421" y1="1222.2" x2="1995" y2="1222.2" stroke-width="2.6"/>
<line x1="421" y1="1692.3" x2="1995" y2="1692.3" stroke-width="2.6"/>
<line x1="486.8" y1="1222.2" x2="486.8" y2="1692.3" stroke-width="2.6"/>
<line x1="1929.4" y1="1222.2" x2="1929.4" y2="1692.3" stroke-width="2.6"/>
<line x1="494.3" y1="1222.2" x2="494.3" y2="1692.3" stroke-width="3.0"/>
<line x1="1921.5" y1="1222.2" x2="1921.5" y2="1692.3" stroke-width="3.0"/>
<line x1="494.3" y1="1252.9" x2="1921.5" y2="1252.9" stroke-width="2.3"/>
<line x1="494.3" y1="1258.1" x2="1921.5" y2="1258.1" stroke-width="2.2"/>
<line x1="494.3" y1="1289.5" x2="1921.5" y2="1289.5" stroke-width="2.3"/>
<line x1="494.3" y1="1294.7" x2="1921.5" y2="1294.7" stroke-width="2.2"/>
<line x1="494.3" y1="1326.2" x2="1921.5" y2="1326.2" stroke-width="2.3"/>
<line x1="494.3" y1="1331.4" x2="1921.5" y2="1331.4" stroke-width="2.2"/>
<line x1="494.3" y1="1362.8" x2="1921.5" y2="1362.8" stroke-width="2.3"/>
<line x1="494.3" y1="1368" x2="1921.5" y2="1368" stroke-width="2.2"/>
<line x1="494.3" y1="1399.5" x2="1921.5" y2="1399.5" stroke-width="2.3"/>
<line x1="494.3" y1="1404.7" x2="1921.5" y2="1404.7" stroke-width="2.2"/>
<line x1="494.3" y1="1436.1" x2="1921.5" y2="1436.1" stroke-width="2.3"/>
<line x1="494.3" y1="1441.3" x2="1921.5" y2="1441.3" stroke-width="2.2"/>
<line x1="494.3" y1="1472.7" x2="1921.5" y2="1472.7" stroke-width="2.3"/>
<line x1="494.3" y1="1477.9" x2="1921.5" y2="1477.9" stroke-width="2.2"/>
<line x1="494.3" y1="1509.4" x2="1921.5" y2="1509.4" stroke-width="2.3"/>
<line x1="494.3" y1="1514.6" x2="1921.5" y2="1514.6" stroke-width="2.2"/>
<line x1="494.3" y1="1546" x2="1921.5" y2="1546" stroke-width="2.3"/>
<line x1="494.3" y1="1551.2" x2="1921.5" y2="1551.2" stroke-width="2.2"/>
<line x1="494.3" y1="1582.7" x2="1921.5" y2="1582.7" stroke-width="2.3"/>
<line x1="494.3" y1="1587.9" x2="1921.5" y2="1587.9" stroke-width="2.2"/>
<line x1="494.3" y1="1619.3" x2="1921.5" y2="1619.3" stroke-width="2.3"/>
<line x1="494.3" y1="1624.5" x2="1921.5" y2="1624.5" stroke-width="2.2"/>
<line x1="494.3" y1="1655.9" x2="1921.5" y2="1655.9" stroke-width="2.3"/>
<line x1="494.3" y1="1661.1" x2="1921.5" y2="1661.1" stroke-width="2.2"/>
<path d="M501.3,1222.5 L501.3,1265.1 L542.5,1265.1 Q548,1265.1 548,1259.6 L548,1241.7 Q548,1236.2 553.5,1236.2 L908.2,1236.2 Q913.7,1236.2 913.7,1241.7 L913.7,1259.6 Q913.7,1265.1 919.2,1265.1 L1019.5,1265.1 Q1025,1265.1 1025,1259.6 L1025,1241.7 Q1025,1236.2 1030.5,1236.2 L1384,1236.2 Q1389.5,1236.2 1389.5,1241.7 L1389.5,1259.6 Q1389.5,1265.1 1395,1265.1 L1496.5,1265.1 Q1502,1265.1 1502,1259.6 L1502,1241.7 Q1502,1236.2 1507.5,1236.2 L1862.7,1236.2 Q1868.2,1236.2 1868.2,1241.7 L1868.2,1259.6 Q1868.2,1265.1 1873.7,1265.1 L1914.8,1265.1 L1914.8,1222.5 Z" stroke-width="2.6" fill="#fff"/>
<defs><clipPath id="ct"><rect x="548" y="1236.2" width="365.7" height="16.7" rx="4"/><rect x="1025" y="1236.2" width="364.5" height="16.7" rx="4"/><rect x="1502" y="1236.2" width="366.2" height="16.7" rx="4"/></clipPath></defs>
<path d="M539.2,1234.6 L544.1,1254.5 L549.1,1234.6 L554.1,1254.5 L559,1234.6 L564,1254.5 L568.9,1234.6 L573.9,1254.5 L578.9,1234.6 L583.8,1254.5 L588.8,1234.6 L593.7,1254.5 L598.7,1234.6 L603.7,1254.5 L608.6,1234.6 L613.6,1254.5 L618.5,1234.6 L623.5,1254.5 L628.5,1234.6 L633.4,1254.5 L638.4,1234.6 L643.3,1254.5 L648.3,1234.6 L653.3,1254.5 L658.2,1234.6 L663.2,1254.5 L668.1,1234.6 L673.1,1254.5 L678.1,1234.6 L683,1254.5 L688,1234.6 L692.9,1254.5 L697.9,1234.6 L702.9,1254.5 L707.8,1234.6 L712.8,1254.5 L717.7,1234.6 L722.7,1254.5 L727.7,1234.6 L732.6,1254.5 L737.6,1234.6 L742.5,1254.5 L747.5,1234.6 L752.5,1254.5 L757.4,1234.6 L762.4,1254.5 L767.3,1234.6 L772.3,1254.5 L777.3,1234.6 L782.2,1254.5 L787.2,1234.6 L792.1,1254.5 L797.1,1234.6 L802.1,1254.5 L807,1234.6 L812,1254.5 L816.9,1234.6 L821.9,1254.5 L826.9,1234.6 L831.8,1254.5 L836.8,1234.6 L841.7,1254.5 L846.7,1234.6 L851.7,1254.5 L856.6,1234.6 L861.6,1254.5 L866.5,1234.6 L871.5,1254.5 L876.5,1234.6 L881.4,1254.5 L886.4,1234.6 L891.3,1254.5 L896.3,1234.6 L901.3,1254.5 L906.2,1234.6 L911.2,1254.5 L916.1,1234.6 M1015.3,1234.6 L1020.3,1254.5 L1025.3,1234.6 L1030.2,1254.5 L1035.2,1234.6 L1040.1,1254.5 L1045.1,1234.6 L1050.1,1254.5 L1055,1234.6 L1060,1254.5 L1064.9,1234.6 L1069.9,1254.5 L1074.9,1234.6 L1079.8,1254.5 L1084.8,1234.6 L1089.7,1254.5 L1094.7,1234.6 L1099.7,1254.5 L1104.6,1234.6 L1109.6,1254.5 L1114.5,1234.6 L1119.5,1254.5 L1124.5,1234.6 L1129.4,1254.5 L1134.4,1234.6 L1139.3,1254.5 L1144.3,1234.6 L1149.3,1254.5 L1154.2,1234.6 L1159.2,1254.5 L1164.1,1234.6 L1169.1,1254.5 L1174.1,1234.6 L1179,1254.5 L1184,1234.6 L1188.9,1254.5 L1193.9,1234.6 L1198.9,1254.5 L1203.8,1234.6 L1208.8,1254.5 L1213.7,1234.6 L1218.7,1254.5 L1223.7,1234.6 L1228.6,1254.5 L1233.6,1234.6 L1238.5,1254.5 L1243.5,1234.6 L1248.5,1254.5 L1253.4,1234.6 L1258.4,1254.5 L1263.3,1234.6 L1268.3,1254.5 L1273.3,1234.6 L1278.2,1254.5 L1283.2,1234.6 L1288.1,1254.5 L1293.1,1234.6 L1298.1,1254.5 L1303,1234.6 L1308,1254.5 L1312.9,1234.6 L1317.9,1254.5 L1322.9,1234.6 L1327.8,1254.5 L1332.8,1234.6 L1337.7,1254.5 L1342.7,1234.6 L1347.7,1254.5 L1352.6,1234.6 L1357.6,1254.5 L1362.5,1234.6 L1367.5,1254.5 L1372.5,1234.6 L1377.4,1254.5 L1382.4,1234.6 L1387.3,1254.5 L1392.3,1234.6 M1496.5,1254.5 L1501.4,1234.6 L1506.4,1254.5 L1511.3,1234.6 L1516.3,1254.5 L1521.3,1234.6 L1526.2,1254.5 L1531.2,1234.6 L1536.1,1254.5 L1541.1,1234.6 L1546.1,1254.5 L1551,1234.6 L1556,1254.5 L1560.9,1234.6 L1565.9,1254.5 L1570.9,1234.6 L1575.8,1254.5 L1580.8,1234.6 L1585.7,1254.5 L1590.7,1234.6 L1595.7,1254.5 L1600.6,1234.6 L1605.6,1254.5 L1610.5,1234.6 L1615.5,1254.5 L1620.5,1234.6 L1625.4,1254.5 L1630.4,1234.6 L1635.3,1254.5 L1640.3,1234.6 L1645.3,1254.5 L1650.2,1234.6 L1655.2,1254.5 L1660.1,1234.6 L1665.1,1254.5 L1670.1,1234.6 L1675,1254.5 L1680,1234.6 L1684.9,1254.5 L1689.9,1234.6 L1694.9,1254.5 L1699.8,1234.6 L1704.8,1254.5 L1709.7,1234.6 L1714.7,1254.5 L1719.7,1234.6 L1724.6,1254.5 L1729.6,1234.6 L1734.5,1254.5 L1739.5,1234.6 L1744.5,1254.5 L1749.4,1234.6 L1754.4,1254.5 L1759.3,1234.6 L1764.3,1254.5 L1769.3,1234.6 L1774.2,1254.5 L1779.2,1234.6 L1784.1,1254.5 L1789.1,1234.6 L1794.1,1254.5 L1799,1234.6 L1804,1254.5 L1808.9,1234.6 L1813.9,1254.5 L1818.9,1234.6 L1823.8,1254.5 L1828.8,1234.6 L1833.7,1254.5 L1838.7,1234.6 L1843.7,1254.5 L1848.6,1234.6 L1853.6,1254.5 L1858.5,1234.6 L1863.5,1254.5 L1868.5,1234.6" stroke-width="2.2" stroke-linejoin="bevel" clip-path="url(#ct)"/>
<circle cx="521.4" cy="1248.7" r="5.9" stroke-width="2.5"/>
<path d="M520.2,1244.7 L522.6,1244.7 L522.2,1252.7 L520.6,1252.7 Z" fill="#0a0a0a" stroke="none"/>
<circle cx="939.5" cy="1248.7" r="5.9" stroke-width="2.5"/>
<path d="M938.3,1244.7 L940.7,1244.7 L940.3,1252.7 L938.7,1252.7 Z" fill="#0a0a0a" stroke="none"/>
<circle cx="999.5" cy="1248.7" r="5.9" stroke-width="2.5"/>
<path d="M998.3,1244.7 L1000.7,1244.7 L1000.3,1252.7 L998.7,1252.7 Z" fill="#0a0a0a" stroke="none"/>
<circle cx="1416" cy="1248.7" r="5.9" stroke-width="2.5"/>
<path d="M1414.8,1244.7 L1417.2,1244.7 L1416.8,1252.7 L1415.2,1252.7 Z" fill="#0a0a0a" stroke="none"/>
<circle cx="1476" cy="1248.7" r="5.9" stroke-width="2.5"/>
<path d="M1474.8,1244.7 L1477.2,1244.7 L1476.8,1252.7 L1475.2,1252.7 Z" fill="#0a0a0a" stroke="none"/>
<circle cx="1894" cy="1248.7" r="5.9" stroke-width="2.5"/>
<path d="M1892.8,1244.7 L1895.2,1244.7 L1894.8,1252.7 L1893.2,1252.7 Z" fill="#0a0a0a" stroke="none"/>
<path d="M501.3,1692 L501.3,1649.4 L542.5,1649.4 Q548,1649.4 548,1654.9 L548,1673.2 Q548,1678.7 553.5,1678.7 L908.2,1678.7 Q913.7,1678.7 913.7,1673.2 L913.7,1654.9 Q913.7,1649.4 919.2,1649.4 L1019.5,1649.4 Q1025,1649.4 1025,1654.9 L1025,1673.2 Q1025,1678.7 1030.5,1678.7 L1384,1678.7 Q1389.5,1678.7 1389.5,1673.2 L1389.5,1654.9 Q1389.5,1649.4 1395,1649.4 L1496.5,1649.4 Q1502,1649.4 1502,1654.9 L1502,1673.2 Q1502,1678.7 1507.5,1678.7 L1862.7,1678.7 Q1868.2,1678.7 1868.2,1673.2 L1868.2,1654.9 Q1868.2,1649.4 1873.7,1649.4 L1914.8,1649.4 L1914.8,1692 Z" stroke-width="2.6" fill="#fff"/>
<defs><clipPath id="cb"><rect x="548" y="1661.1" width="365.7" height="17.6" rx="4"/><rect x="1025" y="1661.1" width="364.5" height="17.6" rx="4"/><rect x="1502" y="1661.1" width="366.2" height="17.6" rx="4"/></clipPath></defs>
<path d="M539.2,1659.5 L544.1,1680.3 L549.1,1659.5 L554.1,1680.3 L559,1659.5 L564,1680.3 L568.9,1659.5 L573.9,1680.3 L578.9,1659.5 L583.8,1680.3 L588.8,1659.5 L593.7,1680.3 L598.7,1659.5 L603.7,1680.3 L608.6,1659.5 L613.6,1680.3 L618.5,1659.5 L623.5,1680.3 L628.5,1659.5 L633.4,1680.3 L638.4,1659.5 L643.3,1680.3 L648.3,1659.5 L653.3,1680.3 L658.2,1659.5 L663.2,1680.3 L668.1,1659.5 L673.1,1680.3 L678.1,1659.5 L683,1680.3 L688,1659.5 L692.9,1680.3 L697.9,1659.5 L702.9,1680.3 L707.8,1659.5 L712.8,1680.3 L717.7,1659.5 L722.7,1680.3 L727.7,1659.5 L732.6,1680.3 L737.6,1659.5 L742.5,1680.3 L747.5,1659.5 L752.5,1680.3 L757.4,1659.5 L762.4,1680.3 L767.3,1659.5 L772.3,1680.3 L777.3,1659.5 L782.2,1680.3 L787.2,1659.5 L792.1,1680.3 L797.1,1659.5 L802.1,1680.3 L807,1659.5 L812,1680.3 L816.9,1659.5 L821.9,1680.3 L826.9,1659.5 L831.8,1680.3 L836.8,1659.5 L841.7,1680.3 L846.7,1659.5 L851.7,1680.3 L856.6,1659.5 L861.6,1680.3 L866.5,1659.5 L871.5,1680.3 L876.5,1659.5 L881.4,1680.3 L886.4,1659.5 L891.3,1680.3 L896.3,1659.5 L901.3,1680.3 L906.2,1659.5 L911.2,1680.3 L916.1,1659.5 M1015.3,1659.5 L1020.3,1680.3 L1025.3,1659.5 L1030.2,1680.3 L1035.2,1659.5 L1040.1,1680.3 L1045.1,1659.5 L1050.1,1680.3 L1055,1659.5 L1060,1680.3 L1064.9,1659.5 L1069.9,1680.3 L1074.9,1659.5 L1079.8,1680.3 L1084.8,1659.5 L1089.7,1680.3 L1094.7,1659.5 L1099.7,1680.3 L1104.6,1659.5 L1109.6,1680.3 L1114.5,1659.5 L1119.5,1680.3 L1124.5,1659.5 L1129.4,1680.3 L1134.4,1659.5 L1139.3,1680.3 L1144.3,1659.5 L1149.3,1680.3 L1154.2,1659.5 L1159.2,1680.3 L1164.1,1659.5 L1169.1,1680.3 L1174.1,1659.5 L1179,1680.3 L1184,1659.5 L1188.9,1680.3 L1193.9,1659.5 L1198.9,1680.3 L1203.8,1659.5 L1208.8,1680.3 L1213.7,1659.5 L1218.7,1680.3 L1223.7,1659.5 L1228.6,1680.3 L1233.6,1659.5 L1238.5,1680.3 L1243.5,1659.5 L1248.5,1680.3 L1253.4,1659.5 L1258.4,1680.3 L1263.3,1659.5 L1268.3,1680.3 L1273.3,1659.5 L1278.2,1680.3 L1283.2,1659.5 L1288.1,1680.3 L1293.1,1659.5 L1298.1,1680.3 L1303,1659.5 L1308,1680.3 L1312.9,1659.5 L1317.9,1680.3 L1322.9,1659.5 L1327.8,1680.3 L1332.8,1659.5 L1337.7,1680.3 L1342.7,1659.5 L1347.7,1680.3 L1352.6,1659.5 L1357.6,1680.3 L1362.5,1659.5 L1367.5,1680.3 L1372.5,1659.5 L1377.4,1680.3 L1382.4,1659.5 L1387.3,1680.3 L1392.3,1659.5 M1496.5,1680.3 L1501.4,1659.5 L1506.4,1680.3 L1511.3,1659.5 L1516.3,1680.3 L1521.3,1659.5 L1526.2,1680.3 L1531.2,1659.5 L1536.1,1680.3 L1541.1,1659.5 L1546.1,1680.3 L1551,1659.5 L1556,1680.3 L1560.9,1659.5 L1565.9,1680.3 L1570.9,1659.5 L1575.8,1680.3 L1580.8,1659.5 L1585.7,1680.3 L1590.7,1659.5 L1595.7,1680.3 L1600.6,1659.5 L1605.6,1680.3 L1610.5,1659.5 L1615.5,1680.3 L1620.5,1659.5 L1625.4,1680.3 L1630.4,1659.5 L1635.3,1680.3 L1640.3,1659.5 L1645.3,1680.3 L1650.2,1659.5 L1655.2,1680.3 L1660.1,1659.5 L1665.1,1680.3 L1670.1,1659.5 L1675,1680.3 L1680,1659.5 L1684.9,1680.3 L1689.9,1659.5 L1694.9,1680.3 L1699.8,1659.5 L1704.8,1680.3 L1709.7,1659.5 L1714.7,1680.3 L1719.7,1659.5 L1724.6,1680.3 L1729.6,1659.5 L1734.5,1680.3 L1739.5,1659.5 L1744.5,1680.3 L1749.4,1659.5 L1754.4,1680.3 L1759.3,1659.5 L1764.3,1680.3 L1769.3,1659.5 L1774.2,1680.3 L1779.2,1659.5 L1784.1,1680.3 L1789.1,1659.5 L1794.1,1680.3 L1799,1659.5 L1804,1680.3 L1808.9,1659.5 L1813.9,1680.3 L1818.9,1659.5 L1823.8,1680.3 L1828.8,1659.5 L1833.7,1680.3 L1838.7,1659.5 L1843.7,1680.3 L1848.6,1659.5 L1853.6,1680.3 L1858.5,1659.5 L1863.5,1680.3 L1868.5,1659.5" stroke-width="2.2" stroke-linejoin="bevel" clip-path="url(#cb)"/>
<circle cx="521.4" cy="1665.7" r="5.9" stroke-width="2.5"/>
<path d="M520.2,1661.7 L522.6,1661.7 L522.2,1669.7 L520.6,1669.7 Z" fill="#0a0a0a" stroke="none"/>
<circle cx="939.5" cy="1665.7" r="5.9" stroke-width="2.5"/>
<path d="M938.3,1661.7 L940.7,1661.7 L940.3,1669.7 L938.7,1669.7 Z" fill="#0a0a0a" stroke="none"/>
<circle cx="999.5" cy="1665.7" r="5.9" stroke-width="2.5"/>
<path d="M998.3,1661.7 L1000.7,1661.7 L1000.3,1669.7 L998.7,1669.7 Z" fill="#0a0a0a" stroke="none"/>
<circle cx="1416" cy="1665.7" r="5.9" stroke-width="2.5"/>
<path d="M1414.8,1661.7 L1417.2,1661.7 L1416.8,1669.7 L1415.2,1669.7 Z" fill="#0a0a0a" stroke="none"/>
<circle cx="1476" cy="1665.7" r="5.9" stroke-width="2.5"/>
<path d="M1474.8,1661.7 L1477.2,1661.7 L1476.8,1669.7 L1475.2,1669.7 Z" fill="#0a0a0a" stroke="none"/>
<circle cx="1894" cy="1665.7" r="5.9" stroke-width="2.5"/>
<path d="M1892.8,1661.7 L1895.2,1661.7 L1894.8,1669.7 L1893.2,1669.7 Z" fill="#0a0a0a" stroke="none"/>
<line x1="548" y1="1252.9" x2="913.7" y2="1252.9" stroke-width="2.4"/>
<line x1="548" y1="1258.1" x2="913.7" y2="1258.1" stroke-width="2.2"/>
<line x1="548" y1="1655.9" x2="913.7" y2="1655.9" stroke-width="2.2"/>
<line x1="548" y1="1661.1" x2="913.7" y2="1661.1" stroke-width="2.4"/>
<line x1="1025" y1="1252.9" x2="1389.5" y2="1252.9" stroke-width="2.4"/>
<line x1="1025" y1="1258.1" x2="1389.5" y2="1258.1" stroke-width="2.2"/>
<line x1="1025" y1="1655.9" x2="1389.5" y2="1655.9" stroke-width="2.2"/>
<line x1="1025" y1="1661.1" x2="1389.5" y2="1661.1" stroke-width="2.4"/>
<line x1="1502" y1="1252.9" x2="1868.2" y2="1252.9" stroke-width="2.4"/>
<line x1="1502" y1="1258.1" x2="1868.2" y2="1258.1" stroke-width="2.2"/>
<line x1="1502" y1="1655.9" x2="1868.2" y2="1655.9" stroke-width="2.2"/>
<line x1="1502" y1="1661.1" x2="1868.2" y2="1661.1" stroke-width="2.4"/>
<circle cx="456.6" cy="1407.8" r="35" stroke-width="0" fill="#fff"/>
<rect x="490.8" y="1404.2" width="4.2" height="7.2" rx="1" stroke-width="2.2" fill="#fff" transform="rotate(5.6 456.6 1407.8)"/>
<rect x="490.8" y="1404.2" width="4.2" height="7.2" rx="1" stroke-width="2.2" fill="#fff" transform="rotate(28.1 456.6 1407.8)"/>
<rect x="490.8" y="1404.2" width="4.2" height="7.2" rx="1" stroke-width="2.2" fill="#fff" transform="rotate(50.6 456.6 1407.8)"/>
<rect x="490.8" y="1404.2" width="4.2" height="7.2" rx="1" stroke-width="2.2" fill="#fff" transform="rotate(73.1 456.6 1407.8)"/>
<rect x="490.8" y="1404.2" width="4.2" height="7.2" rx="1" stroke-width="2.2" fill="#fff" transform="rotate(95.6 456.6 1407.8)"/>
<rect x="490.8" y="1404.2" width="4.2" height="7.2" rx="1" stroke-width="2.2" fill="#fff" transform="rotate(118.1 456.6 1407.8)"/>
<rect x="490.8" y="1404.2" width="4.2" height="7.2" rx="1" stroke-width="2.2" fill="#fff" transform="rotate(140.6 456.6 1407.8)"/>
<rect x="490.8" y="1404.2" width="4.2" height="7.2" rx="1" stroke-width="2.2" fill="#fff" transform="rotate(163.1 456.6 1407.8)"/>
<rect x="490.8" y="1404.2" width="4.2" height="7.2" rx="1" stroke-width="2.2" fill="#fff" transform="rotate(185.6 456.6 1407.8)"/>
<rect x="490.8" y="1404.2" width="4.2" height="7.2" rx="1" stroke-width="2.2" fill="#fff" transform="rotate(208.1 456.6 1407.8)"/>
<rect x="490.8" y="1404.2" width="4.2" height="7.2" rx="1" stroke-width="2.2" fill="#fff" transform="rotate(230.6 456.6 1407.8)"/>
<rect x="490.8" y="1404.2" width="4.2" height="7.2" rx="1" stroke-width="2.2" fill="#fff" transform="rotate(253.1 456.6 1407.8)"/>
<rect x="490.8" y="1404.2" width="4.2" height="7.2" rx="1" stroke-width="2.2" fill="#fff" transform="rotate(275.6 456.6 1407.8)"/>
<rect x="490.8" y="1404.2" width="4.2" height="7.2" rx="1" stroke-width="2.2" fill="#fff" transform="rotate(298.1 456.6 1407.8)"/>
<rect x="490.8" y="1404.2" width="4.2" height="7.2" rx="1" stroke-width="2.2" fill="#fff" transform="rotate(320.6 456.6 1407.8)"/>
<rect x="490.8" y="1404.2" width="4.2" height="7.2" rx="1" stroke-width="2.2" fill="#fff" transform="rotate(343.1 456.6 1407.8)"/>
<circle cx="456.6" cy="1407.8" r="34.4" stroke-width="1.8" fill="#fff"/>
<circle cx="456.6" cy="1407.8" r="32.6" stroke-width="3.0"/>
<circle cx="456.6" cy="1407.8" r="25" stroke-width="2.4"/>
<circle cx="456.6" cy="1407.8" r="15.4" stroke-width="3.4"/>
<line x1="456.6" y1="1390.8" x2="456.6" y2="1380.8" stroke-width="5.2" stroke-linecap="butt"/>
<line x1="456.6" y1="1389.8" x2="456.6" y2="1381.8" stroke="#fff" stroke-width="1.6" stroke-linecap="butt"/>
<line x1="471.3" y1="1399.3" x2="480" y2="1394.3" stroke-width="5.2" stroke-linecap="butt"/>
<line x1="472.2" y1="1398.8" x2="479.1" y2="1394.8" stroke="#fff" stroke-width="1.6" stroke-linecap="butt"/>
<line x1="471.3" y1="1416.3" x2="480" y2="1421.3" stroke-width="5.2" stroke-linecap="butt"/>
<line x1="472.2" y1="1416.8" x2="479.1" y2="1420.8" stroke="#fff" stroke-width="1.6" stroke-linecap="butt"/>
<line x1="441.9" y1="1416.3" x2="433.2" y2="1421.3" stroke-width="5.2" stroke-linecap="butt"/>
<line x1="441" y1="1416.8" x2="434.1" y2="1420.8" stroke="#fff" stroke-width="1.6" stroke-linecap="butt"/>
<line x1="441.9" y1="1399.3" x2="433.2" y2="1394.3" stroke-width="5.2" stroke-linecap="butt"/>
<line x1="441" y1="1398.8" x2="434.1" y2="1394.8" stroke="#fff" stroke-width="1.6" stroke-linecap="butt"/>
<circle cx="456.6" cy="1506.6" r="35" stroke-width="0" fill="#fff"/>
<rect x="490.8" y="1503" width="4.2" height="7.2" rx="1" stroke-width="2.2" fill="#fff" transform="rotate(5.6 456.6 1506.6)"/>
<rect x="490.8" y="1503" width="4.2" height="7.2" rx="1" stroke-width="2.2" fill="#fff" transform="rotate(28.1 456.6 1506.6)"/>
<rect x="490.8" y="1503" width="4.2" height="7.2" rx="1" stroke-width="2.2" fill="#fff" transform="rotate(50.6 456.6 1506.6)"/>
<rect x="490.8" y="1503" width="4.2" height="7.2" rx="1" stroke-width="2.2" fill="#fff" transform="rotate(73.1 456.6 1506.6)"/>
<rect x="490.8" y="1503" width="4.2" height="7.2" rx="1" stroke-width="2.2" fill="#fff" transform="rotate(95.6 456.6 1506.6)"/>
<rect x="490.8" y="1503" width="4.2" height="7.2" rx="1" stroke-width="2.2" fill="#fff" transform="rotate(118.1 456.6 1506.6)"/>
<rect x="490.8" y="1503" width="4.2" height="7.2" rx="1" stroke-width="2.2" fill="#fff" transform="rotate(140.6 456.6 1506.6)"/>
<rect x="490.8" y="1503" width="4.2" height="7.2" rx="1" stroke-width="2.2" fill="#fff" transform="rotate(163.1 456.6 1506.6)"/>
<rect x="490.8" y="1503" width="4.2" height="7.2" rx="1" stroke-width="2.2" fill="#fff" transform="rotate(185.6 456.6 1506.6)"/>
<rect x="490.8" y="1503" width="4.2" height="7.2" rx="1" stroke-width="2.2" fill="#fff" transform="rotate(208.1 456.6 1506.6)"/>
<rect x="490.8" y="1503" width="4.2" height="7.2" rx="1" stroke-width="2.2" fill="#fff" transform="rotate(230.6 456.6 1506.6)"/>
<rect x="490.8" y="1503" width="4.2" height="7.2" rx="1" stroke-width="2.2" fill="#fff" transform="rotate(253.1 456.6 1506.6)"/>
<rect x="490.8" y="1503" width="4.2" height="7.2" rx="1" stroke-width="2.2" fill="#fff" transform="rotate(275.6 456.6 1506.6)"/>
<rect x="490.8" y="1503" width="4.2" height="7.2" rx="1" stroke-width="2.2" fill="#fff" transform="rotate(298.1 456.6 1506.6)"/>
<rect x="490.8" y="1503" width="4.2" height="7.2" rx="1" stroke-width="2.2" fill="#fff" transform="rotate(320.6 456.6 1506.6)"/>
<rect x="490.8" y="1503" width="4.2" height="7.2" rx="1" stroke-width="2.2" fill="#fff" transform="rotate(343.1 456.6 1506.6)"/>
<circle cx="456.6" cy="1506.6" r="34.4" stroke-width="1.8" fill="#fff"/>
<circle cx="456.6" cy="1506.6" r="32.6" stroke-width="3.0"/>
<circle cx="456.6" cy="1506.6" r="25" stroke-width="2.4"/>
<circle cx="456.6" cy="1506.6" r="15.4" stroke-width="3.4"/>
<line x1="456.6" y1="1489.6" x2="456.6" y2="1479.6" stroke-width="5.2" stroke-linecap="butt"/>
<line x1="456.6" y1="1488.6" x2="456.6" y2="1480.6" stroke="#fff" stroke-width="1.6" stroke-linecap="butt"/>
<line x1="471.3" y1="1498.1" x2="480" y2="1493.1" stroke-width="5.2" stroke-linecap="butt"/>
<line x1="472.2" y1="1497.6" x2="479.1" y2="1493.6" stroke="#fff" stroke-width="1.6" stroke-linecap="butt"/>
<line x1="471.3" y1="1515.1" x2="480" y2="1520.1" stroke-width="5.2" stroke-linecap="butt"/>
<line x1="472.2" y1="1515.6" x2="479.1" y2="1519.6" stroke="#fff" stroke-width="1.6" stroke-linecap="butt"/>
<line x1="441.9" y1="1515.1" x2="433.2" y2="1520.1" stroke-width="5.2" stroke-linecap="butt"/>
<line x1="441" y1="1515.6" x2="434.1" y2="1519.6" stroke="#fff" stroke-width="1.6" stroke-linecap="butt"/>
<line x1="441.9" y1="1498.1" x2="433.2" y2="1493.1" stroke-width="5.2" stroke-linecap="butt"/>
<line x1="441" y1="1497.6" x2="434.1" y2="1493.6" stroke="#fff" stroke-width="1.6" stroke-linecap="butt"/>
</g>
<g id="pumptop">
<path d="M1830,58 C1862,60 1880,72 1888,95 L1893,104 C1905,150 1910,200 1908,245 C1906,285 1900,320 1890,340 C1880,365 1862,375 1832,376" stroke-width="2.6"/>
<path d="M1845,64 C1870,70 1884,86 1888,100" stroke-width="1.8"/>
<path d="M1889,104 C1900,150 1904,200 1902,245 C1900,290 1894,320 1886,338" stroke-width="1.8"/>
<path d="M1888,85 L1960,90 M1891,100 L1968,103" stroke-width="2.2"/>
<path d="M1892,279.6 L1960,282 M1890,266 L1968,268" stroke-width="2.2"/>
<rect x="1895" y="96" width="92.8" height="183.6" stroke-width="2.3"/>
<line x1="1895" y1="184" x2="1977" y2="184" stroke-width="2.2"/>
<line x1="1895" y1="191" x2="1977" y2="191" stroke-width="2.2"/>
<line x1="1977" y1="175" x2="1977" y2="200" stroke-width="2.2"/>
<circle cx="1707.5" cy="216.9" r="200.5" stroke-width="2.7" fill="#fff"/>
<circle cx="1707.5" cy="216.9" r="197.3" stroke-width="1.5"/>
<circle cx="1707.5" cy="216.9" r="194.5" stroke-width="2.6"/>
<circle cx="1707.5" cy="216.9" r="168.5" stroke-width="2.6"/>
<circle cx="1707.5" cy="216.9" r="162.5" stroke-width="2.5"/>
<path d="M1616.5,220.5 L1544.5,220.5 M1616.5,217.2 L1544.5,217.2 M1616.5,210.3 L1544.5,210.3 M1618.1,199.4 L1548.1,182.8 M1618.9,196.2 L1548.8,179.6 M1620.5,189.5 L1550.4,172.9 M1624.6,179.3 L1560.2,147 M1626,176.3 L1561.7,144 M1629.1,170.2 L1564.8,137.8 M1635.5,161.2 L1580.3,114.9 M1637.6,158.6 L1582.4,112.4 M1642,153.4 L1586.9,107.1 M1650.3,146.1 L1607.3,88.3 M1652.9,144.1 L1609.9,86.3 M1658.5,140 L1615.5,82.2 M1668.2,134.8 L1639.6,68.7 M1671.2,133.5 L1642.7,67.3 M1677.5,130.7 L1649,64.6 M1688.2,127.9 L1675.7,57 M1691.4,127.3 L1678.9,56.4 M1698.2,126.1 L1685.7,55.2 M1709.2,125.8 L1713.4,54 M1712.5,126 L1716.7,54.2 M1719.4,126.4 L1723.6,54.6 M1730.2,128.7 L1750.8,59.7 M1733.3,129.6 L1754,60.7 M1739.9,131.6 L1760.6,62.6 M1749.9,136.3 L1785.9,73.9 M1752.7,137.9 L1788.7,75.6 M1758.7,141.4 L1794.7,79 M1767.3,148.2 L1816.7,95.9 M1769.7,150.5 L1819.1,98.1 M1774.7,155.2 L1824.2,102.9 M1781.6,163.9 L1841.7,124.3 M1783.4,166.6 L1843.5,127.1 M1787.2,172.4 L1847.3,132.8 M1791.8,182.4 L1859.4,157.8 M1792.9,185.5 L1860.6,160.9 M1795.3,192 L1862.9,167.4 M1797.5,202.8 L1869,194.4 M1797.8,206 L1869.4,197.7 M1798.7,212.9 L1870.2,204.5 M1798.3,223.9 L1869.8,232.2 M1797.9,227.2 L1869.4,235.5 M1797.1,234 L1868.6,242.4 M1794.2,244.6 L1861.9,269.3 M1793.1,247.7 L1860.8,272.4 M1790.8,254.2 L1858.4,278.9 M1785.5,263.9 L1845.7,303.5 M1783.7,266.7 L1843.8,306.2 M1779.9,272.4 L1840.1,312 M1772.6,280.6 L1822,333 M1770.2,282.9 L1819.6,335.3 M1765.1,287.6 L1814.6,340 M1756.1,293.9 L1792.1,356.3 M1753.3,295.6 L1789.3,357.9 M1747.3,299 L1783.3,361.4 M1737,303 L1757.7,372 M1733.9,304 L1754.5,373 M1727.3,306 L1747.9,374.9 M1716.4,307.5 L1720.6,379.4 M1713.1,307.7 L1717.3,379.6 M1706.2,308.1 L1710.4,380 M1695.2,307.1 L1682.7,378 M1692,306.6 L1679.5,377.5 M1685.2,305.4 L1672.7,376.3 M1674.8,301.9 L1646.2,368 M1671.7,300.6 L1643.2,366.7 M1665.4,297.8 L1636.9,364 M1656,292 L1613.1,349.8 M1653.4,290.1 L1610.4,347.8 M1647.9,286 L1604.9,343.7 M1640.1,278.2 L1584.9,324.4 M1638,275.6 L1582.8,321.9 M1633.5,270.3 L1578.4,316.6 M1627.8,261 L1563.5,293.3 M1626.3,258 L1562,290.3 M1623.2,251.8 L1558.9,284.2 M1619.8,241.4 L1549.7,258 M1619,238.2 L1549,254.8 M1617.4,231.5 L1547.4,248.1" stroke-width="2.4"/>
<path d="M1603.5,215.4 L1595.5,211.9 M1581.5,215.4 L1573.5,211.9 M1606.6,191.5 L1599.7,186.2 M1585.2,186.4 L1578.3,181.1 M1615.2,168.9 L1609.7,162.2 M1595.6,159 L1590,152.3 M1628.8,148.9 L1624.9,141.1 M1611.9,134.8 L1608.1,126.9 M1646.6,132.6 L1644.6,124.1 M1633.5,114.9 L1631.5,106.4 M1667.7,120.8 L1667.7,112.1 M1659,100.6 L1659,91.9 M1690.9,114.2 L1693,105.7 M1687.1,92.6 L1689.2,84.1 M1715,113.2 L1719,105.4 M1716.3,91.2 L1720.3,83.4 M1738.8,117.7 L1744.4,111 M1745.1,96.6 L1750.7,90 M1760.8,127.6 L1767.8,122.4 M1771.8,108.5 L1778.8,103.4 M1780,142.3 L1788,138.9 M1795.1,126.3 L1803.1,122.9 M1795.2,161 L1803.8,159.5 M1813.6,148.9 L1822.2,147.4 M1805.7,182.7 L1814.5,183.3 M1826.4,175.2 L1835.1,175.8 M1811,206.3 L1819.3,208.9 M1832.8,203.8 L1841.2,206.3 M1810.6,230.5 L1818.2,234.9 M1832.5,233 L1840,237.4 M1804.7,253.9 L1811,259.9 M1825.4,261.4 L1831.7,267.4 M1793.6,275.3 L1798.3,282.6 M1811.9,287.4 L1816.7,294.7 M1777.8,293.6 L1780.7,301.8 M1792.9,309.6 L1795.8,317.8 M1758.2,307.7 L1759.2,316.4 M1769.2,326.8 L1770.2,335.4 M1735.9,317 L1734.8,325.6 M1742.2,338 L1741.1,346.7 M1712,320.8 L1709,329 M1713.3,342.8 L1710.3,351 M1688,319.1 L1683.1,326.3 M1684.1,340.7 L1679.3,348 M1664.9,311.8 L1658.5,317.8 M1656.2,332 L1649.8,338 M1644.2,299.4 L1636.6,303.8 M1631.1,317.1 L1623.5,321.4 M1626.9,282.6 L1618.5,285.1 M1610,296.7 L1601.6,299.2 M1613.9,262.2 L1605.2,262.7 M1594.2,272.1 L1585.5,272.6 M1606,239.4 L1597.4,237.9 M1584.6,244.5 L1576,242.9" stroke-width="1.6"/>
<circle cx="1707.5" cy="216.9" r="92" stroke-width="2.7" fill="#fff"/>
<path d="M1662.7,217.1 L1728.5,177.7 L1728.5,189.2 C1720,196 1715,205 1714.2,216 C1713.5,225 1713,230 1711,235.6 L1680.5,217.1 L1704,203.8 C1707,211 1712,217 1716,222 C1723,231 1728,242 1728.5,257.2 Z" stroke-width="2.2"/>
<text x="0" y="0" transform="translate(1751.5,256.5) rotate(-90) scale(0.80,1)" font-size="27" font-weight="bold" style="fill:#fff;stroke:#111;stroke-width:2.7px;letter-spacing:-0.5px">ARCTIC</text>
<rect x="1991.8" y="127.5" width="5" height="8" rx="1.2" stroke-width="2.2" fill="#fff" transform="rotate(0 1953.3 131.5)"/>
<rect x="1991.8" y="127.5" width="5" height="8" rx="1.2" stroke-width="2.2" fill="#fff" transform="rotate(20 1953.3 131.5)"/>
<rect x="1991.8" y="127.5" width="5" height="8" rx="1.2" stroke-width="2.2" fill="#fff" transform="rotate(40 1953.3 131.5)"/>
<rect x="1991.8" y="127.5" width="5" height="8" rx="1.2" stroke-width="2.2" fill="#fff" transform="rotate(60 1953.3 131.5)"/>
<rect x="1991.8" y="127.5" width="5" height="8" rx="1.2" stroke-width="2.2" fill="#fff" transform="rotate(80 1953.3 131.5)"/>
<rect x="1991.8" y="127.5" width="5" height="8" rx="1.2" stroke-width="2.2" fill="#fff" transform="rotate(100 1953.3 131.5)"/>
<rect x="1991.8" y="127.5" width="5" height="8" rx="1.2" stroke-width="2.2" fill="#fff" transform="rotate(120 1953.3 131.5)"/>
<rect x="1991.8" y="127.5" width="5" height="8" rx="1.2" stroke-width="2.2" fill="#fff" transform="rotate(140 1953.3 131.5)"/>
<rect x="1991.8" y="127.5" width="5" height="8" rx="1.2" stroke-width="2.2" fill="#fff" transform="rotate(160 1953.3 131.5)"/>
<rect x="1991.8" y="127.5" width="5" height="8" rx="1.2" stroke-width="2.2" fill="#fff" transform="rotate(180 1953.3 131.5)"/>
<rect x="1991.8" y="127.5" width="5" height="8" rx="1.2" stroke-width="2.2" fill="#fff" transform="rotate(200 1953.3 131.5)"/>
<rect x="1991.8" y="127.5" width="5" height="8" rx="1.2" stroke-width="2.2" fill="#fff" transform="rotate(220 1953.3 131.5)"/>
<rect x="1991.8" y="127.5" width="5" height="8" rx="1.2" stroke-width="2.2" fill="#fff" transform="rotate(240 1953.3 131.5)"/>
<rect x="1991.8" y="127.5" width="5" height="8" rx="1.2" stroke-width="2.2" fill="#fff" transform="rotate(260 1953.3 131.5)"/>
<rect x="1991.8" y="127.5" width="5" height="8" rx="1.2" stroke-width="2.2" fill="#fff" transform="rotate(280 1953.3 131.5)"/>
<rect x="1991.8" y="127.5" width="5" height="8" rx="1.2" stroke-width="2.2" fill="#fff" transform="rotate(300 1953.3 131.5)"/>
<rect x="1991.8" y="127.5" width="5" height="8" rx="1.2" stroke-width="2.2" fill="#fff" transform="rotate(320 1953.3 131.5)"/>
<rect x="1991.8" y="127.5" width="5" height="8" rx="1.2" stroke-width="2.2" fill="#fff" transform="rotate(340 1953.3 131.5)"/>
<circle cx="1953.3" cy="131.5" r="40" stroke-width="2.6" fill="#fff"/>
<circle cx="1953.3" cy="131.5" r="37.5" stroke-width="1.6"/>
<circle cx="1953.3" cy="131.5" r="30" stroke-width="2.6"/>
<circle cx="1953.3" cy="131.5" r="24.5" stroke-width="2.3"/>
<circle cx="1953.3" cy="131.5" r="11.5" stroke-width="2.8"/>
<line x1="1953.3" y1="120" x2="1953.3" y2="143" stroke-width="2.4"/>
<line x1="1941.8" y1="131.5" x2="1953.3" y2="131.5" stroke-width="2.4"/>
<line x1="1957.6" y1="107.4" x2="1958.5" y2="102" stroke-width="2.0"/>
<line x1="1949" y1="155.6" x2="1948.1" y2="161" stroke-width="2.0"/>
<rect x="1991.8" y="233.2" width="5" height="8" rx="1.2" stroke-width="2.2" fill="#fff" transform="rotate(0 1953.3 237.2)"/>
<rect x="1991.8" y="233.2" width="5" height="8" rx="1.2" stroke-width="2.2" fill="#fff" transform="rotate(20 1953.3 237.2)"/>
<rect x="1991.8" y="233.2" width="5" height="8" rx="1.2" stroke-width="2.2" fill="#fff" transform="rotate(40 1953.3 237.2)"/>
<rect x="1991.8" y="233.2" width="5" height="8" rx="1.2" stroke-width="2.2" fill="#fff" transform="rotate(60 1953.3 237.2)"/>
<rect x="1991.8" y="233.2" width="5" height="8" rx="1.2" stroke-width="2.2" fill="#fff" transform="rotate(80 1953.3 237.2)"/>
<rect x="1991.8" y="233.2" width="5" height="8" rx="1.2" stroke-width="2.2" fill="#fff" transform="rotate(100 1953.3 237.2)"/>
<rect x="1991.8" y="233.2" width="5" height="8" rx="1.2" stroke-width="2.2" fill="#fff" transform="rotate(120 1953.3 237.2)"/>
<rect x="1991.8" y="233.2" width="5" height="8" rx="1.2" stroke-width="2.2" fill="#fff" transform="rotate(140 1953.3 237.2)"/>
<rect x="1991.8" y="233.2" width="5" height="8" rx="1.2" stroke-width="2.2" fill="#fff" transform="rotate(160 1953.3 237.2)"/>
<rect x="1991.8" y="233.2" width="5" height="8" rx="1.2" stroke-width="2.2" fill="#fff" transform="rotate(180 1953.3 237.2)"/>
<rect x="1991.8" y="233.2" width="5" height="8" rx="1.2" stroke-width="2.2" fill="#fff" transform="rotate(200 1953.3 237.2)"/>
<rect x="1991.8" y="233.2" width="5" height="8" rx="1.2" stroke-width="2.2" fill="#fff" transform="rotate(220 1953.3 237.2)"/>
<rect x="1991.8" y="233.2" width="5" height="8" rx="1.2" stroke-width="2.2" fill="#fff" transform="rotate(240 1953.3 237.2)"/>
<rect x="1991.8" y="233.2" width="5" height="8" rx="1.2" stroke-width="2.2" fill="#fff" transform="rotate(260 1953.3 237.2)"/>
<rect x="1991.8" y="233.2" width="5" height="8" rx="1.2" stroke-width="2.2" fill="#fff" transform="rotate(280 1953.3 237.2)"/>
<rect x="1991.8" y="233.2" width="5" height="8" rx="1.2" stroke-width="2.2" fill="#fff" transform="rotate(300 1953.3 237.2)"/>
<rect x="1991.8" y="233.2" width="5" height="8" rx="1.2" stroke-width="2.2" fill="#fff" transform="rotate(320 1953.3 237.2)"/>
<rect x="1991.8" y="233.2" width="5" height="8" rx="1.2" stroke-width="2.2" fill="#fff" transform="rotate(340 1953.3 237.2)"/>
<circle cx="1953.3" cy="237.2" r="40" stroke-width="2.6" fill="#fff"/>
<circle cx="1953.3" cy="237.2" r="37.5" stroke-width="1.6"/>
<circle cx="1953.3" cy="237.2" r="30" stroke-width="2.6"/>
<circle cx="1953.3" cy="237.2" r="24.5" stroke-width="2.3"/>
<circle cx="1953.3" cy="237.2" r="11.5" stroke-width="2.8"/>
<line x1="1953.3" y1="225.7" x2="1953.3" y2="248.7" stroke-width="2.4"/>
<line x1="1941.8" y1="237.2" x2="1953.3" y2="237.2" stroke-width="2.4"/>
<line x1="1957.6" y1="213.1" x2="1958.5" y2="207.7" stroke-width="2.0"/>
<line x1="1949" y1="261.3" x2="1948.1" y2="266.7" stroke-width="2.0"/>
</g>
<g id="pumpside">
<rect x="1929" y="405.4" width="49.7" height="63" stroke-width="2.5"/>
<line x1="1958.1" y1="405.4" x2="1958.1" y2="468.4" stroke-width="2.3"/>
<rect x="1909" y="468.4" width="89" height="41.7" rx="5" fill="#111" stroke="none"/>
<rect x="1919.5" y="476.2" width="5" height="29.1" fill="#fff" stroke="none"/>
<path d="M1920.5,471.5 L1923.5,471.5 L1922.5,474.5 L1921.5,474.5 Z" fill="#fff" stroke="none"/>
<rect x="1930" y="476.2" width="9" height="29.1" fill="#fff" stroke="none"/>
<path d="M1931,471.5 L1938,471.5 L1937,474.5 L1932,474.5 Z" fill="#fff" stroke="none"/>
<rect x="1945" y="476.2" width="9.5" height="29.1" fill="#fff" stroke="none"/>
<path d="M1946,471.5 L1953.5,471.5 L1952.5,474.5 L1947,474.5 Z" fill="#fff" stroke="none"/>
<rect x="1960" y="476.2" width="9" height="29.1" fill="#fff" stroke="none"/>
<path d="M1961,471.5 L1968,471.5 L1967,474.5 L1962,474.5 Z" fill="#fff" stroke="none"/>
<rect x="1975" y="476.2" width="9" height="29.1" fill="#fff" stroke="none"/>
<path d="M1976,471.5 L1983,471.5 L1982,474.5 L1977,474.5 Z" fill="#fff" stroke="none"/>
<rect x="1989.5" y="476.2" width="4" height="29.1" fill="#fff" stroke="none"/>
<path d="M1990.5,471.5 L1992.5,471.5 L1991.5,474.5 L1991.5,474.5 Z" fill="#fff" stroke="none"/>
<path d="M1912.7,510.1 L1912.7,536.7 L1994.4,536.7 L1994.4,510.1" stroke-width="2.4"/>
<line x1="1912.7" y1="539.2" x2="1994.4" y2="539.2" stroke-width="2.0"/>
<path d="M1914,539.2 Q1918,541 1918.2,545 L1921.8,553.7 L1983.5,553.7 L1987.1,545 Q1988,541 1993,539.2" stroke-width="2.4"/>
<line x1="1921.8" y1="553.7" x2="1983.5" y2="553.7" stroke-width="3.2"/>
<line x1="1971.4" y1="539.2" x2="1970" y2="552" stroke-width="2.0"/>
<path d="M1933.3,556 L1933.3,577 M1973.8,556 L1973.8,572 M1953.2,556 L1953.2,592" stroke-width="2.3"/>
<path d="M1930.3,579.1 Q1935,592 1953.2,594 Q1972,592 1977.4,579.1" stroke-width="2.6"/>
<path d="M1928,583 Q1934,598 1953.2,600 Q1974,598 1980,583" stroke-width="2.2"/>
<path d="M1977.4,570.6 L1985,571 Q1987.1,572 1987.1,576 L1987.1,641 Q1987,644 1984,644.3 L1913.1,649" stroke-width="2.5"/>
<line x1="1977.4" y1="571" x2="1977.4" y2="590" stroke-width="2.4"/>
<path d="M1909.2,578 C1905,600 1905,625 1913.1,649" stroke-width="2.6"/>
<line x1="1909.2" y1="576.5" x2="1930" y2="577.5" stroke-width="2.2"/>
<rect x="1514.3" y="458.7" width="389.2" height="51.6" stroke-width="2.7"/>
<rect x="1507.8" y="510.3" width="401.1" height="61.5" stroke-width="2.7"/>
<path d="M1831.3,572 L1832.9,543.6 C1834,533 1848,528.7 1859.6,528.7 C1875,529 1895,536 1906.8,542 Q1913,546 1913.1,551.5 L1913.9,572" stroke-width="2.6"/>
<path d="M1834.4,546.8 Q1840,553 1847,553 Q1865,556 1881.6,557 Q1900,557 1912.3,556.2" stroke-width="2.2"/>
<path d="M1844.7,553 L1844.7,572 M1884.8,557.8 L1884.8,572 M1870.6,531 Q1876,545 1884.8,557.8" stroke-width="2.1"/>
<line x1="1831.3" y1="573.5" x2="1911" y2="573.5" stroke-width="3.4"/>
<path d="M1513,571.4 L1513,580.2 L1516.3,580.2 L1516.3,571.4" stroke-width="1.8"/>
<path d="M1524.5,571.4 L1524.5,580.2 L1551.2,580.2 L1551.2,571.4" stroke-width="2.2"/>
<path d="M1552.3,571.4 L1552.3,580.2 L1558.3,580.2 L1558.3,571.4" stroke-width="2.0"/>
<path d="M1582.8,571.4 L1582.8,580.2 L1624.3,580.2 L1624.3,571.4" stroke-width="2.2"/>
<path d="M1625.3,571.4 L1625.3,580.2 L1634,580.2 L1634,571.4" stroke-width="2.0"/>
<path d="M1516.3,573 C1516,650 1525,705 1558.9,733.3" stroke-width="3.2"/>
<path d="M1521.8,581.8 C1523,655 1532,705 1565.4,730" stroke-width="1.8"/>
<path d="M1512.5,575 C1512,650 1520,705 1552,732" stroke-width="1.6"/>
<path d="M1552.3,573 C1554,650 1565,700 1594.8,733.3" stroke-width="2.4"/>
<path d="M1558.3,573 C1560,650 1572,702 1600,733.3" stroke-width="2.4"/>
<line x1="1531.6" y1="580.7" x2="1531.6" y2="650" stroke-width="2.2"/>
<path d="M1551.2,592.7 C1540,605 1534,625 1534.9,645 C1536,665 1548,683 1564.3,687.5" stroke-width="2.2"/>
<path d="M1537,628.5 L1551,629.5 M1537,649 L1548,647 M1540,662.5 L1556,663.5" stroke-width="2.0"/>
<line x1="1548" y1="629.5" x2="1546" y2="663" stroke-width="2.0"/>
<line x1="1556" y1="663.5" x2="1557" y2="680" stroke-width="2.0"/>
<path d="M1577.4,716 L1577.4,733 M1579,716 L1579,733" stroke-width="1.8"/>
<path d="M1625.3,573 C1630,640 1638,690 1642.8,721.3 L1655.9,721.3 L1655.9,733.3" stroke-width="2.4"/>
<path d="M1634,573 C1637,640 1645,690 1647.1,721.3" stroke-width="2.4"/>
<line x1="1645" y1="721.3" x2="1645" y2="733.3" stroke-width="2.0"/>
<line x1="1588.8" y1="580.7" x2="1588.8" y2="658" stroke-width="2.3"/>
<path d="M1598,583 C1608,610 1620,635 1628.6,658" stroke-width="2.2"/>
<path d="M1601,582 C1612,608 1624,632 1631,655" stroke-width="1.6"/>
<path d="M1589.5,625 Q1600,628 1606,618 Q1612,608 1613,605" stroke-width="2.0"/>
<path d="M1590,630 C1595,645 1600,655 1612,663" stroke-width="3.0"/>
<path d="M1594,648 L1604,646 M1600,632 L1610,662" stroke-width="2.0"/>
<path d="M1594,662.5 L1630,662.5 M1596,675.5 L1630,675.5 M1602,685.3 L1632,685.3" stroke-width="2.2"/>
<path d="M1602,677 Q1606,685 1608.6,685.3 Q1612,682 1615,676" stroke-width="2.0"/>
<path d="M1601.4,685.3 L1601.4,733.3 M1610,685.3 L1610,733.3 M1613.4,685.3 L1613.4,733.3" stroke-width="2.2"/>
<line x1="1558.9" y1="733.3" x2="1655.9" y2="733.3" stroke-width="2.8"/>
<line x1="1657.6" y1="572" x2="1657.6" y2="722.2" stroke-width="2.4"/>
<path d="M1646,722.2 L1657.6,722.2 L1657.6,732" stroke-width="2.2"/>
<path d="M1657,572 L1657,580 L1690.9,580 L1690.9,572" stroke-width="2.2"/>
<path d="M1660,581 C1672,600 1684,625 1690,660" stroke-width="2.0"/>
<path d="M1660,590 C1670,610 1680,630 1687,660" stroke-width="2.0"/>
<path d="M1665,582 L1692,608" stroke-width="3.0"/>
<path d="M1678,632 Q1685,629 1692,628" stroke-width="1.8"/>
<line x1="1692.6" y1="572" x2="1692.6" y2="660.5" stroke-width="2.3"/>
<line x1="1659.4" y1="660.5" x2="1728.4" y2="660.5" stroke-width="2.3"/>
<path d="M1728.2,572 L1728.2,682.3 M1731.5,572 L1731.5,682.3" stroke-width="1.8"/>
<path d="M1659.5,662 L1702,663.5 L1704.5,672 L1704.5,684 M1660,676 L1704.5,676" stroke-width="2.1"/>
<line x1="1704.5" y1="662" x2="1728.2" y2="662" stroke-width="2.0"/>
<path d="M1733,572 L1733,682 M1740.5,590 L1740.5,682 M1733,605 L1740.5,605" stroke-width="2.0"/>
<path d="M1743,572 L1743,660 L1745,660 M1746,582 L1757.5,582 L1757.5,684 M1746,582 L1745.3,660" stroke-width="2.0"/>
<path d="M1746.5,585 Q1752,620 1745.5,632" stroke-width="1.8"/>
<path d="M1742,664 L1757,665 M1745,684 Q1752,682 1756,676" stroke-width="1.8"/>
<path d="M1759.9,572.1 L1765.3,676.2 L1778,721 L1795,721 C1815,690 1828,650 1830,620.5 L1831.3,577" stroke-width="2.6"/>
<path d="M1802,728.3 C1822,695 1836,650 1837.4,620.5 L1837.4,577" stroke-width="2.3"/>
<path d="M1821.6,572.1 L1822.8,619 L1828.5,619 L1829.5,572.1" stroke-width="1.8"/>
<path d="M1797,721.5 C1815,695 1826,660 1828.5,625" stroke-width="1.6"/>
<path d="M1659.4,684.5 L1702,684.5 Q1715,682 1740,683 Q1760,686 1765,688" stroke-width="2.2"/>
<path d="M1672,689.5 Q1700,687 1714,685 Q1740,683 1765,691" stroke-width="2.0"/>
<path d="M1659.5,694 Q1690,688 1703,689 Q1720,690 1745,690 Q1760,692 1770,696" stroke-width="2.2"/>
<path d="M1659.5,705.3 Q1700,698 1720,699 Q1745,699 1770,705" stroke-width="2.2"/>
<path d="M1704,693.2 L1733,693.2 L1731,697.5 L1706,697.5 Z" stroke-width="2.0"/>
<path d="M1707,697.5 L1707,705.3 M1730,697.5 L1730,705.3" stroke-width="2.0"/>
<line x1="1659.4" y1="706.5" x2="1770" y2="706.5" stroke-width="2.4"/>
<path d="M1765.3,676 L1770,706 L1778,721" stroke-width="2.2"/>
<path d="M1663.6,706.5 L1664.2,732 M1698.5,706.5 L1698.8,730.7 M1738.5,706.5 L1738.8,730.7 M1772.6,706.5 L1772.6,730.7" stroke-width="2.2"/>
<line x1="1668.5" y1="730.7" x2="1768.3" y2="730.7" stroke-width="2.4"/>
<path d="M1668.5,730.7 L1668.5,750 L1677,750 L1677,732" stroke-width="2.2"/>
<path d="M1688.5,732 L1688.5,744 Q1689,750 1696,750 L1704,750 L1704,732 M1691.5,734 L1691.5,745 Q1693,748 1697,748" stroke-width="2.0"/>
<path d="M1709,731.5 L1728,731.5 L1727,741 L1723,746 L1722,750 L1716,750 L1714.5,746 L1710,741 Z" fill="#111" stroke="none"/>
<path d="M1733,732 L1733,750 L1741,750 Q1748,750 1748,744 L1748,732 M1745,734 L1745,745" stroke-width="2.0"/>
<path d="M1760.5,732 L1760.5,750 L1768.3,750 L1768.3,730.7" stroke-width="2.2"/>
<rect x="1629.9" y="733.2" width="177.3" height="32" stroke-width="2.6"/>
<line x1="1629.9" y1="757" x2="1807" y2="757" stroke-width="2.2"/>
<line x1="1637.2" y1="733.2" x2="1637.2" y2="765" stroke-width="2.0"/>
<path d="M1645.8,733.3 L1645.8,750 L1668.5,750" stroke-width="2.0"/>
<path d="M1793.8,729.5 L1793.8,758.6 L1856.7,758.6 L1856.7,725.9" stroke-width="2.3"/>
<path d="M1774.4,728.3 L1800,729.5 L1856.7,725.9" stroke-width="2.3"/>
<path d="M1852.7,577 C1853,640 1851,700 1848,722" stroke-width="2.2"/>
<path d="M1884.9,577 C1888,640 1888,690 1884,721" stroke-width="2.2"/>
<path d="M1909.2,578.2 C1906,600 1907,625 1914.8,653 C1917,690 1905,720 1891.8,728 L1868.8,751.9 L1875,730 L1884.9,720.8" stroke-width="2.6"/>
<path d="M1837.4,610.4 L1884.9,610.4 M1837.4,635.7 L1852.7,635.7 M1834,662.2 Q1870,661 1914.8,658.7" stroke-width="2.1"/>
<path d="M1856.7,725.9 L1884.9,720.8" stroke-width="2.2"/>
<path d="M1860,723 L1860,752 L1867,752" stroke-width="2.0"/>
</g>
</g></svg></body></html>
